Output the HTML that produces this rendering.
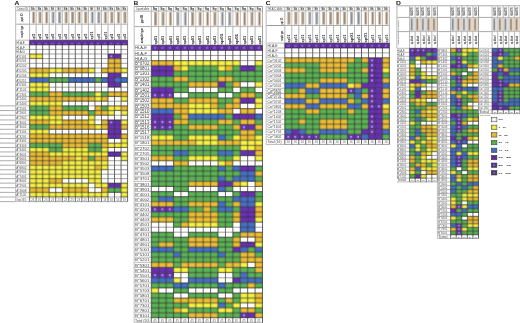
<!DOCTYPE html>
<html><head><meta charset="utf-8"><style>
html,body{margin:0;padding:0;background:#fff;}
body{width:520px;height:323px;overflow:hidden;}
svg{display:block;font-family:"Liberation Sans",sans-serif;will-change:transform;}
</style></head><body>
<svg xmlns="http://www.w3.org/2000/svg" width="520" height="323" viewBox="0 0 520 323">
<defs><filter id="bl" filterUnits="userSpaceOnUse" x="-5" y="-5" width="530" height="333" color-interpolation-filters="sRGB"><feConvolveMatrix order="3" kernelMatrix="0.01917 0.10012 0.01917 0.10012 0.52283 0.10012 0.01917 0.10012 0.01917" divisor="1" edgeMode="duplicate" preserveAlpha="true"/></filter></defs>
<rect x="0" y="0" width="520" height="323" fill="#ffffff"/>
<g filter="url(#bl)">
<rect x="31.87" y="11.70" width="3.40" height="11.80" fill="#efdcc6"/>
<rect x="38.40" y="11.70" width="3.40" height="11.80" fill="#efdcc6"/>
<rect x="44.93" y="11.70" width="3.40" height="11.80" fill="#efdcc6"/>
<rect x="51.47" y="11.70" width="3.40" height="11.80" fill="#dfe5ee"/>
<rect x="58.00" y="11.70" width="3.40" height="11.80" fill="#dfe5ee"/>
<rect x="64.53" y="11.70" width="3.40" height="11.80" fill="#efdcc6"/>
<rect x="71.06" y="11.70" width="3.40" height="11.80" fill="#efdcc6"/>
<rect x="77.60" y="11.70" width="3.40" height="11.80" fill="#efdcc6"/>
<rect x="84.13" y="11.70" width="3.40" height="11.80" fill="#efdcc6"/>
<rect x="90.66" y="11.70" width="3.40" height="11.80" fill="#dfe5ee"/>
<rect x="97.20" y="11.70" width="3.40" height="11.80" fill="#dfe5ee"/>
<rect x="103.73" y="11.70" width="3.40" height="11.80" fill="#efdcc6"/>
<rect x="110.26" y="11.70" width="3.40" height="11.80" fill="#efdcc6"/>
<rect x="116.80" y="11.70" width="3.40" height="11.80" fill="#efdcc6"/>
<rect x="123.33" y="11.70" width="3.40" height="11.80" fill="#efdcc6"/>
<rect x="29.60" y="40.23" width="6.53" height="4.62" fill="#6a2fb8"/>
<rect x="36.13" y="40.23" width="6.53" height="4.62" fill="#6a2fb8"/>
<rect x="42.67" y="40.23" width="6.53" height="4.62" fill="#6a2fb8"/>
<rect x="49.20" y="40.23" width="6.53" height="4.62" fill="#6a2fb8"/>
<rect x="55.73" y="40.23" width="6.53" height="4.62" fill="#6a2fb8"/>
<rect x="62.27" y="40.23" width="6.53" height="4.62" fill="#6a2fb8"/>
<rect x="68.80" y="40.23" width="6.53" height="4.62" fill="#6a2fb8"/>
<rect x="75.33" y="40.23" width="6.53" height="4.62" fill="#6a2fb8"/>
<rect x="81.86" y="40.23" width="6.53" height="4.62" fill="#6a2fb8"/>
<rect x="88.40" y="40.23" width="6.53" height="4.62" fill="#6a2fb8"/>
<rect x="94.93" y="40.23" width="6.53" height="4.62" fill="#6a2fb8"/>
<rect x="101.46" y="40.23" width="6.53" height="4.62" fill="#6a2fb8"/>
<rect x="108.00" y="40.23" width="6.53" height="4.62" fill="#6a2fb8"/>
<rect x="114.53" y="40.23" width="6.53" height="4.62" fill="#6a2fb8"/>
<rect x="121.06" y="40.23" width="6.53" height="4.62" fill="#6a2fb8"/>
<rect x="29.60" y="53.99" width="6.53" height="4.63" fill="#f8f240"/>
<rect x="36.13" y="53.99" width="6.53" height="4.63" fill="#f8f240"/>
<rect x="108.00" y="53.99" width="6.53" height="4.63" fill="#6a2fb8"/>
<rect x="114.53" y="53.99" width="6.53" height="4.63" fill="#6a2fb8"/>
<rect x="108.00" y="58.62" width="6.53" height="4.71" fill="#edbd32"/>
<rect x="114.53" y="58.62" width="6.53" height="4.71" fill="#edbd32"/>
<rect x="108.00" y="63.32" width="6.53" height="4.75" fill="#edbd32"/>
<rect x="114.53" y="63.32" width="6.53" height="4.75" fill="#edbd32"/>
<rect x="29.60" y="68.07" width="6.53" height="4.77" fill="#edbd32"/>
<rect x="36.13" y="68.07" width="6.53" height="4.77" fill="#edbd32"/>
<rect x="42.67" y="68.07" width="6.53" height="4.77" fill="#edbd32"/>
<rect x="49.20" y="68.07" width="6.53" height="4.77" fill="#f8f240"/>
<rect x="55.73" y="68.07" width="6.53" height="4.77" fill="#f8f240"/>
<rect x="62.27" y="68.07" width="6.53" height="4.77" fill="#edbd32"/>
<rect x="68.80" y="68.07" width="6.53" height="4.77" fill="#edbd32"/>
<rect x="75.33" y="68.07" width="6.53" height="4.77" fill="#edbd32"/>
<rect x="81.86" y="68.07" width="6.53" height="4.77" fill="#edbd32"/>
<rect x="88.40" y="68.07" width="6.53" height="4.77" fill="#f8f240"/>
<rect x="101.46" y="68.07" width="6.53" height="4.77" fill="#edbd32"/>
<rect x="108.00" y="68.07" width="6.53" height="4.77" fill="#edbd32"/>
<rect x="114.53" y="68.07" width="6.53" height="4.77" fill="#edbd32"/>
<rect x="121.06" y="68.07" width="6.53" height="4.77" fill="#f8f240"/>
<rect x="29.60" y="72.84" width="6.53" height="4.78" fill="#f8f240"/>
<rect x="36.13" y="72.84" width="6.53" height="4.78" fill="#f8f240"/>
<rect x="42.67" y="72.84" width="6.53" height="4.78" fill="#f8f240"/>
<rect x="108.00" y="72.84" width="6.53" height="4.78" fill="#6a2fb8"/>
<rect x="114.53" y="72.84" width="6.53" height="4.78" fill="#6a2fb8"/>
<rect x="29.60" y="77.62" width="6.53" height="4.78" fill="#4470c8"/>
<rect x="36.13" y="77.62" width="6.53" height="4.78" fill="#4470c8"/>
<rect x="42.67" y="77.62" width="6.53" height="4.78" fill="#4470c8"/>
<rect x="49.20" y="77.62" width="6.53" height="4.78" fill="#5ab354"/>
<rect x="55.73" y="77.62" width="6.53" height="4.78" fill="#5ab354"/>
<rect x="62.27" y="77.62" width="6.53" height="4.78" fill="#5ab354"/>
<rect x="68.80" y="77.62" width="6.53" height="4.78" fill="#4470c8"/>
<rect x="75.33" y="77.62" width="6.53" height="4.78" fill="#4470c8"/>
<rect x="81.86" y="77.62" width="6.53" height="4.78" fill="#4470c8"/>
<rect x="88.40" y="77.62" width="6.53" height="4.78" fill="#4470c8"/>
<rect x="94.93" y="77.62" width="6.53" height="4.78" fill="#5ab354"/>
<rect x="101.46" y="77.62" width="6.53" height="4.78" fill="#4470c8"/>
<rect x="108.00" y="77.62" width="6.53" height="4.78" fill="#6a2fb8"/>
<rect x="114.53" y="77.62" width="6.53" height="4.78" fill="#4470c8"/>
<rect x="121.06" y="77.62" width="6.53" height="4.78" fill="#4470c8"/>
<rect x="29.60" y="82.40" width="6.53" height="4.77" fill="#f8f240"/>
<rect x="36.13" y="82.40" width="6.53" height="4.77" fill="#f8f240"/>
<rect x="42.67" y="82.40" width="6.53" height="4.77" fill="#f8f240"/>
<rect x="108.00" y="82.40" width="6.53" height="4.77" fill="#6a2fb8"/>
<rect x="114.53" y="82.40" width="6.53" height="4.77" fill="#6a2fb8"/>
<rect x="29.60" y="87.17" width="6.53" height="4.72" fill="#f8f240"/>
<rect x="36.13" y="87.17" width="6.53" height="4.72" fill="#f8f240"/>
<rect x="42.67" y="87.17" width="6.53" height="4.72" fill="#f8f240"/>
<rect x="29.60" y="91.89" width="6.53" height="4.68" fill="#5ab354"/>
<rect x="36.13" y="91.89" width="6.53" height="4.68" fill="#5ab354"/>
<rect x="42.67" y="91.89" width="6.53" height="4.68" fill="#5ab354"/>
<rect x="49.20" y="91.89" width="6.53" height="4.68" fill="#edbd32"/>
<rect x="55.73" y="91.89" width="6.53" height="4.68" fill="#edbd32"/>
<rect x="62.27" y="91.89" width="6.53" height="4.68" fill="#5ab354"/>
<rect x="68.80" y="91.89" width="6.53" height="4.68" fill="#5ab354"/>
<rect x="75.33" y="91.89" width="6.53" height="4.68" fill="#5ab354"/>
<rect x="81.86" y="91.89" width="6.53" height="4.68" fill="#5ab354"/>
<rect x="88.40" y="91.89" width="6.53" height="4.68" fill="#5ab354"/>
<rect x="94.93" y="91.89" width="6.53" height="4.68" fill="#f8f240"/>
<rect x="101.46" y="91.89" width="6.53" height="4.68" fill="#5ab354"/>
<rect x="108.00" y="91.89" width="6.53" height="4.68" fill="#edbd32"/>
<rect x="114.53" y="91.89" width="6.53" height="4.68" fill="#edbd32"/>
<rect x="121.06" y="91.89" width="6.53" height="4.68" fill="#edbd32"/>
<rect x="29.60" y="96.57" width="6.53" height="4.66" fill="#edbd32"/>
<rect x="36.13" y="96.57" width="6.53" height="4.66" fill="#edbd32"/>
<rect x="42.67" y="96.57" width="6.53" height="4.66" fill="#edbd32"/>
<rect x="49.20" y="96.57" width="6.53" height="4.66" fill="#edbd32"/>
<rect x="55.73" y="96.57" width="6.53" height="4.66" fill="#edbd32"/>
<rect x="62.27" y="96.57" width="6.53" height="4.66" fill="#edbd32"/>
<rect x="68.80" y="96.57" width="6.53" height="4.66" fill="#edbd32"/>
<rect x="75.33" y="96.57" width="6.53" height="4.66" fill="#edbd32"/>
<rect x="81.86" y="96.57" width="6.53" height="4.66" fill="#edbd32"/>
<rect x="88.40" y="96.57" width="6.53" height="4.66" fill="#edbd32"/>
<rect x="94.93" y="96.57" width="6.53" height="4.66" fill="#f8f240"/>
<rect x="101.46" y="96.57" width="6.53" height="4.66" fill="#edbd32"/>
<rect x="121.06" y="96.57" width="6.53" height="4.66" fill="#f8f240"/>
<rect x="29.60" y="101.23" width="6.53" height="4.66" fill="#f8f240"/>
<rect x="36.13" y="101.23" width="6.53" height="4.66" fill="#f8f240"/>
<rect x="42.67" y="101.23" width="6.53" height="4.66" fill="#f8f240"/>
<rect x="49.20" y="101.23" width="6.53" height="4.66" fill="#f8f240"/>
<rect x="55.73" y="101.23" width="6.53" height="4.66" fill="#f8f240"/>
<rect x="29.60" y="105.89" width="6.53" height="4.67" fill="#5ab354"/>
<rect x="36.13" y="105.89" width="6.53" height="4.67" fill="#5ab354"/>
<rect x="42.67" y="105.89" width="6.53" height="4.67" fill="#5ab354"/>
<rect x="49.20" y="105.89" width="6.53" height="4.67" fill="#edbd32"/>
<rect x="55.73" y="105.89" width="6.53" height="4.67" fill="#edbd32"/>
<rect x="62.27" y="105.89" width="6.53" height="4.67" fill="#5ab354"/>
<rect x="68.80" y="105.89" width="6.53" height="4.67" fill="#5ab354"/>
<rect x="75.33" y="105.89" width="6.53" height="4.67" fill="#5ab354"/>
<rect x="81.86" y="105.89" width="6.53" height="4.67" fill="#5ab354"/>
<rect x="94.93" y="105.89" width="6.53" height="4.67" fill="#edbd32"/>
<rect x="101.46" y="105.89" width="6.53" height="4.67" fill="#5ab354"/>
<rect x="108.00" y="105.89" width="6.53" height="4.67" fill="#f8f240"/>
<rect x="114.53" y="105.89" width="6.53" height="4.67" fill="#f8f240"/>
<rect x="121.06" y="105.89" width="6.53" height="4.67" fill="#edbd32"/>
<rect x="29.60" y="110.57" width="6.53" height="4.69" fill="#5ab354"/>
<rect x="36.13" y="110.57" width="6.53" height="4.69" fill="#5ab354"/>
<rect x="42.67" y="110.57" width="6.53" height="4.69" fill="#5ab354"/>
<rect x="49.20" y="110.57" width="6.53" height="4.69" fill="#edbd32"/>
<rect x="55.73" y="110.57" width="6.53" height="4.69" fill="#edbd32"/>
<rect x="62.27" y="110.57" width="6.53" height="4.69" fill="#edbd32"/>
<rect x="68.80" y="110.57" width="6.53" height="4.69" fill="#edbd32"/>
<rect x="75.33" y="110.57" width="6.53" height="4.69" fill="#edbd32"/>
<rect x="81.86" y="110.57" width="6.53" height="4.69" fill="#edbd32"/>
<rect x="88.40" y="110.57" width="6.53" height="4.69" fill="#5ab354"/>
<rect x="94.93" y="110.57" width="6.53" height="4.69" fill="#edbd32"/>
<rect x="101.46" y="110.57" width="6.53" height="4.69" fill="#edbd32"/>
<rect x="108.00" y="110.57" width="6.53" height="4.69" fill="#f8f240"/>
<rect x="121.06" y="110.57" width="6.53" height="4.69" fill="#f8f240"/>
<rect x="29.60" y="115.26" width="6.53" height="4.69" fill="#f8f240"/>
<rect x="36.13" y="115.26" width="6.53" height="4.69" fill="#f8f240"/>
<rect x="42.67" y="115.26" width="6.53" height="4.69" fill="#f8f240"/>
<rect x="49.20" y="115.26" width="6.53" height="4.69" fill="#f8f240"/>
<rect x="55.73" y="115.26" width="6.53" height="4.69" fill="#f8f240"/>
<rect x="88.40" y="115.26" width="6.53" height="4.69" fill="#f8f240"/>
<rect x="29.60" y="119.95" width="6.53" height="4.68" fill="#edbd32"/>
<rect x="36.13" y="119.95" width="6.53" height="4.68" fill="#edbd32"/>
<rect x="42.67" y="119.95" width="6.53" height="4.68" fill="#edbd32"/>
<rect x="49.20" y="119.95" width="6.53" height="4.68" fill="#f8f240"/>
<rect x="55.73" y="119.95" width="6.53" height="4.68" fill="#f8f240"/>
<rect x="62.27" y="119.95" width="6.53" height="4.68" fill="#edbd32"/>
<rect x="68.80" y="119.95" width="6.53" height="4.68" fill="#edbd32"/>
<rect x="75.33" y="119.95" width="6.53" height="4.68" fill="#edbd32"/>
<rect x="81.86" y="119.95" width="6.53" height="4.68" fill="#edbd32"/>
<rect x="88.40" y="119.95" width="6.53" height="4.68" fill="#f8f240"/>
<rect x="101.46" y="119.95" width="6.53" height="4.68" fill="#edbd32"/>
<rect x="108.00" y="119.95" width="6.53" height="4.68" fill="#6a2fb8"/>
<rect x="114.53" y="119.95" width="6.53" height="4.68" fill="#6a2fb8"/>
<rect x="121.06" y="119.95" width="6.53" height="4.68" fill="#f8f240"/>
<rect x="29.60" y="124.63" width="6.53" height="4.67" fill="#5ab354"/>
<rect x="36.13" y="124.63" width="6.53" height="4.67" fill="#5ab354"/>
<rect x="42.67" y="124.63" width="6.53" height="4.67" fill="#5ab354"/>
<rect x="49.20" y="124.63" width="6.53" height="4.67" fill="#edbd32"/>
<rect x="55.73" y="124.63" width="6.53" height="4.67" fill="#edbd32"/>
<rect x="62.27" y="124.63" width="6.53" height="4.67" fill="#edbd32"/>
<rect x="68.80" y="124.63" width="6.53" height="4.67" fill="#edbd32"/>
<rect x="75.33" y="124.63" width="6.53" height="4.67" fill="#edbd32"/>
<rect x="81.86" y="124.63" width="6.53" height="4.67" fill="#edbd32"/>
<rect x="88.40" y="124.63" width="6.53" height="4.67" fill="#edbd32"/>
<rect x="94.93" y="124.63" width="6.53" height="4.67" fill="#f8f240"/>
<rect x="101.46" y="124.63" width="6.53" height="4.67" fill="#edbd32"/>
<rect x="108.00" y="124.63" width="6.53" height="4.67" fill="#6a2fb8"/>
<rect x="114.53" y="124.63" width="6.53" height="4.67" fill="#6a2fb8"/>
<rect x="121.06" y="124.63" width="6.53" height="4.67" fill="#edbd32"/>
<rect x="29.60" y="129.30" width="6.53" height="4.65" fill="#f8f240"/>
<rect x="36.13" y="129.30" width="6.53" height="4.65" fill="#f8f240"/>
<rect x="42.67" y="129.30" width="6.53" height="4.65" fill="#f8f240"/>
<rect x="108.00" y="129.30" width="6.53" height="4.65" fill="#6a2fb8"/>
<rect x="114.53" y="129.30" width="6.53" height="4.65" fill="#6a2fb8"/>
<rect x="29.60" y="133.95" width="6.53" height="4.60" fill="#edbd32"/>
<rect x="36.13" y="133.95" width="6.53" height="4.60" fill="#edbd32"/>
<rect x="42.67" y="133.95" width="6.53" height="4.60" fill="#edbd32"/>
<rect x="49.20" y="133.95" width="6.53" height="4.60" fill="#edbd32"/>
<rect x="55.73" y="133.95" width="6.53" height="4.60" fill="#edbd32"/>
<rect x="62.27" y="133.95" width="6.53" height="4.60" fill="#edbd32"/>
<rect x="68.80" y="133.95" width="6.53" height="4.60" fill="#edbd32"/>
<rect x="75.33" y="133.95" width="6.53" height="4.60" fill="#edbd32"/>
<rect x="81.86" y="133.95" width="6.53" height="4.60" fill="#edbd32"/>
<rect x="88.40" y="133.95" width="6.53" height="4.60" fill="#edbd32"/>
<rect x="94.93" y="133.95" width="6.53" height="4.60" fill="#edbd32"/>
<rect x="101.46" y="133.95" width="6.53" height="4.60" fill="#edbd32"/>
<rect x="108.00" y="133.95" width="6.53" height="4.60" fill="#6a2fb8"/>
<rect x="114.53" y="133.95" width="6.53" height="4.60" fill="#6a2fb8"/>
<rect x="121.06" y="133.95" width="6.53" height="4.60" fill="#edbd32"/>
<rect x="29.60" y="138.55" width="6.53" height="4.53" fill="#edbd32"/>
<rect x="36.13" y="138.55" width="6.53" height="4.53" fill="#edbd32"/>
<rect x="42.67" y="138.55" width="6.53" height="4.53" fill="#edbd32"/>
<rect x="49.20" y="138.55" width="6.53" height="4.53" fill="#edbd32"/>
<rect x="55.73" y="138.55" width="6.53" height="4.53" fill="#edbd32"/>
<rect x="62.27" y="138.55" width="6.53" height="4.53" fill="#edbd32"/>
<rect x="68.80" y="138.55" width="6.53" height="4.53" fill="#edbd32"/>
<rect x="75.33" y="138.55" width="6.53" height="4.53" fill="#edbd32"/>
<rect x="81.86" y="138.55" width="6.53" height="4.53" fill="#edbd32"/>
<rect x="88.40" y="138.55" width="6.53" height="4.53" fill="#edbd32"/>
<rect x="94.93" y="138.55" width="6.53" height="4.53" fill="#edbd32"/>
<rect x="101.46" y="138.55" width="6.53" height="4.53" fill="#edbd32"/>
<rect x="121.06" y="138.55" width="6.53" height="4.53" fill="#f8f240"/>
<rect x="29.60" y="143.08" width="6.53" height="4.46" fill="#5ab354"/>
<rect x="36.13" y="143.08" width="6.53" height="4.46" fill="#5ab354"/>
<rect x="42.67" y="143.08" width="6.53" height="4.46" fill="#5ab354"/>
<rect x="49.20" y="143.08" width="6.53" height="4.46" fill="#5ab354"/>
<rect x="55.73" y="143.08" width="6.53" height="4.46" fill="#5ab354"/>
<rect x="62.27" y="143.08" width="6.53" height="4.46" fill="#edbd32"/>
<rect x="68.80" y="143.08" width="6.53" height="4.46" fill="#edbd32"/>
<rect x="75.33" y="143.08" width="6.53" height="4.46" fill="#edbd32"/>
<rect x="81.86" y="143.08" width="6.53" height="4.46" fill="#edbd32"/>
<rect x="88.40" y="143.08" width="6.53" height="4.46" fill="#5ab354"/>
<rect x="94.93" y="143.08" width="6.53" height="4.46" fill="#5ab354"/>
<rect x="101.46" y="143.08" width="6.53" height="4.46" fill="#edbd32"/>
<rect x="108.00" y="143.08" width="6.53" height="4.46" fill="#f8f240"/>
<rect x="114.53" y="143.08" width="6.53" height="4.46" fill="#f8f240"/>
<rect x="121.06" y="143.08" width="6.53" height="4.46" fill="#f8f240"/>
<rect x="29.60" y="147.54" width="6.53" height="4.40" fill="#f8f240"/>
<rect x="36.13" y="147.54" width="6.53" height="4.40" fill="#f8f240"/>
<rect x="42.67" y="147.54" width="6.53" height="4.40" fill="#f8f240"/>
<rect x="49.20" y="147.54" width="6.53" height="4.40" fill="#5ab354"/>
<rect x="55.73" y="147.54" width="6.53" height="4.40" fill="#5ab354"/>
<rect x="62.27" y="147.54" width="6.53" height="4.40" fill="#f8f240"/>
<rect x="68.80" y="147.54" width="6.53" height="4.40" fill="#f8f240"/>
<rect x="75.33" y="147.54" width="6.53" height="4.40" fill="#f8f240"/>
<rect x="81.86" y="147.54" width="6.53" height="4.40" fill="#f8f240"/>
<rect x="88.40" y="147.54" width="6.53" height="4.40" fill="#5ab354"/>
<rect x="94.93" y="147.54" width="6.53" height="4.40" fill="#5ab354"/>
<rect x="101.46" y="147.54" width="6.53" height="4.40" fill="#f8f240"/>
<rect x="29.60" y="151.93" width="6.53" height="4.37" fill="#edbd32"/>
<rect x="36.13" y="151.93" width="6.53" height="4.37" fill="#edbd32"/>
<rect x="42.67" y="151.93" width="6.53" height="4.37" fill="#edbd32"/>
<rect x="49.20" y="151.93" width="6.53" height="4.37" fill="#f8f240"/>
<rect x="55.73" y="151.93" width="6.53" height="4.37" fill="#f8f240"/>
<rect x="62.27" y="151.93" width="6.53" height="4.37" fill="#f8f240"/>
<rect x="68.80" y="151.93" width="6.53" height="4.37" fill="#f8f240"/>
<rect x="75.33" y="151.93" width="6.53" height="4.37" fill="#f8f240"/>
<rect x="81.86" y="151.93" width="6.53" height="4.37" fill="#f8f240"/>
<rect x="88.40" y="151.93" width="6.53" height="4.37" fill="#f8f240"/>
<rect x="94.93" y="151.93" width="6.53" height="4.37" fill="#f8f240"/>
<rect x="101.46" y="151.93" width="6.53" height="4.37" fill="#f8f240"/>
<rect x="108.00" y="151.93" width="6.53" height="4.37" fill="#6a2fb8"/>
<rect x="114.53" y="151.93" width="6.53" height="4.37" fill="#6a2fb8"/>
<rect x="121.06" y="151.93" width="6.53" height="4.37" fill="#f8f240"/>
<rect x="29.60" y="156.30" width="6.53" height="4.43" fill="#edbd32"/>
<rect x="36.13" y="156.30" width="6.53" height="4.43" fill="#edbd32"/>
<rect x="42.67" y="156.30" width="6.53" height="4.43" fill="#edbd32"/>
<rect x="49.20" y="156.30" width="6.53" height="4.43" fill="#edbd32"/>
<rect x="55.73" y="156.30" width="6.53" height="4.43" fill="#edbd32"/>
<rect x="62.27" y="156.30" width="6.53" height="4.43" fill="#edbd32"/>
<rect x="68.80" y="156.30" width="6.53" height="4.43" fill="#edbd32"/>
<rect x="75.33" y="156.30" width="6.53" height="4.43" fill="#f8f240"/>
<rect x="81.86" y="156.30" width="6.53" height="4.43" fill="#edbd32"/>
<rect x="88.40" y="156.30" width="6.53" height="4.43" fill="#5ab354"/>
<rect x="94.93" y="156.30" width="6.53" height="4.43" fill="#edbd32"/>
<rect x="101.46" y="156.30" width="6.53" height="4.43" fill="#edbd32"/>
<rect x="121.06" y="156.30" width="6.53" height="4.43" fill="#f8f240"/>
<rect x="29.60" y="160.73" width="6.53" height="4.51" fill="#edbd32"/>
<rect x="36.13" y="160.73" width="6.53" height="4.51" fill="#edbd32"/>
<rect x="42.67" y="160.73" width="6.53" height="4.51" fill="#edbd32"/>
<rect x="49.20" y="160.73" width="6.53" height="4.51" fill="#edbd32"/>
<rect x="55.73" y="160.73" width="6.53" height="4.51" fill="#edbd32"/>
<rect x="62.27" y="160.73" width="6.53" height="4.51" fill="#f8f240"/>
<rect x="68.80" y="160.73" width="6.53" height="4.51" fill="#f8f240"/>
<rect x="75.33" y="160.73" width="6.53" height="4.51" fill="#f8f240"/>
<rect x="81.86" y="160.73" width="6.53" height="4.51" fill="#f8f240"/>
<rect x="88.40" y="160.73" width="6.53" height="4.51" fill="#f8f240"/>
<rect x="94.93" y="160.73" width="6.53" height="4.51" fill="#f8f240"/>
<rect x="101.46" y="160.73" width="6.53" height="4.51" fill="#f8f240"/>
<rect x="29.60" y="165.24" width="6.53" height="4.49" fill="#f8f240"/>
<rect x="36.13" y="165.24" width="6.53" height="4.49" fill="#f8f240"/>
<rect x="42.67" y="165.24" width="6.53" height="4.49" fill="#f8f240"/>
<rect x="49.20" y="165.24" width="6.53" height="4.49" fill="#f8f240"/>
<rect x="55.73" y="165.24" width="6.53" height="4.49" fill="#f8f240"/>
<rect x="62.27" y="165.24" width="6.53" height="4.49" fill="#f8f240"/>
<rect x="68.80" y="165.24" width="6.53" height="4.49" fill="#f8f240"/>
<rect x="75.33" y="165.24" width="6.53" height="4.49" fill="#f8f240"/>
<rect x="81.86" y="165.24" width="6.53" height="4.49" fill="#f8f240"/>
<rect x="88.40" y="165.24" width="6.53" height="4.49" fill="#f8f240"/>
<rect x="94.93" y="165.24" width="6.53" height="4.49" fill="#edbd32"/>
<rect x="101.46" y="165.24" width="6.53" height="4.49" fill="#f8f240"/>
<rect x="29.60" y="169.73" width="6.53" height="4.47" fill="#f8f240"/>
<rect x="36.13" y="169.73" width="6.53" height="4.47" fill="#f8f240"/>
<rect x="42.67" y="169.73" width="6.53" height="4.47" fill="#f8f240"/>
<rect x="49.20" y="169.73" width="6.53" height="4.47" fill="#f8f240"/>
<rect x="55.73" y="169.73" width="6.53" height="4.47" fill="#f8f240"/>
<rect x="62.27" y="169.73" width="6.53" height="4.47" fill="#f8f240"/>
<rect x="68.80" y="169.73" width="6.53" height="4.47" fill="#f8f240"/>
<rect x="75.33" y="169.73" width="6.53" height="4.47" fill="#f8f240"/>
<rect x="81.86" y="169.73" width="6.53" height="4.47" fill="#f8f240"/>
<rect x="88.40" y="169.73" width="6.53" height="4.47" fill="#f8f240"/>
<rect x="94.93" y="169.73" width="6.53" height="4.47" fill="#f8f240"/>
<rect x="29.60" y="174.20" width="6.53" height="4.44" fill="#f8f240"/>
<rect x="36.13" y="174.20" width="6.53" height="4.44" fill="#f8f240"/>
<rect x="42.67" y="174.20" width="6.53" height="4.44" fill="#f8f240"/>
<rect x="49.20" y="174.20" width="6.53" height="4.44" fill="#f8f240"/>
<rect x="55.73" y="174.20" width="6.53" height="4.44" fill="#f8f240"/>
<rect x="62.27" y="174.20" width="6.53" height="4.44" fill="#f8f240"/>
<rect x="68.80" y="174.20" width="6.53" height="4.44" fill="#f8f240"/>
<rect x="75.33" y="174.20" width="6.53" height="4.44" fill="#f8f240"/>
<rect x="81.86" y="174.20" width="6.53" height="4.44" fill="#f8f240"/>
<rect x="88.40" y="174.20" width="6.53" height="4.44" fill="#f8f240"/>
<rect x="94.93" y="174.20" width="6.53" height="4.44" fill="#f8f240"/>
<rect x="29.60" y="178.64" width="6.53" height="4.49" fill="#f8f240"/>
<rect x="36.13" y="178.64" width="6.53" height="4.49" fill="#f8f240"/>
<rect x="42.67" y="178.64" width="6.53" height="4.49" fill="#f8f240"/>
<rect x="49.20" y="178.64" width="6.53" height="4.49" fill="#edbd32"/>
<rect x="55.73" y="178.64" width="6.53" height="4.49" fill="#edbd32"/>
<rect x="88.40" y="178.64" width="6.53" height="4.49" fill="#f8f240"/>
<rect x="94.93" y="178.64" width="6.53" height="4.49" fill="#f8f240"/>
<rect x="29.60" y="183.13" width="6.53" height="4.61" fill="#f8f240"/>
<rect x="36.13" y="183.13" width="6.53" height="4.61" fill="#f8f240"/>
<rect x="42.67" y="183.13" width="6.53" height="4.61" fill="#f8f240"/>
<rect x="49.20" y="183.13" width="6.53" height="4.61" fill="#f8f240"/>
<rect x="55.73" y="183.13" width="6.53" height="4.61" fill="#f8f240"/>
<rect x="62.27" y="183.13" width="6.53" height="4.61" fill="#f8f240"/>
<rect x="68.80" y="183.13" width="6.53" height="4.61" fill="#f8f240"/>
<rect x="75.33" y="183.13" width="6.53" height="4.61" fill="#f8f240"/>
<rect x="81.86" y="183.13" width="6.53" height="4.61" fill="#f8f240"/>
<rect x="94.93" y="183.13" width="6.53" height="4.61" fill="#f8f240"/>
<rect x="101.46" y="183.13" width="6.53" height="4.61" fill="#f8f240"/>
<rect x="108.00" y="183.13" width="6.53" height="4.61" fill="#6a2fb8"/>
<rect x="114.53" y="183.13" width="6.53" height="4.61" fill="#6a2fb8"/>
<rect x="121.06" y="183.13" width="6.53" height="4.61" fill="#f8f240"/>
<rect x="29.60" y="187.74" width="6.53" height="4.63" fill="#edbd32"/>
<rect x="36.13" y="187.74" width="6.53" height="4.63" fill="#edbd32"/>
<rect x="42.67" y="187.74" width="6.53" height="4.63" fill="#edbd32"/>
<rect x="62.27" y="187.74" width="6.53" height="4.63" fill="#edbd32"/>
<rect x="68.80" y="187.74" width="6.53" height="4.63" fill="#edbd32"/>
<rect x="75.33" y="187.74" width="6.53" height="4.63" fill="#edbd32"/>
<rect x="81.86" y="187.74" width="6.53" height="4.63" fill="#edbd32"/>
<rect x="101.46" y="187.74" width="6.53" height="4.63" fill="#edbd32"/>
<rect x="108.00" y="187.74" width="6.53" height="4.63" fill="#5ab354"/>
<rect x="114.53" y="187.74" width="6.53" height="4.63" fill="#5ab354"/>
<rect x="121.06" y="187.74" width="6.53" height="4.63" fill="#f8f240"/>
<rect x="29.60" y="192.37" width="6.53" height="4.62" fill="#f8f240"/>
<rect x="36.13" y="192.37" width="6.53" height="4.62" fill="#f8f240"/>
<rect x="42.67" y="192.37" width="6.53" height="4.62" fill="#f8f240"/>
<rect x="49.20" y="192.37" width="6.53" height="4.62" fill="#f8f240"/>
<rect x="55.73" y="192.37" width="6.53" height="4.62" fill="#f8f240"/>
<rect x="62.27" y="192.37" width="6.53" height="4.62" fill="#f8f240"/>
<rect x="68.80" y="192.37" width="6.53" height="4.62" fill="#f8f240"/>
<rect x="75.33" y="192.37" width="6.53" height="4.62" fill="#f8f240"/>
<rect x="81.86" y="192.37" width="6.53" height="4.62" fill="#f8f240"/>
<rect x="88.40" y="192.37" width="6.53" height="4.62" fill="#f8f240"/>
<rect x="94.93" y="192.37" width="6.53" height="4.62" fill="#f8f240"/>
<rect x="101.46" y="192.37" width="6.53" height="4.62" fill="#f8f240"/>
<rect x="121.06" y="192.37" width="6.53" height="4.62" fill="#f8f240"/>
<text x="32.87" y="10.06" font-size="3.28" fill="#222" text-anchor="middle" font-weight="bold">Sk</text>
<rect x="32.87" y="12.01" width="1.40" height="10.99" fill="#55463a" opacity="0.72"/>
<text x="34.65" y="36.64" font-size="3.0" fill="#2e2e2e" font-weight="bold" text-anchor="middle" textLength="5.77" lengthAdjust="spacingAndGlyphs" transform="rotate(-90 34.65 36.64)">sp01</text>
<text x="39.40" y="10.06" font-size="3.28" fill="#222" text-anchor="middle" font-weight="bold">Sk</text>
<rect x="39.40" y="12.01" width="1.40" height="10.99" fill="#55463a" opacity="0.72"/>
<text x="41.18" y="36.64" font-size="3.0" fill="#2e2e2e" font-weight="bold" text-anchor="middle" textLength="5.77" lengthAdjust="spacingAndGlyphs" transform="rotate(-90 41.18 36.64)">sp01</text>
<text x="45.93" y="10.06" font-size="3.28" fill="#222" text-anchor="middle" font-weight="bold">Sk</text>
<rect x="45.93" y="12.01" width="1.40" height="10.99" fill="#55463a" opacity="0.72"/>
<text x="47.71" y="36.64" font-size="3.0" fill="#2e2e2e" font-weight="bold" text-anchor="middle" textLength="5.77" lengthAdjust="spacingAndGlyphs" transform="rotate(-90 47.71 36.64)">sp01</text>
<text x="52.47" y="10.06" font-size="3.28" fill="#222" text-anchor="middle" font-weight="bold">Sf</text>
<rect x="52.47" y="12.01" width="1.40" height="10.99" fill="#55463a" opacity="0.72"/>
<text x="54.25" y="36.64" font-size="3.0" fill="#2e2e2e" font-weight="bold" text-anchor="middle" textLength="5.77" lengthAdjust="spacingAndGlyphs" transform="rotate(-90 54.25 36.64)">sp01</text>
<text x="59.00" y="10.06" font-size="3.28" fill="#222" text-anchor="middle" font-weight="bold">Sf</text>
<rect x="59.00" y="12.01" width="1.40" height="10.99" fill="#55463a" opacity="0.72"/>
<text x="60.78" y="36.64" font-size="3.0" fill="#2e2e2e" font-weight="bold" text-anchor="middle" textLength="5.77" lengthAdjust="spacingAndGlyphs" transform="rotate(-90 60.78 36.64)">sp01</text>
<text x="65.53" y="10.06" font-size="3.28" fill="#222" text-anchor="middle" font-weight="bold">Sk</text>
<rect x="65.53" y="12.01" width="1.40" height="10.99" fill="#55463a" opacity="0.72"/>
<text x="67.31" y="36.64" font-size="3.0" fill="#2e2e2e" font-weight="bold" text-anchor="middle" textLength="5.77" lengthAdjust="spacingAndGlyphs" transform="rotate(-90 67.31 36.64)">sp01</text>
<text x="72.06" y="10.06" font-size="3.28" fill="#222" text-anchor="middle" font-weight="bold">Sk</text>
<rect x="72.06" y="12.01" width="1.40" height="10.99" fill="#55463a" opacity="0.72"/>
<text x="73.84" y="36.64" font-size="3.0" fill="#2e2e2e" font-weight="bold" text-anchor="middle" textLength="5.77" lengthAdjust="spacingAndGlyphs" transform="rotate(-90 73.84 36.64)">sp01</text>
<text x="78.60" y="10.06" font-size="3.28" fill="#222" text-anchor="middle" font-weight="bold">Sk</text>
<rect x="78.60" y="12.01" width="1.40" height="10.99" fill="#55463a" opacity="0.72"/>
<text x="80.38" y="36.64" font-size="3.0" fill="#2e2e2e" font-weight="bold" text-anchor="middle" textLength="5.77" lengthAdjust="spacingAndGlyphs" transform="rotate(-90 80.38 36.64)">sp01</text>
<text x="85.13" y="10.06" font-size="3.28" fill="#222" text-anchor="middle" font-weight="bold">Sk</text>
<rect x="85.13" y="12.01" width="1.40" height="10.99" fill="#55463a" opacity="0.72"/>
<text x="86.91" y="36.64" font-size="3.0" fill="#2e2e2e" font-weight="bold" text-anchor="middle" textLength="5.77" lengthAdjust="spacingAndGlyphs" transform="rotate(-90 86.91 36.64)">sp01</text>
<text x="91.66" y="10.06" font-size="3.28" fill="#222" text-anchor="middle" font-weight="bold">Sf</text>
<rect x="91.66" y="12.01" width="1.40" height="10.99" fill="#55463a" opacity="0.72"/>
<text x="93.44" y="35.52" font-size="3.0" fill="#2e2e2e" font-weight="bold" text-anchor="middle" textLength="8.01" lengthAdjust="spacingAndGlyphs" transform="rotate(-90 93.44 35.52)">sp01</text>
<text x="98.20" y="10.06" font-size="3.28" fill="#222" text-anchor="middle" font-weight="bold">Sf</text>
<rect x="98.20" y="12.01" width="1.40" height="10.99" fill="#55463a" opacity="0.72"/>
<text x="99.98" y="36.64" font-size="3.0" fill="#2e2e2e" font-weight="bold" text-anchor="middle" textLength="5.77" lengthAdjust="spacingAndGlyphs" transform="rotate(-90 99.98 36.64)">sp01</text>
<text x="104.73" y="10.06" font-size="3.28" fill="#222" text-anchor="middle" font-weight="bold">Sk</text>
<rect x="104.73" y="12.01" width="1.40" height="10.99" fill="#55463a" opacity="0.72"/>
<text x="106.51" y="35.52" font-size="3.0" fill="#2e2e2e" font-weight="bold" text-anchor="middle" textLength="8.01" lengthAdjust="spacingAndGlyphs" transform="rotate(-90 106.51 35.52)">sp01</text>
<text x="111.26" y="10.06" font-size="3.28" fill="#222" text-anchor="middle" font-weight="bold">Sk</text>
<rect x="111.26" y="12.01" width="1.40" height="10.99" fill="#55463a" opacity="0.72"/>
<text x="113.04" y="36.64" font-size="3.0" fill="#2e2e2e" font-weight="bold" text-anchor="middle" textLength="5.77" lengthAdjust="spacingAndGlyphs" transform="rotate(-90 113.04 36.64)">sp01</text>
<text x="117.80" y="10.06" font-size="3.28" fill="#222" text-anchor="middle" font-weight="bold">Sk</text>
<rect x="117.80" y="12.01" width="1.40" height="10.99" fill="#55463a" opacity="0.72"/>
<text x="119.58" y="36.64" font-size="3.0" fill="#2e2e2e" font-weight="bold" text-anchor="middle" textLength="5.77" lengthAdjust="spacingAndGlyphs" transform="rotate(-90 119.58 36.64)">sp01</text>
<text x="124.33" y="10.06" font-size="3.28" fill="#222" text-anchor="middle" font-weight="bold">Sk</text>
<rect x="124.33" y="12.01" width="1.40" height="10.99" fill="#55463a" opacity="0.72"/>
<text x="126.11" y="36.64" font-size="3.0" fill="#2e2e2e" font-weight="bold" text-anchor="middle" textLength="5.77" lengthAdjust="spacingAndGlyphs" transform="rotate(-90 126.11 36.64)">sp01</text>
<text x="22.65" y="9.98" font-size="2.60" fill="#333" text-anchor="middle" font-weight="normal" textLength="10.43" lengthAdjust="spacingAndGlyphs">Donor ID</text>
<text x="23.17" y="17.50" font-size="2.7" fill="#222" font-weight="bold" text-anchor="middle" textLength="8.20" lengthAdjust="spacingAndGlyphs" transform="rotate(-90 23.17 17.50)">ppt ID</text>
<text x="23.17" y="31.65" font-size="2.7" fill="#222" font-weight="bold" text-anchor="middle" textLength="11.70" lengthAdjust="spacingAndGlyphs" transform="rotate(-90 23.17 31.65)">sample type</text>
<text x="32.87" y="43.55" font-size="2.54" fill="#c9b8e8" text-anchor="middle" font-weight="normal">sl</text>
<text x="39.40" y="43.55" font-size="2.54" fill="#c9b8e8" text-anchor="middle" font-weight="normal">sl</text>
<text x="45.93" y="43.55" font-size="2.54" fill="#c9b8e8" text-anchor="middle" font-weight="normal">sl</text>
<text x="52.47" y="43.55" font-size="2.54" fill="#c9b8e8" text-anchor="middle" font-weight="normal">sl</text>
<text x="59.00" y="43.55" font-size="2.54" fill="#c9b8e8" text-anchor="middle" font-weight="normal">sl</text>
<text x="65.53" y="43.55" font-size="2.54" fill="#c9b8e8" text-anchor="middle" font-weight="normal">sl</text>
<text x="72.06" y="43.55" font-size="2.54" fill="#c9b8e8" text-anchor="middle" font-weight="normal">sl</text>
<text x="78.60" y="43.55" font-size="2.54" fill="#c9b8e8" text-anchor="middle" font-weight="normal">sl</text>
<text x="85.13" y="43.55" font-size="2.54" fill="#c9b8e8" text-anchor="middle" font-weight="normal">sl</text>
<text x="91.66" y="43.55" font-size="2.54" fill="#c9b8e8" text-anchor="middle" font-weight="normal">sl</text>
<text x="98.20" y="43.55" font-size="2.54" fill="#c9b8e8" text-anchor="middle" font-weight="normal">sl</text>
<text x="104.73" y="43.55" font-size="2.54" fill="#c9b8e8" text-anchor="middle" font-weight="normal">sl</text>
<text x="111.26" y="43.55" font-size="2.54" fill="#c9b8e8" text-anchor="middle" font-weight="normal">sl</text>
<text x="117.80" y="43.55" font-size="2.54" fill="#c9b8e8" text-anchor="middle" font-weight="normal">sl</text>
<text x="124.33" y="43.55" font-size="2.54" fill="#c9b8e8" text-anchor="middle" font-weight="normal">sl</text>
<rect x="110.36" y="55.38" width="1.80" height="1.85" fill="#d9ccf2" opacity="0.75"/>
<rect x="110.36" y="121.35" width="1.80" height="1.87" fill="#d9ccf2" opacity="0.75"/>
<text x="16.20" y="44.01" font-size="3.92" fill="#3a3a3a" text-anchor="start" font-weight="normal" textLength="8.50" lengthAdjust="spacingAndGlyphs">HLA-E</text>
<text x="16.20" y="48.59" font-size="3.88" fill="#3a3a3a" text-anchor="start" font-weight="normal" textLength="8.50" lengthAdjust="spacingAndGlyphs">HLA-F</text>
<text x="16.20" y="53.17" font-size="3.89" fill="#3a3a3a" text-anchor="start" font-weight="normal" textLength="8.50" lengthAdjust="spacingAndGlyphs">HLA-G</text>
<text x="16.20" y="57.78" font-size="3.93" fill="#3a3a3a" text-anchor="start" font-weight="normal" textLength="10.20" lengthAdjust="spacingAndGlyphs">A*0101</text>
<text x="16.20" y="62.48" font-size="4.00" fill="#3a3a3a" text-anchor="start" font-weight="normal" textLength="10.20" lengthAdjust="spacingAndGlyphs">A*0201</text>
<text x="16.20" y="67.22" font-size="4.04" fill="#3a3a3a" text-anchor="start" font-weight="normal" textLength="10.20" lengthAdjust="spacingAndGlyphs">A*0202</text>
<text x="16.20" y="71.98" font-size="4.05" fill="#3a3a3a" text-anchor="start" font-weight="normal" textLength="10.20" lengthAdjust="spacingAndGlyphs">A*0205</text>
<text x="16.20" y="76.76" font-size="4.06" fill="#3a3a3a" text-anchor="start" font-weight="normal" textLength="10.20" lengthAdjust="spacingAndGlyphs">A*0206</text>
<text x="16.20" y="81.54" font-size="4.06" fill="#3a3a3a" text-anchor="start" font-weight="normal" textLength="10.20" lengthAdjust="spacingAndGlyphs">A*0211</text>
<text x="16.20" y="86.31" font-size="4.05" fill="#3a3a3a" text-anchor="start" font-weight="normal" textLength="10.20" lengthAdjust="spacingAndGlyphs">A*0301</text>
<text x="16.20" y="91.04" font-size="4.02" fill="#3a3a3a" text-anchor="start" font-weight="normal" textLength="10.20" lengthAdjust="spacingAndGlyphs">A*1101</text>
<text x="16.20" y="95.73" font-size="3.98" fill="#3a3a3a" text-anchor="start" font-weight="normal" textLength="10.20" lengthAdjust="spacingAndGlyphs">A*2301</text>
<text x="16.20" y="100.39" font-size="3.96" fill="#3a3a3a" text-anchor="start" font-weight="normal" textLength="10.20" lengthAdjust="spacingAndGlyphs">A*2402</text>
<text x="16.20" y="105.05" font-size="3.96" fill="#3a3a3a" text-anchor="start" font-weight="normal" textLength="10.20" lengthAdjust="spacingAndGlyphs">A*2403</text>
<text x="16.20" y="109.73" font-size="3.97" fill="#3a3a3a" text-anchor="start" font-weight="normal" textLength="10.20" lengthAdjust="spacingAndGlyphs">A*2501</text>
<text x="16.20" y="114.41" font-size="3.99" fill="#3a3a3a" text-anchor="start" font-weight="normal" textLength="10.20" lengthAdjust="spacingAndGlyphs">A*2601</text>
<text x="16.20" y="119.10" font-size="3.99" fill="#3a3a3a" text-anchor="start" font-weight="normal" textLength="10.20" lengthAdjust="spacingAndGlyphs">A*2902</text>
<text x="16.20" y="123.79" font-size="3.98" fill="#3a3a3a" text-anchor="start" font-weight="normal" textLength="10.20" lengthAdjust="spacingAndGlyphs">A*3001</text>
<text x="16.20" y="128.46" font-size="3.97" fill="#3a3a3a" text-anchor="start" font-weight="normal" textLength="10.20" lengthAdjust="spacingAndGlyphs">A*3002</text>
<text x="16.20" y="133.11" font-size="3.95" fill="#3a3a3a" text-anchor="start" font-weight="normal" textLength="10.20" lengthAdjust="spacingAndGlyphs">A*3101</text>
<text x="16.20" y="137.72" font-size="3.91" fill="#3a3a3a" text-anchor="start" font-weight="normal" textLength="10.20" lengthAdjust="spacingAndGlyphs">A*3201</text>
<text x="16.20" y="142.26" font-size="3.85" fill="#3a3a3a" text-anchor="start" font-weight="normal" textLength="10.20" lengthAdjust="spacingAndGlyphs">A*3301</text>
<text x="16.20" y="146.73" font-size="3.79" fill="#3a3a3a" text-anchor="start" font-weight="normal" textLength="10.20" lengthAdjust="spacingAndGlyphs">A*3303</text>
<text x="16.20" y="151.14" font-size="3.74" fill="#3a3a3a" text-anchor="start" font-weight="normal" textLength="10.20" lengthAdjust="spacingAndGlyphs">A*3401</text>
<text x="16.20" y="155.51" font-size="3.71" fill="#3a3a3a" text-anchor="start" font-weight="normal" textLength="10.20" lengthAdjust="spacingAndGlyphs">A*3601</text>
<text x="16.20" y="159.93" font-size="3.76" fill="#3a3a3a" text-anchor="start" font-weight="normal" textLength="10.20" lengthAdjust="spacingAndGlyphs">A*6601</text>
<text x="16.20" y="164.43" font-size="3.83" fill="#3a3a3a" text-anchor="start" font-weight="normal" textLength="10.20" lengthAdjust="spacingAndGlyphs">A*6801</text>
<text x="16.20" y="168.92" font-size="3.82" fill="#3a3a3a" text-anchor="start" font-weight="normal" textLength="10.20" lengthAdjust="spacingAndGlyphs">A*6802</text>
<text x="16.20" y="173.39" font-size="3.80" fill="#3a3a3a" text-anchor="start" font-weight="normal" textLength="10.20" lengthAdjust="spacingAndGlyphs">A*6901</text>
<text x="16.20" y="177.84" font-size="3.77" fill="#3a3a3a" text-anchor="start" font-weight="normal" textLength="10.20" lengthAdjust="spacingAndGlyphs">A*7401</text>
<text x="16.20" y="182.32" font-size="3.82" fill="#3a3a3a" text-anchor="start" font-weight="normal" textLength="10.20" lengthAdjust="spacingAndGlyphs">A*8001</text>
<text x="16.20" y="186.91" font-size="3.92" fill="#3a3a3a" text-anchor="start" font-weight="normal" textLength="10.20" lengthAdjust="spacingAndGlyphs">A*2901</text>
<text x="16.20" y="191.54" font-size="3.94" fill="#3a3a3a" text-anchor="start" font-weight="normal" textLength="10.20" lengthAdjust="spacingAndGlyphs">A*2608</text>
<text x="16.20" y="196.16" font-size="3.93" fill="#3a3a3a" text-anchor="start" font-weight="normal" textLength="10.20" lengthAdjust="spacingAndGlyphs">A*1102</text>
<text x="16.20" y="200.78" font-size="3.92" fill="#3a3a3a" text-anchor="start" font-weight="normal" textLength="10.20" lengthAdjust="spacingAndGlyphs">Total (31)</text>
<text x="32.87" y="200.69" font-size="2.86" fill="#666" text-anchor="middle" font-weight="normal">26</text>
<text x="39.40" y="200.69" font-size="2.86" fill="#666" text-anchor="middle" font-weight="normal">26</text>
<text x="45.93" y="200.69" font-size="2.86" fill="#666" text-anchor="middle" font-weight="normal">26</text>
<text x="52.47" y="200.69" font-size="2.86" fill="#666" text-anchor="middle" font-weight="normal">23</text>
<text x="59.00" y="200.69" font-size="2.86" fill="#666" text-anchor="middle" font-weight="normal">23</text>
<text x="65.53" y="200.69" font-size="2.86" fill="#666" text-anchor="middle" font-weight="normal">23</text>
<text x="72.06" y="200.69" font-size="2.86" fill="#666" text-anchor="middle" font-weight="normal">23</text>
<text x="78.60" y="200.69" font-size="2.86" fill="#666" text-anchor="middle" font-weight="normal">23</text>
<text x="85.13" y="200.69" font-size="2.86" fill="#666" text-anchor="middle" font-weight="normal">23</text>
<text x="91.66" y="200.69" font-size="2.86" fill="#666" text-anchor="middle" font-weight="normal">26</text>
<text x="98.20" y="200.69" font-size="2.86" fill="#666" text-anchor="middle" font-weight="normal">19</text>
<text x="104.73" y="200.69" font-size="2.86" fill="#666" text-anchor="middle" font-weight="normal">18</text>
<text x="111.26" y="200.69" font-size="2.86" fill="#666" text-anchor="middle" font-weight="normal">18</text>
<text x="117.80" y="200.69" font-size="2.86" fill="#666" text-anchor="middle" font-weight="normal">13</text>
<text x="124.33" y="200.69" font-size="2.86" fill="#666" text-anchor="middle" font-weight="normal">19</text>
<line x1="15.70" y1="40.23" x2="29.60" y2="40.23" stroke="#b4b4b4" stroke-width="0.7"/>
<line x1="29.60" y1="40.23" x2="127.59" y2="40.23" stroke="#262626" stroke-width="0.7"/>
<line x1="15.70" y1="44.85" x2="29.60" y2="44.85" stroke="#b4b4b4" stroke-width="0.7"/>
<line x1="29.60" y1="44.85" x2="127.59" y2="44.85" stroke="#262626" stroke-width="0.7"/>
<line x1="15.70" y1="49.42" x2="29.60" y2="49.42" stroke="#b4b4b4" stroke-width="0.7"/>
<line x1="29.60" y1="49.42" x2="127.59" y2="49.42" stroke="#8c8c8c" stroke-width="0.7"/>
<line x1="15.70" y1="53.99" x2="29.60" y2="53.99" stroke="#b4b4b4" stroke-width="0.7"/>
<line x1="29.60" y1="53.99" x2="42.67" y2="53.99" stroke="#262626" stroke-width="0.7"/>
<line x1="42.67" y1="53.99" x2="108.00" y2="53.99" stroke="#8c8c8c" stroke-width="0.7"/>
<line x1="108.00" y1="53.99" x2="121.06" y2="53.99" stroke="#262626" stroke-width="0.7"/>
<line x1="121.06" y1="53.99" x2="127.59" y2="53.99" stroke="#8c8c8c" stroke-width="0.7"/>
<line x1="15.70" y1="58.62" x2="29.60" y2="58.62" stroke="#b4b4b4" stroke-width="0.7"/>
<line x1="29.60" y1="58.62" x2="42.67" y2="58.62" stroke="#262626" stroke-width="0.7"/>
<line x1="42.67" y1="58.62" x2="108.00" y2="58.62" stroke="#8c8c8c" stroke-width="0.7"/>
<line x1="108.00" y1="58.62" x2="121.06" y2="58.62" stroke="#262626" stroke-width="0.7"/>
<line x1="121.06" y1="58.62" x2="127.59" y2="58.62" stroke="#8c8c8c" stroke-width="0.7"/>
<line x1="15.70" y1="63.32" x2="29.60" y2="63.32" stroke="#b4b4b4" stroke-width="0.7"/>
<line x1="29.60" y1="63.32" x2="108.00" y2="63.32" stroke="#8c8c8c" stroke-width="0.7"/>
<line x1="108.00" y1="63.32" x2="121.06" y2="63.32" stroke="#262626" stroke-width="0.7"/>
<line x1="121.06" y1="63.32" x2="127.59" y2="63.32" stroke="#8c8c8c" stroke-width="0.7"/>
<line x1="15.70" y1="68.07" x2="29.60" y2="68.07" stroke="#b4b4b4" stroke-width="0.7"/>
<line x1="29.60" y1="68.07" x2="94.93" y2="68.07" stroke="#262626" stroke-width="0.7"/>
<line x1="94.93" y1="68.07" x2="101.46" y2="68.07" stroke="#8c8c8c" stroke-width="0.7"/>
<line x1="101.46" y1="68.07" x2="127.59" y2="68.07" stroke="#262626" stroke-width="0.7"/>
<line x1="15.70" y1="72.84" x2="29.60" y2="72.84" stroke="#b4b4b4" stroke-width="0.7"/>
<line x1="29.60" y1="72.84" x2="94.93" y2="72.84" stroke="#262626" stroke-width="0.7"/>
<line x1="94.93" y1="72.84" x2="101.46" y2="72.84" stroke="#8c8c8c" stroke-width="0.7"/>
<line x1="101.46" y1="72.84" x2="127.59" y2="72.84" stroke="#262626" stroke-width="0.7"/>
<line x1="15.70" y1="77.62" x2="29.60" y2="77.62" stroke="#b4b4b4" stroke-width="0.7"/>
<line x1="29.60" y1="77.62" x2="127.59" y2="77.62" stroke="#262626" stroke-width="0.7"/>
<line x1="15.70" y1="82.40" x2="29.60" y2="82.40" stroke="#b4b4b4" stroke-width="0.7"/>
<line x1="29.60" y1="82.40" x2="127.59" y2="82.40" stroke="#262626" stroke-width="0.7"/>
<line x1="15.70" y1="87.17" x2="29.60" y2="87.17" stroke="#b4b4b4" stroke-width="0.7"/>
<line x1="29.60" y1="87.17" x2="49.20" y2="87.17" stroke="#262626" stroke-width="0.7"/>
<line x1="49.20" y1="87.17" x2="108.00" y2="87.17" stroke="#8c8c8c" stroke-width="0.7"/>
<line x1="108.00" y1="87.17" x2="121.06" y2="87.17" stroke="#262626" stroke-width="0.7"/>
<line x1="121.06" y1="87.17" x2="127.59" y2="87.17" stroke="#8c8c8c" stroke-width="0.7"/>
<line x1="15.70" y1="91.89" x2="29.60" y2="91.89" stroke="#b4b4b4" stroke-width="0.7"/>
<line x1="29.60" y1="91.89" x2="127.59" y2="91.89" stroke="#262626" stroke-width="0.7"/>
<line x1="15.70" y1="96.57" x2="29.60" y2="96.57" stroke="#b4b4b4" stroke-width="0.7"/>
<line x1="29.60" y1="96.57" x2="127.59" y2="96.57" stroke="#262626" stroke-width="0.7"/>
<line x1="15.70" y1="101.23" x2="29.60" y2="101.23" stroke="#b4b4b4" stroke-width="0.7"/>
<line x1="29.60" y1="101.23" x2="108.00" y2="101.23" stroke="#262626" stroke-width="0.7"/>
<line x1="108.00" y1="101.23" x2="121.06" y2="101.23" stroke="#8c8c8c" stroke-width="0.7"/>
<line x1="121.06" y1="101.23" x2="127.59" y2="101.23" stroke="#262626" stroke-width="0.7"/>
<line x1="15.70" y1="105.89" x2="29.60" y2="105.89" stroke="#b4b4b4" stroke-width="0.7"/>
<line x1="29.60" y1="105.89" x2="88.40" y2="105.89" stroke="#262626" stroke-width="0.7"/>
<line x1="88.40" y1="105.89" x2="94.93" y2="105.89" stroke="#8c8c8c" stroke-width="0.7"/>
<line x1="94.93" y1="105.89" x2="127.59" y2="105.89" stroke="#262626" stroke-width="0.7"/>
<line x1="15.70" y1="110.57" x2="29.60" y2="110.57" stroke="#b4b4b4" stroke-width="0.7"/>
<line x1="29.60" y1="110.57" x2="127.59" y2="110.57" stroke="#262626" stroke-width="0.7"/>
<line x1="15.70" y1="115.26" x2="29.60" y2="115.26" stroke="#b4b4b4" stroke-width="0.7"/>
<line x1="29.60" y1="115.26" x2="114.53" y2="115.26" stroke="#262626" stroke-width="0.7"/>
<line x1="114.53" y1="115.26" x2="121.06" y2="115.26" stroke="#8c8c8c" stroke-width="0.7"/>
<line x1="121.06" y1="115.26" x2="127.59" y2="115.26" stroke="#262626" stroke-width="0.7"/>
<line x1="15.70" y1="119.95" x2="29.60" y2="119.95" stroke="#b4b4b4" stroke-width="0.7"/>
<line x1="29.60" y1="119.95" x2="94.93" y2="119.95" stroke="#262626" stroke-width="0.7"/>
<line x1="94.93" y1="119.95" x2="101.46" y2="119.95" stroke="#8c8c8c" stroke-width="0.7"/>
<line x1="101.46" y1="119.95" x2="127.59" y2="119.95" stroke="#262626" stroke-width="0.7"/>
<line x1="15.70" y1="124.63" x2="29.60" y2="124.63" stroke="#b4b4b4" stroke-width="0.7"/>
<line x1="29.60" y1="124.63" x2="127.59" y2="124.63" stroke="#262626" stroke-width="0.7"/>
<line x1="15.70" y1="129.30" x2="29.60" y2="129.30" stroke="#b4b4b4" stroke-width="0.7"/>
<line x1="29.60" y1="129.30" x2="127.59" y2="129.30" stroke="#262626" stroke-width="0.7"/>
<line x1="15.70" y1="133.95" x2="29.60" y2="133.95" stroke="#b4b4b4" stroke-width="0.7"/>
<line x1="29.60" y1="133.95" x2="127.59" y2="133.95" stroke="#262626" stroke-width="0.7"/>
<line x1="15.70" y1="138.55" x2="29.60" y2="138.55" stroke="#b4b4b4" stroke-width="0.7"/>
<line x1="29.60" y1="138.55" x2="127.59" y2="138.55" stroke="#262626" stroke-width="0.7"/>
<line x1="15.70" y1="143.08" x2="29.60" y2="143.08" stroke="#b4b4b4" stroke-width="0.7"/>
<line x1="29.60" y1="143.08" x2="127.59" y2="143.08" stroke="#262626" stroke-width="0.7"/>
<line x1="15.70" y1="147.54" x2="29.60" y2="147.54" stroke="#b4b4b4" stroke-width="0.7"/>
<line x1="29.60" y1="147.54" x2="127.59" y2="147.54" stroke="#262626" stroke-width="0.7"/>
<line x1="15.70" y1="151.93" x2="29.60" y2="151.93" stroke="#b4b4b4" stroke-width="0.7"/>
<line x1="29.60" y1="151.93" x2="127.59" y2="151.93" stroke="#262626" stroke-width="0.7"/>
<line x1="15.70" y1="156.30" x2="29.60" y2="156.30" stroke="#b4b4b4" stroke-width="0.7"/>
<line x1="29.60" y1="156.30" x2="127.59" y2="156.30" stroke="#262626" stroke-width="0.7"/>
<line x1="15.70" y1="160.73" x2="29.60" y2="160.73" stroke="#b4b4b4" stroke-width="0.7"/>
<line x1="29.60" y1="160.73" x2="108.00" y2="160.73" stroke="#262626" stroke-width="0.7"/>
<line x1="108.00" y1="160.73" x2="121.06" y2="160.73" stroke="#8c8c8c" stroke-width="0.7"/>
<line x1="121.06" y1="160.73" x2="127.59" y2="160.73" stroke="#262626" stroke-width="0.7"/>
<line x1="15.70" y1="165.24" x2="29.60" y2="165.24" stroke="#b4b4b4" stroke-width="0.7"/>
<line x1="29.60" y1="165.24" x2="108.00" y2="165.24" stroke="#262626" stroke-width="0.7"/>
<line x1="108.00" y1="165.24" x2="127.59" y2="165.24" stroke="#8c8c8c" stroke-width="0.7"/>
<line x1="15.70" y1="169.73" x2="29.60" y2="169.73" stroke="#b4b4b4" stroke-width="0.7"/>
<line x1="29.60" y1="169.73" x2="108.00" y2="169.73" stroke="#262626" stroke-width="0.7"/>
<line x1="108.00" y1="169.73" x2="127.59" y2="169.73" stroke="#8c8c8c" stroke-width="0.7"/>
<line x1="15.70" y1="174.20" x2="29.60" y2="174.20" stroke="#b4b4b4" stroke-width="0.7"/>
<line x1="29.60" y1="174.20" x2="101.46" y2="174.20" stroke="#262626" stroke-width="0.7"/>
<line x1="101.46" y1="174.20" x2="127.59" y2="174.20" stroke="#8c8c8c" stroke-width="0.7"/>
<line x1="15.70" y1="178.64" x2="29.60" y2="178.64" stroke="#b4b4b4" stroke-width="0.7"/>
<line x1="29.60" y1="178.64" x2="101.46" y2="178.64" stroke="#262626" stroke-width="0.7"/>
<line x1="101.46" y1="178.64" x2="127.59" y2="178.64" stroke="#8c8c8c" stroke-width="0.7"/>
<line x1="15.70" y1="183.13" x2="29.60" y2="183.13" stroke="#b4b4b4" stroke-width="0.7"/>
<line x1="29.60" y1="183.13" x2="127.59" y2="183.13" stroke="#262626" stroke-width="0.7"/>
<line x1="15.70" y1="187.74" x2="29.60" y2="187.74" stroke="#b4b4b4" stroke-width="0.7"/>
<line x1="29.60" y1="187.74" x2="88.40" y2="187.74" stroke="#262626" stroke-width="0.7"/>
<line x1="88.40" y1="187.74" x2="94.93" y2="187.74" stroke="#8c8c8c" stroke-width="0.7"/>
<line x1="94.93" y1="187.74" x2="127.59" y2="187.74" stroke="#262626" stroke-width="0.7"/>
<line x1="15.70" y1="192.37" x2="29.60" y2="192.37" stroke="#b4b4b4" stroke-width="0.7"/>
<line x1="29.60" y1="192.37" x2="127.59" y2="192.37" stroke="#262626" stroke-width="0.7"/>
<line x1="15.70" y1="197.00" x2="29.60" y2="197.00" stroke="#b4b4b4" stroke-width="0.7"/>
<line x1="29.60" y1="197.00" x2="108.00" y2="197.00" stroke="#262626" stroke-width="0.7"/>
<line x1="108.00" y1="197.00" x2="121.06" y2="197.00" stroke="#8c8c8c" stroke-width="0.7"/>
<line x1="121.06" y1="197.00" x2="127.59" y2="197.00" stroke="#262626" stroke-width="0.7"/>
<line x1="15.70" y1="201.61" x2="29.60" y2="201.61" stroke="#b4b4b4" stroke-width="0.7"/>
<line x1="29.60" y1="201.61" x2="127.59" y2="201.61" stroke="#8c8c8c" stroke-width="0.7"/>
<line x1="15.70" y1="6.70" x2="127.59" y2="6.70" stroke="#9a9a9a" stroke-width="0.7"/>
<line x1="15.70" y1="10.80" x2="127.59" y2="10.80" stroke="#9a9a9a" stroke-width="0.7"/>
<line x1="15.70" y1="24.20" x2="127.59" y2="24.20" stroke="#9a9a9a" stroke-width="0.7"/>
<line x1="15.70" y1="6.70" x2="15.70" y2="201.61" stroke="#b4b4b4" stroke-width="0.7"/>
<line x1="29.60" y1="6.70" x2="29.60" y2="40.23" stroke="#ababab" stroke-width="0.7"/>
<line x1="29.60" y1="40.23" x2="29.60" y2="201.61" stroke="#262626" stroke-width="0.7"/>
<line x1="36.13" y1="6.70" x2="36.13" y2="40.23" stroke="#ababab" stroke-width="0.7"/>
<line x1="36.13" y1="40.23" x2="36.13" y2="201.61" stroke="#262626" stroke-width="0.7"/>
<line x1="42.67" y1="6.70" x2="42.67" y2="40.23" stroke="#ababab" stroke-width="0.7"/>
<line x1="42.67" y1="40.23" x2="42.67" y2="201.61" stroke="#262626" stroke-width="0.7"/>
<line x1="49.20" y1="6.70" x2="49.20" y2="40.23" stroke="#ababab" stroke-width="0.7"/>
<line x1="49.20" y1="40.23" x2="49.20" y2="201.61" stroke="#262626" stroke-width="0.7"/>
<line x1="55.73" y1="6.70" x2="55.73" y2="40.23" stroke="#ababab" stroke-width="0.7"/>
<line x1="55.73" y1="40.23" x2="55.73" y2="201.61" stroke="#262626" stroke-width="0.7"/>
<line x1="62.27" y1="6.70" x2="62.27" y2="40.23" stroke="#ababab" stroke-width="0.7"/>
<line x1="62.27" y1="40.23" x2="62.27" y2="201.61" stroke="#262626" stroke-width="0.7"/>
<line x1="68.80" y1="6.70" x2="68.80" y2="40.23" stroke="#ababab" stroke-width="0.7"/>
<line x1="68.80" y1="40.23" x2="68.80" y2="201.61" stroke="#262626" stroke-width="0.7"/>
<line x1="75.33" y1="6.70" x2="75.33" y2="40.23" stroke="#ababab" stroke-width="0.7"/>
<line x1="75.33" y1="40.23" x2="75.33" y2="201.61" stroke="#262626" stroke-width="0.7"/>
<line x1="81.86" y1="6.70" x2="81.86" y2="40.23" stroke="#ababab" stroke-width="0.7"/>
<line x1="81.86" y1="40.23" x2="81.86" y2="201.61" stroke="#262626" stroke-width="0.7"/>
<line x1="88.40" y1="6.70" x2="88.40" y2="40.23" stroke="#ababab" stroke-width="0.7"/>
<line x1="88.40" y1="40.23" x2="88.40" y2="201.61" stroke="#262626" stroke-width="0.7"/>
<line x1="94.93" y1="6.70" x2="94.93" y2="40.23" stroke="#ababab" stroke-width="0.7"/>
<line x1="94.93" y1="40.23" x2="94.93" y2="201.61" stroke="#262626" stroke-width="0.7"/>
<line x1="101.46" y1="6.70" x2="101.46" y2="40.23" stroke="#ababab" stroke-width="0.7"/>
<line x1="101.46" y1="40.23" x2="101.46" y2="201.61" stroke="#262626" stroke-width="0.7"/>
<line x1="108.00" y1="6.70" x2="108.00" y2="40.23" stroke="#ababab" stroke-width="0.7"/>
<line x1="108.00" y1="40.23" x2="108.00" y2="201.61" stroke="#262626" stroke-width="0.7"/>
<line x1="114.53" y1="6.70" x2="114.53" y2="40.23" stroke="#ababab" stroke-width="0.7"/>
<line x1="114.53" y1="40.23" x2="114.53" y2="201.61" stroke="#262626" stroke-width="0.7"/>
<line x1="121.06" y1="6.70" x2="121.06" y2="40.23" stroke="#ababab" stroke-width="0.7"/>
<line x1="121.06" y1="40.23" x2="121.06" y2="201.61" stroke="#262626" stroke-width="0.7"/>
<line x1="127.59" y1="6.70" x2="127.59" y2="40.23" stroke="#ababab" stroke-width="0.7"/>
<line x1="127.59" y1="40.23" x2="127.59" y2="201.61" stroke="#262626" stroke-width="0.7"/>
<rect x="154.01" y="12.00" width="3.40" height="13.90" fill="#efdcc6"/>
<rect x="161.42" y="12.00" width="3.40" height="13.90" fill="#efdcc6"/>
<rect x="168.83" y="12.00" width="3.40" height="13.90" fill="#efdcc6"/>
<rect x="176.25" y="12.00" width="3.40" height="13.90" fill="#dfe5ee"/>
<rect x="183.66" y="12.00" width="3.40" height="13.90" fill="#dfe5ee"/>
<rect x="191.07" y="12.00" width="3.40" height="13.90" fill="#efdcc6"/>
<rect x="198.48" y="12.00" width="3.40" height="13.90" fill="#efdcc6"/>
<rect x="205.90" y="12.00" width="3.40" height="13.90" fill="#efdcc6"/>
<rect x="213.31" y="12.00" width="3.40" height="13.90" fill="#efdcc6"/>
<rect x="220.72" y="12.00" width="3.40" height="13.90" fill="#dfe5ee"/>
<rect x="228.14" y="12.00" width="3.40" height="13.90" fill="#dfe5ee"/>
<rect x="235.55" y="12.00" width="3.40" height="13.90" fill="#efdcc6"/>
<rect x="242.96" y="12.00" width="3.40" height="13.90" fill="#efdcc6"/>
<rect x="250.38" y="12.00" width="3.40" height="13.90" fill="#efdcc6"/>
<rect x="257.79" y="12.00" width="3.40" height="13.90" fill="#efdcc6"/>
<rect x="151.30" y="45.21" width="7.41" height="5.13" fill="#6a2fb8"/>
<rect x="158.71" y="45.21" width="7.41" height="5.13" fill="#6a2fb8"/>
<rect x="166.13" y="45.21" width="7.41" height="5.13" fill="#6a2fb8"/>
<rect x="173.54" y="45.21" width="7.41" height="5.13" fill="#6a2fb8"/>
<rect x="180.95" y="45.21" width="7.41" height="5.13" fill="#6a2fb8"/>
<rect x="188.37" y="45.21" width="7.41" height="5.13" fill="#6a2fb8"/>
<rect x="195.78" y="45.21" width="7.41" height="5.13" fill="#6a2fb8"/>
<rect x="203.19" y="45.21" width="7.41" height="5.13" fill="#6a2fb8"/>
<rect x="210.60" y="45.21" width="7.41" height="5.13" fill="#6a2fb8"/>
<rect x="218.02" y="45.21" width="7.41" height="5.13" fill="#6a2fb8"/>
<rect x="225.43" y="45.21" width="7.41" height="5.13" fill="#6a2fb8"/>
<rect x="232.84" y="45.21" width="7.41" height="5.13" fill="#6a2fb8"/>
<rect x="240.26" y="45.21" width="7.41" height="5.13" fill="#6a2fb8"/>
<rect x="247.67" y="45.21" width="7.41" height="5.13" fill="#6a2fb8"/>
<rect x="255.08" y="45.21" width="7.41" height="5.13" fill="#6a2fb8"/>
<rect x="151.30" y="60.60" width="7.41" height="5.19" fill="#edbd32"/>
<rect x="158.71" y="60.60" width="7.41" height="5.19" fill="#edbd32"/>
<rect x="166.13" y="60.60" width="7.41" height="5.19" fill="#edbd32"/>
<rect x="173.54" y="60.60" width="7.41" height="5.19" fill="#f8f240"/>
<rect x="180.95" y="60.60" width="7.41" height="5.19" fill="#f8f240"/>
<rect x="188.37" y="60.60" width="7.41" height="5.19" fill="#f8f240"/>
<rect x="195.78" y="60.60" width="7.41" height="5.19" fill="#f8f240"/>
<rect x="203.19" y="60.60" width="7.41" height="5.19" fill="#f8f240"/>
<rect x="210.60" y="60.60" width="7.41" height="5.19" fill="#f8f240"/>
<rect x="218.02" y="60.60" width="7.41" height="5.19" fill="#f8f240"/>
<rect x="225.43" y="60.60" width="7.41" height="5.19" fill="#f8f240"/>
<rect x="232.84" y="60.60" width="7.41" height="5.19" fill="#f8f240"/>
<rect x="255.08" y="60.60" width="7.41" height="5.19" fill="#f8f240"/>
<rect x="151.30" y="65.79" width="7.41" height="5.26" fill="#6a2fb8"/>
<rect x="158.71" y="65.79" width="7.41" height="5.26" fill="#6a2fb8"/>
<rect x="166.13" y="65.79" width="7.41" height="5.26" fill="#6a2fb8"/>
<rect x="173.54" y="65.79" width="7.41" height="5.26" fill="#edbd32"/>
<rect x="180.95" y="65.79" width="7.41" height="5.26" fill="#f8f240"/>
<rect x="188.37" y="65.79" width="7.41" height="5.26" fill="#5ab354"/>
<rect x="195.78" y="65.79" width="7.41" height="5.26" fill="#5ab354"/>
<rect x="203.19" y="65.79" width="7.41" height="5.26" fill="#5ab354"/>
<rect x="210.60" y="65.79" width="7.41" height="5.26" fill="#5ab354"/>
<rect x="218.02" y="65.79" width="7.41" height="5.26" fill="#f8f240"/>
<rect x="225.43" y="65.79" width="7.41" height="5.26" fill="#edbd32"/>
<rect x="232.84" y="65.79" width="7.41" height="5.26" fill="#5ab354"/>
<rect x="240.26" y="65.79" width="7.41" height="5.26" fill="#6a2fb8"/>
<rect x="247.67" y="65.79" width="7.41" height="5.26" fill="#6a2fb8"/>
<rect x="255.08" y="65.79" width="7.41" height="5.26" fill="#5ab354"/>
<rect x="151.30" y="71.05" width="7.41" height="5.35" fill="#6a2fb8"/>
<rect x="158.71" y="71.05" width="7.41" height="5.35" fill="#6a2fb8"/>
<rect x="166.13" y="71.05" width="7.41" height="5.35" fill="#6a2fb8"/>
<rect x="173.54" y="71.05" width="7.41" height="5.35" fill="#5ab354"/>
<rect x="180.95" y="71.05" width="7.41" height="5.35" fill="#5ab354"/>
<rect x="188.37" y="71.05" width="7.41" height="5.35" fill="#5ab354"/>
<rect x="195.78" y="71.05" width="7.41" height="5.35" fill="#5ab354"/>
<rect x="203.19" y="71.05" width="7.41" height="5.35" fill="#5ab354"/>
<rect x="210.60" y="71.05" width="7.41" height="5.35" fill="#5ab354"/>
<rect x="218.02" y="71.05" width="7.41" height="5.35" fill="#5ab354"/>
<rect x="225.43" y="71.05" width="7.41" height="5.35" fill="#5ab354"/>
<rect x="232.84" y="71.05" width="7.41" height="5.35" fill="#5ab354"/>
<rect x="240.26" y="71.05" width="7.41" height="5.35" fill="#5ab354"/>
<rect x="247.67" y="71.05" width="7.41" height="5.35" fill="#5ab354"/>
<rect x="255.08" y="71.05" width="7.41" height="5.35" fill="#5ab354"/>
<rect x="151.30" y="76.40" width="7.41" height="5.40" fill="#5ab354"/>
<rect x="158.71" y="76.40" width="7.41" height="5.40" fill="#5ab354"/>
<rect x="166.13" y="76.40" width="7.41" height="5.40" fill="#5ab354"/>
<rect x="173.54" y="76.40" width="7.41" height="5.40" fill="#edbd32"/>
<rect x="180.95" y="76.40" width="7.41" height="5.40" fill="#edbd32"/>
<rect x="188.37" y="76.40" width="7.41" height="5.40" fill="#5ab354"/>
<rect x="195.78" y="76.40" width="7.41" height="5.40" fill="#5ab354"/>
<rect x="203.19" y="76.40" width="7.41" height="5.40" fill="#5ab354"/>
<rect x="210.60" y="76.40" width="7.41" height="5.40" fill="#5ab354"/>
<rect x="218.02" y="76.40" width="7.41" height="5.40" fill="#edbd32"/>
<rect x="225.43" y="76.40" width="7.41" height="5.40" fill="#edbd32"/>
<rect x="232.84" y="76.40" width="7.41" height="5.40" fill="#5ab354"/>
<rect x="240.26" y="76.40" width="7.41" height="5.40" fill="#5ab354"/>
<rect x="247.67" y="76.40" width="7.41" height="5.40" fill="#5ab354"/>
<rect x="255.08" y="76.40" width="7.41" height="5.40" fill="#5ab354"/>
<rect x="151.30" y="81.80" width="7.41" height="5.41" fill="#5ab354"/>
<rect x="158.71" y="81.80" width="7.41" height="5.41" fill="#5ab354"/>
<rect x="166.13" y="81.80" width="7.41" height="5.41" fill="#5ab354"/>
<rect x="173.54" y="81.80" width="7.41" height="5.41" fill="#5ab354"/>
<rect x="180.95" y="81.80" width="7.41" height="5.41" fill="#5ab354"/>
<rect x="188.37" y="81.80" width="7.41" height="5.41" fill="#edbd32"/>
<rect x="195.78" y="81.80" width="7.41" height="5.41" fill="#edbd32"/>
<rect x="203.19" y="81.80" width="7.41" height="5.41" fill="#edbd32"/>
<rect x="210.60" y="81.80" width="7.41" height="5.41" fill="#edbd32"/>
<rect x="218.02" y="81.80" width="7.41" height="5.41" fill="#6a2fb8"/>
<rect x="225.43" y="81.80" width="7.41" height="5.41" fill="#5ab354"/>
<rect x="232.84" y="81.80" width="7.41" height="5.41" fill="#edbd32"/>
<rect x="255.08" y="81.80" width="7.41" height="5.41" fill="#f8f240"/>
<rect x="151.30" y="87.21" width="7.41" height="5.38" fill="#6a2fb8"/>
<rect x="158.71" y="87.21" width="7.41" height="5.38" fill="#6a2fb8"/>
<rect x="166.13" y="87.21" width="7.41" height="5.38" fill="#6a2fb8"/>
<rect x="173.54" y="87.21" width="7.41" height="5.38" fill="#5ab354"/>
<rect x="180.95" y="87.21" width="7.41" height="5.38" fill="#5ab354"/>
<rect x="218.02" y="87.21" width="7.41" height="5.38" fill="#5ab354"/>
<rect x="225.43" y="87.21" width="7.41" height="5.38" fill="#5ab354"/>
<rect x="240.26" y="87.21" width="7.41" height="5.38" fill="#5ab354"/>
<rect x="247.67" y="87.21" width="7.41" height="5.38" fill="#5ab354"/>
<rect x="151.30" y="92.59" width="7.41" height="5.35" fill="#6a2fb8"/>
<rect x="158.71" y="92.59" width="7.41" height="5.35" fill="#6a2fb8"/>
<rect x="166.13" y="92.59" width="7.41" height="5.35" fill="#6a2fb8"/>
<rect x="188.37" y="92.59" width="7.41" height="5.35" fill="#5ab354"/>
<rect x="195.78" y="92.59" width="7.41" height="5.35" fill="#5ab354"/>
<rect x="203.19" y="92.59" width="7.41" height="5.35" fill="#5ab354"/>
<rect x="210.60" y="92.59" width="7.41" height="5.35" fill="#5ab354"/>
<rect x="232.84" y="92.59" width="7.41" height="5.35" fill="#5ab354"/>
<rect x="240.26" y="92.59" width="7.41" height="5.35" fill="#edbd32"/>
<rect x="247.67" y="92.59" width="7.41" height="5.35" fill="#edbd32"/>
<rect x="255.08" y="92.59" width="7.41" height="5.35" fill="#5ab354"/>
<rect x="151.30" y="97.93" width="7.41" height="5.33" fill="#edbd32"/>
<rect x="158.71" y="97.93" width="7.41" height="5.33" fill="#edbd32"/>
<rect x="166.13" y="97.93" width="7.41" height="5.33" fill="#edbd32"/>
<rect x="173.54" y="97.93" width="7.41" height="5.33" fill="#5ab354"/>
<rect x="180.95" y="97.93" width="7.41" height="5.33" fill="#5ab354"/>
<rect x="188.37" y="97.93" width="7.41" height="5.33" fill="#edbd32"/>
<rect x="195.78" y="97.93" width="7.41" height="5.33" fill="#edbd32"/>
<rect x="203.19" y="97.93" width="7.41" height="5.33" fill="#edbd32"/>
<rect x="210.60" y="97.93" width="7.41" height="5.33" fill="#edbd32"/>
<rect x="218.02" y="97.93" width="7.41" height="5.33" fill="#5ab354"/>
<rect x="225.43" y="97.93" width="7.41" height="5.33" fill="#5ab354"/>
<rect x="232.84" y="97.93" width="7.41" height="5.33" fill="#edbd32"/>
<rect x="240.26" y="97.93" width="7.41" height="5.33" fill="#6a2fb8"/>
<rect x="247.67" y="97.93" width="7.41" height="5.33" fill="#6a2fb8"/>
<rect x="255.08" y="97.93" width="7.41" height="5.33" fill="#f8f240"/>
<rect x="151.30" y="103.27" width="7.41" height="5.34" fill="#edbd32"/>
<rect x="158.71" y="103.27" width="7.41" height="5.34" fill="#edbd32"/>
<rect x="166.13" y="103.27" width="7.41" height="5.34" fill="#edbd32"/>
<rect x="173.54" y="103.27" width="7.41" height="5.34" fill="#edbd32"/>
<rect x="180.95" y="103.27" width="7.41" height="5.34" fill="#edbd32"/>
<rect x="188.37" y="103.27" width="7.41" height="5.34" fill="#f8f240"/>
<rect x="195.78" y="103.27" width="7.41" height="5.34" fill="#f8f240"/>
<rect x="203.19" y="103.27" width="7.41" height="5.34" fill="#f8f240"/>
<rect x="210.60" y="103.27" width="7.41" height="5.34" fill="#edbd32"/>
<rect x="218.02" y="103.27" width="7.41" height="5.34" fill="#5ab354"/>
<rect x="225.43" y="103.27" width="7.41" height="5.34" fill="#edbd32"/>
<rect x="232.84" y="103.27" width="7.41" height="5.34" fill="#edbd32"/>
<rect x="255.08" y="103.27" width="7.41" height="5.34" fill="#f8f240"/>
<rect x="151.30" y="108.61" width="7.41" height="5.36" fill="#4470c8"/>
<rect x="158.71" y="108.61" width="7.41" height="5.36" fill="#4470c8"/>
<rect x="166.13" y="108.61" width="7.41" height="5.36" fill="#4470c8"/>
<rect x="173.54" y="108.61" width="7.41" height="5.36" fill="#edbd32"/>
<rect x="180.95" y="108.61" width="7.41" height="5.36" fill="#edbd32"/>
<rect x="188.37" y="108.61" width="7.41" height="5.36" fill="#f8f240"/>
<rect x="195.78" y="108.61" width="7.41" height="5.36" fill="#f8f240"/>
<rect x="203.19" y="108.61" width="7.41" height="5.36" fill="#f8f240"/>
<rect x="210.60" y="108.61" width="7.41" height="5.36" fill="#f8f240"/>
<rect x="218.02" y="108.61" width="7.41" height="5.36" fill="#edbd32"/>
<rect x="225.43" y="108.61" width="7.41" height="5.36" fill="#edbd32"/>
<rect x="240.26" y="108.61" width="7.41" height="5.36" fill="#edbd32"/>
<rect x="247.67" y="108.61" width="7.41" height="5.36" fill="#edbd32"/>
<rect x="151.30" y="113.97" width="7.41" height="5.36" fill="#6a2fb8"/>
<rect x="158.71" y="113.97" width="7.41" height="5.36" fill="#6a2fb8"/>
<rect x="166.13" y="113.97" width="7.41" height="5.36" fill="#6a2fb8"/>
<rect x="173.54" y="113.97" width="7.41" height="5.36" fill="#5ab354"/>
<rect x="180.95" y="113.97" width="7.41" height="5.36" fill="#edbd32"/>
<rect x="188.37" y="113.97" width="7.41" height="5.36" fill="#4470c8"/>
<rect x="195.78" y="113.97" width="7.41" height="5.36" fill="#4470c8"/>
<rect x="203.19" y="113.97" width="7.41" height="5.36" fill="#4470c8"/>
<rect x="210.60" y="113.97" width="7.41" height="5.36" fill="#4470c8"/>
<rect x="218.02" y="113.97" width="7.41" height="5.36" fill="#4470c8"/>
<rect x="225.43" y="113.97" width="7.41" height="5.36" fill="#5ab354"/>
<rect x="232.84" y="113.97" width="7.41" height="5.36" fill="#6a2fb8"/>
<rect x="240.26" y="113.97" width="7.41" height="5.36" fill="#6a2fb8"/>
<rect x="247.67" y="113.97" width="7.41" height="5.36" fill="#6a2fb8"/>
<rect x="255.08" y="113.97" width="7.41" height="5.36" fill="#4470c8"/>
<rect x="151.30" y="119.32" width="7.41" height="5.31" fill="#6a2fb8"/>
<rect x="158.71" y="119.32" width="7.41" height="5.31" fill="#6a2fb8"/>
<rect x="166.13" y="119.32" width="7.41" height="5.31" fill="#6a2fb8"/>
<rect x="173.54" y="119.32" width="7.41" height="5.31" fill="#edbd32"/>
<rect x="180.95" y="119.32" width="7.41" height="5.31" fill="#edbd32"/>
<rect x="188.37" y="119.32" width="7.41" height="5.31" fill="#5ab354"/>
<rect x="195.78" y="119.32" width="7.41" height="5.31" fill="#5ab354"/>
<rect x="203.19" y="119.32" width="7.41" height="5.31" fill="#5ab354"/>
<rect x="210.60" y="119.32" width="7.41" height="5.31" fill="#5ab354"/>
<rect x="218.02" y="119.32" width="7.41" height="5.31" fill="#edbd32"/>
<rect x="225.43" y="119.32" width="7.41" height="5.31" fill="#edbd32"/>
<rect x="232.84" y="119.32" width="7.41" height="5.31" fill="#5ab354"/>
<rect x="240.26" y="119.32" width="7.41" height="5.31" fill="#edbd32"/>
<rect x="247.67" y="119.32" width="7.41" height="5.31" fill="#edbd32"/>
<rect x="255.08" y="119.32" width="7.41" height="5.31" fill="#5ab354"/>
<rect x="151.30" y="124.64" width="7.41" height="5.25" fill="#6a2fb8"/>
<rect x="158.71" y="124.64" width="7.41" height="5.25" fill="#6a2fb8"/>
<rect x="166.13" y="124.64" width="7.41" height="5.25" fill="#6a2fb8"/>
<rect x="173.54" y="124.64" width="7.41" height="5.25" fill="#5ab354"/>
<rect x="180.95" y="124.64" width="7.41" height="5.25" fill="#5ab354"/>
<rect x="188.37" y="124.64" width="7.41" height="5.25" fill="#edbd32"/>
<rect x="195.78" y="124.64" width="7.41" height="5.25" fill="#edbd32"/>
<rect x="203.19" y="124.64" width="7.41" height="5.25" fill="#edbd32"/>
<rect x="210.60" y="124.64" width="7.41" height="5.25" fill="#edbd32"/>
<rect x="218.02" y="124.64" width="7.41" height="5.25" fill="#5ab354"/>
<rect x="225.43" y="124.64" width="7.41" height="5.25" fill="#5ab354"/>
<rect x="232.84" y="124.64" width="7.41" height="5.25" fill="#edbd32"/>
<rect x="240.26" y="124.64" width="7.41" height="5.25" fill="#6a2fb8"/>
<rect x="247.67" y="124.64" width="7.41" height="5.25" fill="#6a2fb8"/>
<rect x="255.08" y="124.64" width="7.41" height="5.25" fill="#edbd32"/>
<rect x="151.30" y="129.88" width="7.41" height="5.20" fill="#5ab354"/>
<rect x="158.71" y="129.88" width="7.41" height="5.20" fill="#5ab354"/>
<rect x="166.13" y="129.88" width="7.41" height="5.20" fill="#5ab354"/>
<rect x="173.54" y="129.88" width="7.41" height="5.20" fill="#5ab354"/>
<rect x="180.95" y="129.88" width="7.41" height="5.20" fill="#5ab354"/>
<rect x="188.37" y="129.88" width="7.41" height="5.20" fill="#5ab354"/>
<rect x="195.78" y="129.88" width="7.41" height="5.20" fill="#5ab354"/>
<rect x="203.19" y="129.88" width="7.41" height="5.20" fill="#5ab354"/>
<rect x="210.60" y="129.88" width="7.41" height="5.20" fill="#5ab354"/>
<rect x="218.02" y="129.88" width="7.41" height="5.20" fill="#5ab354"/>
<rect x="225.43" y="129.88" width="7.41" height="5.20" fill="#5ab354"/>
<rect x="232.84" y="129.88" width="7.41" height="5.20" fill="#5ab354"/>
<rect x="240.26" y="129.88" width="7.41" height="5.20" fill="#edbd32"/>
<rect x="247.67" y="129.88" width="7.41" height="5.20" fill="#edbd32"/>
<rect x="255.08" y="129.88" width="7.41" height="5.20" fill="#5ab354"/>
<rect x="151.30" y="135.08" width="7.41" height="5.17" fill="#f8f240"/>
<rect x="158.71" y="135.08" width="7.41" height="5.17" fill="#f8f240"/>
<rect x="166.13" y="135.08" width="7.41" height="5.17" fill="#f8f240"/>
<rect x="173.54" y="135.08" width="7.41" height="5.17" fill="#5ab354"/>
<rect x="180.95" y="135.08" width="7.41" height="5.17" fill="#5ab354"/>
<rect x="188.37" y="135.08" width="7.41" height="5.17" fill="#f8f240"/>
<rect x="195.78" y="135.08" width="7.41" height="5.17" fill="#f8f240"/>
<rect x="203.19" y="135.08" width="7.41" height="5.17" fill="#f8f240"/>
<rect x="210.60" y="135.08" width="7.41" height="5.17" fill="#f8f240"/>
<rect x="218.02" y="135.08" width="7.41" height="5.17" fill="#4470c8"/>
<rect x="225.43" y="135.08" width="7.41" height="5.17" fill="#5ab354"/>
<rect x="232.84" y="135.08" width="7.41" height="5.17" fill="#f8f240"/>
<rect x="240.26" y="135.08" width="7.41" height="5.17" fill="#edbd32"/>
<rect x="247.67" y="135.08" width="7.41" height="5.17" fill="#edbd32"/>
<rect x="255.08" y="135.08" width="7.41" height="5.17" fill="#f8f240"/>
<rect x="151.30" y="140.25" width="7.41" height="5.16" fill="#edbd32"/>
<rect x="158.71" y="140.25" width="7.41" height="5.16" fill="#edbd32"/>
<rect x="166.13" y="140.25" width="7.41" height="5.16" fill="#edbd32"/>
<rect x="173.54" y="140.25" width="7.41" height="5.16" fill="#edbd32"/>
<rect x="180.95" y="140.25" width="7.41" height="5.16" fill="#edbd32"/>
<rect x="188.37" y="140.25" width="7.41" height="5.16" fill="#edbd32"/>
<rect x="195.78" y="140.25" width="7.41" height="5.16" fill="#f8f240"/>
<rect x="203.19" y="140.25" width="7.41" height="5.16" fill="#f8f240"/>
<rect x="210.60" y="140.25" width="7.41" height="5.16" fill="#f8f240"/>
<rect x="218.02" y="140.25" width="7.41" height="5.16" fill="#edbd32"/>
<rect x="225.43" y="140.25" width="7.41" height="5.16" fill="#edbd32"/>
<rect x="232.84" y="140.25" width="7.41" height="5.16" fill="#edbd32"/>
<rect x="240.26" y="140.25" width="7.41" height="5.16" fill="#f8f240"/>
<rect x="247.67" y="140.25" width="7.41" height="5.16" fill="#f8f240"/>
<rect x="255.08" y="140.25" width="7.41" height="5.16" fill="#f8f240"/>
<rect x="151.30" y="145.40" width="7.41" height="5.15" fill="#5ab354"/>
<rect x="158.71" y="145.40" width="7.41" height="5.15" fill="#5ab354"/>
<rect x="166.13" y="145.40" width="7.41" height="5.15" fill="#5ab354"/>
<rect x="173.54" y="145.40" width="7.41" height="5.15" fill="#5ab354"/>
<rect x="180.95" y="145.40" width="7.41" height="5.15" fill="#5ab354"/>
<rect x="188.37" y="145.40" width="7.41" height="5.15" fill="#5ab354"/>
<rect x="195.78" y="145.40" width="7.41" height="5.15" fill="#5ab354"/>
<rect x="203.19" y="145.40" width="7.41" height="5.15" fill="#5ab354"/>
<rect x="210.60" y="145.40" width="7.41" height="5.15" fill="#5ab354"/>
<rect x="218.02" y="145.40" width="7.41" height="5.15" fill="#5ab354"/>
<rect x="225.43" y="145.40" width="7.41" height="5.15" fill="#5ab354"/>
<rect x="232.84" y="145.40" width="7.41" height="5.15" fill="#5ab354"/>
<rect x="240.26" y="145.40" width="7.41" height="5.15" fill="#f8f240"/>
<rect x="247.67" y="145.40" width="7.41" height="5.15" fill="#f8f240"/>
<rect x="255.08" y="145.40" width="7.41" height="5.15" fill="#edbd32"/>
<rect x="151.30" y="150.56" width="7.41" height="5.15" fill="#5ab354"/>
<rect x="158.71" y="150.56" width="7.41" height="5.15" fill="#5ab354"/>
<rect x="166.13" y="150.56" width="7.41" height="5.15" fill="#5ab354"/>
<rect x="173.54" y="150.56" width="7.41" height="5.15" fill="#4470c8"/>
<rect x="180.95" y="150.56" width="7.41" height="5.15" fill="#4470c8"/>
<rect x="188.37" y="150.56" width="7.41" height="5.15" fill="#5ab354"/>
<rect x="195.78" y="150.56" width="7.41" height="5.15" fill="#5ab354"/>
<rect x="203.19" y="150.56" width="7.41" height="5.15" fill="#5ab354"/>
<rect x="210.60" y="150.56" width="7.41" height="5.15" fill="#5ab354"/>
<rect x="218.02" y="150.56" width="7.41" height="5.15" fill="#4470c8"/>
<rect x="225.43" y="150.56" width="7.41" height="5.15" fill="#4470c8"/>
<rect x="232.84" y="150.56" width="7.41" height="5.15" fill="#5ab354"/>
<rect x="240.26" y="150.56" width="7.41" height="5.15" fill="#6a2fb8"/>
<rect x="247.67" y="150.56" width="7.41" height="5.15" fill="#6a2fb8"/>
<rect x="255.08" y="150.56" width="7.41" height="5.15" fill="#edbd32"/>
<rect x="151.30" y="155.71" width="7.41" height="5.14" fill="#edbd32"/>
<rect x="158.71" y="155.71" width="7.41" height="5.14" fill="#edbd32"/>
<rect x="166.13" y="155.71" width="7.41" height="5.14" fill="#edbd32"/>
<rect x="173.54" y="155.71" width="7.41" height="5.14" fill="#5ab354"/>
<rect x="180.95" y="155.71" width="7.41" height="5.14" fill="#5ab354"/>
<rect x="188.37" y="155.71" width="7.41" height="5.14" fill="#f8f240"/>
<rect x="195.78" y="155.71" width="7.41" height="5.14" fill="#f8f240"/>
<rect x="203.19" y="155.71" width="7.41" height="5.14" fill="#f8f240"/>
<rect x="210.60" y="155.71" width="7.41" height="5.14" fill="#f8f240"/>
<rect x="218.02" y="155.71" width="7.41" height="5.14" fill="#5ab354"/>
<rect x="225.43" y="155.71" width="7.41" height="5.14" fill="#5ab354"/>
<rect x="232.84" y="155.71" width="7.41" height="5.14" fill="#f8f240"/>
<rect x="255.08" y="155.71" width="7.41" height="5.14" fill="#f8f240"/>
<rect x="173.54" y="160.84" width="7.41" height="5.12" fill="#edbd32"/>
<rect x="180.95" y="160.84" width="7.41" height="5.12" fill="#edbd32"/>
<rect x="218.02" y="160.84" width="7.41" height="5.12" fill="#f8f240"/>
<rect x="225.43" y="160.84" width="7.41" height="5.12" fill="#edbd32"/>
<rect x="151.30" y="165.96" width="7.41" height="5.11" fill="#4470c8"/>
<rect x="158.71" y="165.96" width="7.41" height="5.11" fill="#4470c8"/>
<rect x="166.13" y="165.96" width="7.41" height="5.11" fill="#4470c8"/>
<rect x="173.54" y="165.96" width="7.41" height="5.11" fill="#5ab354"/>
<rect x="180.95" y="165.96" width="7.41" height="5.11" fill="#5ab354"/>
<rect x="188.37" y="165.96" width="7.41" height="5.11" fill="#5ab354"/>
<rect x="195.78" y="165.96" width="7.41" height="5.11" fill="#5ab354"/>
<rect x="203.19" y="165.96" width="7.41" height="5.11" fill="#5ab354"/>
<rect x="210.60" y="165.96" width="7.41" height="5.11" fill="#5ab354"/>
<rect x="218.02" y="165.96" width="7.41" height="5.11" fill="#4470c8"/>
<rect x="225.43" y="165.96" width="7.41" height="5.11" fill="#5ab354"/>
<rect x="232.84" y="165.96" width="7.41" height="5.11" fill="#4470c8"/>
<rect x="240.26" y="165.96" width="7.41" height="5.11" fill="#6a2fb8"/>
<rect x="247.67" y="165.96" width="7.41" height="5.11" fill="#6a2fb8"/>
<rect x="255.08" y="165.96" width="7.41" height="5.11" fill="#5ab354"/>
<rect x="151.30" y="171.07" width="7.41" height="5.12" fill="#5ab354"/>
<rect x="158.71" y="171.07" width="7.41" height="5.12" fill="#5ab354"/>
<rect x="166.13" y="171.07" width="7.41" height="5.12" fill="#5ab354"/>
<rect x="173.54" y="171.07" width="7.41" height="5.12" fill="#5ab354"/>
<rect x="180.95" y="171.07" width="7.41" height="5.12" fill="#5ab354"/>
<rect x="188.37" y="171.07" width="7.41" height="5.12" fill="#5ab354"/>
<rect x="195.78" y="171.07" width="7.41" height="5.12" fill="#5ab354"/>
<rect x="203.19" y="171.07" width="7.41" height="5.12" fill="#5ab354"/>
<rect x="210.60" y="171.07" width="7.41" height="5.12" fill="#5ab354"/>
<rect x="218.02" y="171.07" width="7.41" height="5.12" fill="#5ab354"/>
<rect x="225.43" y="171.07" width="7.41" height="5.12" fill="#5ab354"/>
<rect x="232.84" y="171.07" width="7.41" height="5.12" fill="#5ab354"/>
<rect x="240.26" y="171.07" width="7.41" height="5.12" fill="#4470c8"/>
<rect x="247.67" y="171.07" width="7.41" height="5.12" fill="#4470c8"/>
<rect x="255.08" y="171.07" width="7.41" height="5.12" fill="#edbd32"/>
<rect x="151.30" y="176.19" width="7.41" height="5.14" fill="#5ab354"/>
<rect x="158.71" y="176.19" width="7.41" height="5.14" fill="#5ab354"/>
<rect x="166.13" y="176.19" width="7.41" height="5.14" fill="#5ab354"/>
<rect x="173.54" y="176.19" width="7.41" height="5.14" fill="#5ab354"/>
<rect x="180.95" y="176.19" width="7.41" height="5.14" fill="#5ab354"/>
<rect x="188.37" y="176.19" width="7.41" height="5.14" fill="#5ab354"/>
<rect x="195.78" y="176.19" width="7.41" height="5.14" fill="#5ab354"/>
<rect x="203.19" y="176.19" width="7.41" height="5.14" fill="#5ab354"/>
<rect x="210.60" y="176.19" width="7.41" height="5.14" fill="#5ab354"/>
<rect x="218.02" y="176.19" width="7.41" height="5.14" fill="#4470c8"/>
<rect x="225.43" y="176.19" width="7.41" height="5.14" fill="#5ab354"/>
<rect x="232.84" y="176.19" width="7.41" height="5.14" fill="#4470c8"/>
<rect x="240.26" y="176.19" width="7.41" height="5.14" fill="#4470c8"/>
<rect x="247.67" y="176.19" width="7.41" height="5.14" fill="#4470c8"/>
<rect x="255.08" y="176.19" width="7.41" height="5.14" fill="#5ab354"/>
<rect x="151.30" y="181.33" width="7.41" height="5.15" fill="#5ab354"/>
<rect x="158.71" y="181.33" width="7.41" height="5.15" fill="#5ab354"/>
<rect x="166.13" y="181.33" width="7.41" height="5.15" fill="#5ab354"/>
<rect x="173.54" y="181.33" width="7.41" height="5.15" fill="#5ab354"/>
<rect x="180.95" y="181.33" width="7.41" height="5.15" fill="#5ab354"/>
<rect x="188.37" y="181.33" width="7.41" height="5.15" fill="#edbd32"/>
<rect x="195.78" y="181.33" width="7.41" height="5.15" fill="#edbd32"/>
<rect x="203.19" y="181.33" width="7.41" height="5.15" fill="#edbd32"/>
<rect x="210.60" y="181.33" width="7.41" height="5.15" fill="#edbd32"/>
<rect x="218.02" y="181.33" width="7.41" height="5.15" fill="#6a2fb8"/>
<rect x="225.43" y="181.33" width="7.41" height="5.15" fill="#6a2fb8"/>
<rect x="232.84" y="181.33" width="7.41" height="5.15" fill="#edbd32"/>
<rect x="240.26" y="181.33" width="7.41" height="5.15" fill="#f8f240"/>
<rect x="255.08" y="181.33" width="7.41" height="5.15" fill="#edbd32"/>
<rect x="173.54" y="186.47" width="7.41" height="5.12" fill="#5ab354"/>
<rect x="180.95" y="186.47" width="7.41" height="5.12" fill="#5ab354"/>
<rect x="218.02" y="186.47" width="7.41" height="5.12" fill="#4470c8"/>
<rect x="225.43" y="186.47" width="7.41" height="5.12" fill="#5ab354"/>
<rect x="151.30" y="191.60" width="7.41" height="5.07" fill="#5ab354"/>
<rect x="158.71" y="191.60" width="7.41" height="5.07" fill="#5ab354"/>
<rect x="166.13" y="191.60" width="7.41" height="5.07" fill="#5ab354"/>
<rect x="188.37" y="191.60" width="7.41" height="5.07" fill="#5ab354"/>
<rect x="195.78" y="191.60" width="7.41" height="5.07" fill="#5ab354"/>
<rect x="203.19" y="191.60" width="7.41" height="5.07" fill="#5ab354"/>
<rect x="210.60" y="191.60" width="7.41" height="5.07" fill="#5ab354"/>
<rect x="232.84" y="191.60" width="7.41" height="5.07" fill="#5ab354"/>
<rect x="240.26" y="191.60" width="7.41" height="5.07" fill="#6a2fb8"/>
<rect x="247.67" y="191.60" width="7.41" height="5.07" fill="#6a2fb8"/>
<rect x="255.08" y="191.60" width="7.41" height="5.07" fill="#5ab354"/>
<rect x="151.30" y="196.66" width="7.41" height="5.03" fill="#5ab354"/>
<rect x="158.71" y="196.66" width="7.41" height="5.03" fill="#4470c8"/>
<rect x="166.13" y="196.66" width="7.41" height="5.03" fill="#4470c8"/>
<rect x="173.54" y="196.66" width="7.41" height="5.03" fill="#5ab354"/>
<rect x="180.95" y="196.66" width="7.41" height="5.03" fill="#5ab354"/>
<rect x="188.37" y="196.66" width="7.41" height="5.03" fill="#5ab354"/>
<rect x="195.78" y="196.66" width="7.41" height="5.03" fill="#5ab354"/>
<rect x="203.19" y="196.66" width="7.41" height="5.03" fill="#5ab354"/>
<rect x="210.60" y="196.66" width="7.41" height="5.03" fill="#5ab354"/>
<rect x="218.02" y="196.66" width="7.41" height="5.03" fill="#5ab354"/>
<rect x="225.43" y="196.66" width="7.41" height="5.03" fill="#5ab354"/>
<rect x="232.84" y="196.66" width="7.41" height="5.03" fill="#4470c8"/>
<rect x="240.26" y="196.66" width="7.41" height="5.03" fill="#4470c8"/>
<rect x="247.67" y="196.66" width="7.41" height="5.03" fill="#4470c8"/>
<rect x="255.08" y="196.66" width="7.41" height="5.03" fill="#5ab354"/>
<rect x="151.30" y="201.70" width="7.41" height="5.08" fill="#edbd32"/>
<rect x="158.71" y="201.70" width="7.41" height="5.08" fill="#edbd32"/>
<rect x="166.13" y="201.70" width="7.41" height="5.08" fill="#edbd32"/>
<rect x="173.54" y="201.70" width="7.41" height="5.08" fill="#5ab354"/>
<rect x="180.95" y="201.70" width="7.41" height="5.08" fill="#5ab354"/>
<rect x="188.37" y="201.70" width="7.41" height="5.08" fill="#edbd32"/>
<rect x="195.78" y="201.70" width="7.41" height="5.08" fill="#edbd32"/>
<rect x="203.19" y="201.70" width="7.41" height="5.08" fill="#edbd32"/>
<rect x="210.60" y="201.70" width="7.41" height="5.08" fill="#edbd32"/>
<rect x="218.02" y="201.70" width="7.41" height="5.08" fill="#4470c8"/>
<rect x="225.43" y="201.70" width="7.41" height="5.08" fill="#5ab354"/>
<rect x="232.84" y="201.70" width="7.41" height="5.08" fill="#edbd32"/>
<rect x="240.26" y="201.70" width="7.41" height="5.08" fill="#4470c8"/>
<rect x="247.67" y="201.70" width="7.41" height="5.08" fill="#4470c8"/>
<rect x="255.08" y="201.70" width="7.41" height="5.08" fill="#f8f240"/>
<rect x="151.30" y="206.77" width="7.41" height="5.13" fill="#6a2fb8"/>
<rect x="158.71" y="206.77" width="7.41" height="5.13" fill="#6a2fb8"/>
<rect x="166.13" y="206.77" width="7.41" height="5.13" fill="#6a2fb8"/>
<rect x="173.54" y="206.77" width="7.41" height="5.13" fill="#4470c8"/>
<rect x="180.95" y="206.77" width="7.41" height="5.13" fill="#4470c8"/>
<rect x="188.37" y="206.77" width="7.41" height="5.13" fill="#5ab354"/>
<rect x="195.78" y="206.77" width="7.41" height="5.13" fill="#5ab354"/>
<rect x="203.19" y="206.77" width="7.41" height="5.13" fill="#edbd32"/>
<rect x="210.60" y="206.77" width="7.41" height="5.13" fill="#5ab354"/>
<rect x="218.02" y="206.77" width="7.41" height="5.13" fill="#4470c8"/>
<rect x="225.43" y="206.77" width="7.41" height="5.13" fill="#4470c8"/>
<rect x="232.84" y="206.77" width="7.41" height="5.13" fill="#5ab354"/>
<rect x="240.26" y="206.77" width="7.41" height="5.13" fill="#6a2fb8"/>
<rect x="247.67" y="206.77" width="7.41" height="5.13" fill="#6a2fb8"/>
<rect x="255.08" y="206.77" width="7.41" height="5.13" fill="#edbd32"/>
<rect x="151.30" y="211.91" width="7.41" height="5.12" fill="#5ab354"/>
<rect x="158.71" y="211.91" width="7.41" height="5.12" fill="#5ab354"/>
<rect x="166.13" y="211.91" width="7.41" height="5.12" fill="#5ab354"/>
<rect x="173.54" y="211.91" width="7.41" height="5.12" fill="#5ab354"/>
<rect x="180.95" y="211.91" width="7.41" height="5.12" fill="#5ab354"/>
<rect x="188.37" y="211.91" width="7.41" height="5.12" fill="#edbd32"/>
<rect x="195.78" y="211.91" width="7.41" height="5.12" fill="#edbd32"/>
<rect x="203.19" y="211.91" width="7.41" height="5.12" fill="#edbd32"/>
<rect x="210.60" y="211.91" width="7.41" height="5.12" fill="#edbd32"/>
<rect x="218.02" y="211.91" width="7.41" height="5.12" fill="#5ab354"/>
<rect x="225.43" y="211.91" width="7.41" height="5.12" fill="#5ab354"/>
<rect x="232.84" y="211.91" width="7.41" height="5.12" fill="#edbd32"/>
<rect x="240.26" y="211.91" width="7.41" height="5.12" fill="#6a2fb8"/>
<rect x="247.67" y="211.91" width="7.41" height="5.12" fill="#6a2fb8"/>
<rect x="255.08" y="211.91" width="7.41" height="5.12" fill="#edbd32"/>
<rect x="151.30" y="217.03" width="7.41" height="5.10" fill="#edbd32"/>
<rect x="158.71" y="217.03" width="7.41" height="5.10" fill="#edbd32"/>
<rect x="166.13" y="217.03" width="7.41" height="5.10" fill="#edbd32"/>
<rect x="173.54" y="217.03" width="7.41" height="5.10" fill="#5ab354"/>
<rect x="180.95" y="217.03" width="7.41" height="5.10" fill="#5ab354"/>
<rect x="188.37" y="217.03" width="7.41" height="5.10" fill="#edbd32"/>
<rect x="195.78" y="217.03" width="7.41" height="5.10" fill="#edbd32"/>
<rect x="203.19" y="217.03" width="7.41" height="5.10" fill="#edbd32"/>
<rect x="210.60" y="217.03" width="7.41" height="5.10" fill="#edbd32"/>
<rect x="218.02" y="217.03" width="7.41" height="5.10" fill="#5ab354"/>
<rect x="225.43" y="217.03" width="7.41" height="5.10" fill="#5ab354"/>
<rect x="232.84" y="217.03" width="7.41" height="5.10" fill="#edbd32"/>
<rect x="240.26" y="217.03" width="7.41" height="5.10" fill="#6a2fb8"/>
<rect x="247.67" y="217.03" width="7.41" height="5.10" fill="#6a2fb8"/>
<rect x="255.08" y="217.03" width="7.41" height="5.10" fill="#f8f240"/>
<rect x="173.54" y="222.13" width="7.41" height="5.08" fill="#5ab354"/>
<rect x="180.95" y="222.13" width="7.41" height="5.08" fill="#edbd32"/>
<rect x="188.37" y="222.13" width="7.41" height="5.08" fill="#f8f240"/>
<rect x="195.78" y="222.13" width="7.41" height="5.08" fill="#f8f240"/>
<rect x="203.19" y="222.13" width="7.41" height="5.08" fill="#f8f240"/>
<rect x="210.60" y="222.13" width="7.41" height="5.08" fill="#f8f240"/>
<rect x="218.02" y="222.13" width="7.41" height="5.08" fill="#5ab354"/>
<rect x="225.43" y="222.13" width="7.41" height="5.08" fill="#5ab354"/>
<rect x="240.26" y="222.13" width="7.41" height="5.08" fill="#4470c8"/>
<rect x="247.67" y="222.13" width="7.41" height="5.08" fill="#4470c8"/>
<rect x="240.26" y="227.20" width="7.41" height="5.00" fill="#4470c8"/>
<rect x="247.67" y="227.20" width="7.41" height="5.00" fill="#4470c8"/>
<rect x="151.30" y="232.20" width="7.41" height="4.94" fill="#5ab354"/>
<rect x="158.71" y="232.20" width="7.41" height="4.94" fill="#5ab354"/>
<rect x="166.13" y="232.20" width="7.41" height="4.94" fill="#5ab354"/>
<rect x="188.37" y="232.20" width="7.41" height="4.94" fill="#5ab354"/>
<rect x="195.78" y="232.20" width="7.41" height="4.94" fill="#5ab354"/>
<rect x="203.19" y="232.20" width="7.41" height="4.94" fill="#5ab354"/>
<rect x="210.60" y="232.20" width="7.41" height="4.94" fill="#5ab354"/>
<rect x="232.84" y="232.20" width="7.41" height="4.94" fill="#5ab354"/>
<rect x="240.26" y="232.20" width="7.41" height="4.94" fill="#edbd32"/>
<rect x="247.67" y="232.20" width="7.41" height="4.94" fill="#edbd32"/>
<rect x="255.08" y="232.20" width="7.41" height="4.94" fill="#edbd32"/>
<rect x="151.30" y="237.13" width="7.41" height="4.96" fill="#5ab354"/>
<rect x="158.71" y="237.13" width="7.41" height="4.96" fill="#5ab354"/>
<rect x="166.13" y="237.13" width="7.41" height="4.96" fill="#5ab354"/>
<rect x="173.54" y="237.13" width="7.41" height="4.96" fill="#5ab354"/>
<rect x="180.95" y="237.13" width="7.41" height="4.96" fill="#5ab354"/>
<rect x="188.37" y="237.13" width="7.41" height="4.96" fill="#edbd32"/>
<rect x="195.78" y="237.13" width="7.41" height="4.96" fill="#edbd32"/>
<rect x="203.19" y="237.13" width="7.41" height="4.96" fill="#edbd32"/>
<rect x="210.60" y="237.13" width="7.41" height="4.96" fill="#edbd32"/>
<rect x="218.02" y="237.13" width="7.41" height="4.96" fill="#5ab354"/>
<rect x="225.43" y="237.13" width="7.41" height="4.96" fill="#5ab354"/>
<rect x="232.84" y="237.13" width="7.41" height="4.96" fill="#edbd32"/>
<rect x="255.08" y="237.13" width="7.41" height="4.96" fill="#edbd32"/>
<rect x="151.30" y="242.09" width="7.41" height="5.01" fill="#5ab354"/>
<rect x="158.71" y="242.09" width="7.41" height="5.01" fill="#edbd32"/>
<rect x="166.13" y="242.09" width="7.41" height="5.01" fill="#edbd32"/>
<rect x="173.54" y="242.09" width="7.41" height="5.01" fill="#5ab354"/>
<rect x="180.95" y="242.09" width="7.41" height="5.01" fill="#5ab354"/>
<rect x="188.37" y="242.09" width="7.41" height="5.01" fill="#edbd32"/>
<rect x="195.78" y="242.09" width="7.41" height="5.01" fill="#edbd32"/>
<rect x="203.19" y="242.09" width="7.41" height="5.01" fill="#edbd32"/>
<rect x="210.60" y="242.09" width="7.41" height="5.01" fill="#edbd32"/>
<rect x="218.02" y="242.09" width="7.41" height="5.01" fill="#5ab354"/>
<rect x="225.43" y="242.09" width="7.41" height="5.01" fill="#5ab354"/>
<rect x="232.84" y="242.09" width="7.41" height="5.01" fill="#edbd32"/>
<rect x="240.26" y="242.09" width="7.41" height="5.01" fill="#6a2fb8"/>
<rect x="247.67" y="242.09" width="7.41" height="5.01" fill="#6a2fb8"/>
<rect x="255.08" y="242.09" width="7.41" height="5.01" fill="#f8f240"/>
<rect x="151.30" y="247.10" width="7.41" height="5.04" fill="#4470c8"/>
<rect x="158.71" y="247.10" width="7.41" height="5.04" fill="#4470c8"/>
<rect x="166.13" y="247.10" width="7.41" height="5.04" fill="#4470c8"/>
<rect x="173.54" y="247.10" width="7.41" height="5.04" fill="#5ab354"/>
<rect x="180.95" y="247.10" width="7.41" height="5.04" fill="#5ab354"/>
<rect x="188.37" y="247.10" width="7.41" height="5.04" fill="#4470c8"/>
<rect x="195.78" y="247.10" width="7.41" height="5.04" fill="#4470c8"/>
<rect x="203.19" y="247.10" width="7.41" height="5.04" fill="#4470c8"/>
<rect x="210.60" y="247.10" width="7.41" height="5.04" fill="#4470c8"/>
<rect x="218.02" y="247.10" width="7.41" height="5.04" fill="#5ab354"/>
<rect x="225.43" y="247.10" width="7.41" height="5.04" fill="#5ab354"/>
<rect x="232.84" y="247.10" width="7.41" height="5.04" fill="#6a2fb8"/>
<rect x="240.26" y="247.10" width="7.41" height="5.04" fill="#4470c8"/>
<rect x="247.67" y="247.10" width="7.41" height="5.04" fill="#5ab354"/>
<rect x="255.08" y="247.10" width="7.41" height="5.04" fill="#4470c8"/>
<rect x="151.30" y="252.15" width="7.41" height="5.07" fill="#5ab354"/>
<rect x="158.71" y="252.15" width="7.41" height="5.07" fill="#5ab354"/>
<rect x="166.13" y="252.15" width="7.41" height="5.07" fill="#5ab354"/>
<rect x="173.54" y="252.15" width="7.41" height="5.07" fill="#4470c8"/>
<rect x="180.95" y="252.15" width="7.41" height="5.07" fill="#5ab354"/>
<rect x="188.37" y="252.15" width="7.41" height="5.07" fill="#5ab354"/>
<rect x="195.78" y="252.15" width="7.41" height="5.07" fill="#5ab354"/>
<rect x="203.19" y="252.15" width="7.41" height="5.07" fill="#5ab354"/>
<rect x="210.60" y="252.15" width="7.41" height="5.07" fill="#5ab354"/>
<rect x="218.02" y="252.15" width="7.41" height="5.07" fill="#4470c8"/>
<rect x="225.43" y="252.15" width="7.41" height="5.07" fill="#5ab354"/>
<rect x="232.84" y="252.15" width="7.41" height="5.07" fill="#5ab354"/>
<rect x="240.26" y="252.15" width="7.41" height="5.07" fill="#edbd32"/>
<rect x="247.67" y="252.15" width="7.41" height="5.07" fill="#edbd32"/>
<rect x="255.08" y="252.15" width="7.41" height="5.07" fill="#5ab354"/>
<rect x="151.30" y="257.21" width="7.41" height="5.10" fill="#5ab354"/>
<rect x="158.71" y="257.21" width="7.41" height="5.10" fill="#5ab354"/>
<rect x="166.13" y="257.21" width="7.41" height="5.10" fill="#5ab354"/>
<rect x="173.54" y="257.21" width="7.41" height="5.10" fill="#5ab354"/>
<rect x="180.95" y="257.21" width="7.41" height="5.10" fill="#5ab354"/>
<rect x="188.37" y="257.21" width="7.41" height="5.10" fill="#5ab354"/>
<rect x="195.78" y="257.21" width="7.41" height="5.10" fill="#5ab354"/>
<rect x="203.19" y="257.21" width="7.41" height="5.10" fill="#5ab354"/>
<rect x="210.60" y="257.21" width="7.41" height="5.10" fill="#5ab354"/>
<rect x="218.02" y="257.21" width="7.41" height="5.10" fill="#5ab354"/>
<rect x="225.43" y="257.21" width="7.41" height="5.10" fill="#5ab354"/>
<rect x="232.84" y="257.21" width="7.41" height="5.10" fill="#5ab354"/>
<rect x="240.26" y="257.21" width="7.41" height="5.10" fill="#edbd32"/>
<rect x="247.67" y="257.21" width="7.41" height="5.10" fill="#edbd32"/>
<rect x="255.08" y="257.21" width="7.41" height="5.10" fill="#edbd32"/>
<rect x="151.30" y="262.31" width="7.41" height="5.14" fill="#edbd32"/>
<rect x="158.71" y="262.31" width="7.41" height="5.14" fill="#edbd32"/>
<rect x="166.13" y="262.31" width="7.41" height="5.14" fill="#edbd32"/>
<rect x="173.54" y="262.31" width="7.41" height="5.14" fill="#5ab354"/>
<rect x="180.95" y="262.31" width="7.41" height="5.14" fill="#edbd32"/>
<rect x="188.37" y="262.31" width="7.41" height="5.14" fill="#edbd32"/>
<rect x="195.78" y="262.31" width="7.41" height="5.14" fill="#edbd32"/>
<rect x="203.19" y="262.31" width="7.41" height="5.14" fill="#edbd32"/>
<rect x="210.60" y="262.31" width="7.41" height="5.14" fill="#edbd32"/>
<rect x="218.02" y="262.31" width="7.41" height="5.14" fill="#5ab354"/>
<rect x="225.43" y="262.31" width="7.41" height="5.14" fill="#edbd32"/>
<rect x="232.84" y="262.31" width="7.41" height="5.14" fill="#edbd32"/>
<rect x="240.26" y="262.31" width="7.41" height="5.14" fill="#f8f240"/>
<rect x="255.08" y="262.31" width="7.41" height="5.14" fill="#edbd32"/>
<rect x="151.30" y="267.45" width="7.41" height="5.16" fill="#6a2fb8"/>
<rect x="158.71" y="267.45" width="7.41" height="5.16" fill="#6a2fb8"/>
<rect x="166.13" y="267.45" width="7.41" height="5.16" fill="#6a2fb8"/>
<rect x="173.54" y="267.45" width="7.41" height="5.16" fill="#f8f240"/>
<rect x="180.95" y="267.45" width="7.41" height="5.16" fill="#f8f240"/>
<rect x="188.37" y="267.45" width="7.41" height="5.16" fill="#5ab354"/>
<rect x="195.78" y="267.45" width="7.41" height="5.16" fill="#5ab354"/>
<rect x="203.19" y="267.45" width="7.41" height="5.16" fill="#5ab354"/>
<rect x="210.60" y="267.45" width="7.41" height="5.16" fill="#5ab354"/>
<rect x="218.02" y="267.45" width="7.41" height="5.16" fill="#f8f240"/>
<rect x="225.43" y="267.45" width="7.41" height="5.16" fill="#f8f240"/>
<rect x="232.84" y="267.45" width="7.41" height="5.16" fill="#5ab354"/>
<rect x="240.26" y="267.45" width="7.41" height="5.16" fill="#5ab354"/>
<rect x="247.67" y="267.45" width="7.41" height="5.16" fill="#5ab354"/>
<rect x="255.08" y="267.45" width="7.41" height="5.16" fill="#edbd32"/>
<rect x="151.30" y="272.61" width="7.41" height="5.16" fill="#6a2fb8"/>
<rect x="158.71" y="272.61" width="7.41" height="5.16" fill="#6a2fb8"/>
<rect x="166.13" y="272.61" width="7.41" height="5.16" fill="#6a2fb8"/>
<rect x="188.37" y="272.61" width="7.41" height="5.16" fill="#5ab354"/>
<rect x="195.78" y="272.61" width="7.41" height="5.16" fill="#5ab354"/>
<rect x="203.19" y="272.61" width="7.41" height="5.16" fill="#5ab354"/>
<rect x="210.60" y="272.61" width="7.41" height="5.16" fill="#5ab354"/>
<rect x="232.84" y="272.61" width="7.41" height="5.16" fill="#5ab354"/>
<rect x="240.26" y="272.61" width="7.41" height="5.16" fill="#4470c8"/>
<rect x="247.67" y="272.61" width="7.41" height="5.16" fill="#5ab354"/>
<rect x="255.08" y="272.61" width="7.41" height="5.16" fill="#5ab354"/>
<rect x="151.30" y="277.77" width="7.41" height="5.13" fill="#4470c8"/>
<rect x="158.71" y="277.77" width="7.41" height="5.13" fill="#4470c8"/>
<rect x="166.13" y="277.77" width="7.41" height="5.13" fill="#4470c8"/>
<rect x="173.54" y="277.77" width="7.41" height="5.13" fill="#f8f240"/>
<rect x="188.37" y="277.77" width="7.41" height="5.13" fill="#4470c8"/>
<rect x="195.78" y="277.77" width="7.41" height="5.13" fill="#4470c8"/>
<rect x="203.19" y="277.77" width="7.41" height="5.13" fill="#4470c8"/>
<rect x="210.60" y="277.77" width="7.41" height="5.13" fill="#4470c8"/>
<rect x="232.84" y="277.77" width="7.41" height="5.13" fill="#6a2fb8"/>
<rect x="240.26" y="277.77" width="7.41" height="5.13" fill="#4470c8"/>
<rect x="247.67" y="277.77" width="7.41" height="5.13" fill="#4470c8"/>
<rect x="255.08" y="277.77" width="7.41" height="5.13" fill="#4470c8"/>
<rect x="151.30" y="282.91" width="7.41" height="5.09" fill="#5ab354"/>
<rect x="158.71" y="282.91" width="7.41" height="5.09" fill="#5ab354"/>
<rect x="166.13" y="282.91" width="7.41" height="5.09" fill="#5ab354"/>
<rect x="173.54" y="282.91" width="7.41" height="5.09" fill="#4470c8"/>
<rect x="180.95" y="282.91" width="7.41" height="5.09" fill="#4470c8"/>
<rect x="188.37" y="282.91" width="7.41" height="5.09" fill="#5ab354"/>
<rect x="195.78" y="282.91" width="7.41" height="5.09" fill="#5ab354"/>
<rect x="203.19" y="282.91" width="7.41" height="5.09" fill="#5ab354"/>
<rect x="210.60" y="282.91" width="7.41" height="5.09" fill="#5ab354"/>
<rect x="218.02" y="282.91" width="7.41" height="5.09" fill="#4470c8"/>
<rect x="225.43" y="282.91" width="7.41" height="5.09" fill="#5ab354"/>
<rect x="232.84" y="282.91" width="7.41" height="5.09" fill="#5ab354"/>
<rect x="240.26" y="282.91" width="7.41" height="5.09" fill="#5ab354"/>
<rect x="247.67" y="282.91" width="7.41" height="5.09" fill="#edbd32"/>
<rect x="255.08" y="282.91" width="7.41" height="5.09" fill="#5ab354"/>
<rect x="151.30" y="287.99" width="7.41" height="5.04" fill="#f8f240"/>
<rect x="173.54" y="287.99" width="7.41" height="5.04" fill="#5ab354"/>
<rect x="180.95" y="287.99" width="7.41" height="5.04" fill="#5ab354"/>
<rect x="218.02" y="287.99" width="7.41" height="5.04" fill="#5ab354"/>
<rect x="225.43" y="287.99" width="7.41" height="5.04" fill="#5ab354"/>
<rect x="151.30" y="293.03" width="7.41" height="4.99" fill="#5ab354"/>
<rect x="158.71" y="293.03" width="7.41" height="4.99" fill="#5ab354"/>
<rect x="166.13" y="293.03" width="7.41" height="4.99" fill="#5ab354"/>
<rect x="188.37" y="293.03" width="7.41" height="4.99" fill="#5ab354"/>
<rect x="195.78" y="293.03" width="7.41" height="4.99" fill="#5ab354"/>
<rect x="203.19" y="293.03" width="7.41" height="4.99" fill="#5ab354"/>
<rect x="210.60" y="293.03" width="7.41" height="4.99" fill="#5ab354"/>
<rect x="232.84" y="293.03" width="7.41" height="4.99" fill="#5ab354"/>
<rect x="240.26" y="293.03" width="7.41" height="4.99" fill="#f8f240"/>
<rect x="247.67" y="293.03" width="7.41" height="4.99" fill="#f8f240"/>
<rect x="255.08" y="293.03" width="7.41" height="4.99" fill="#edbd32"/>
<rect x="151.30" y="298.02" width="7.41" height="4.95" fill="#5ab354"/>
<rect x="158.71" y="298.02" width="7.41" height="4.95" fill="#5ab354"/>
<rect x="166.13" y="298.02" width="7.41" height="4.95" fill="#5ab354"/>
<rect x="173.54" y="298.02" width="7.41" height="4.95" fill="#edbd32"/>
<rect x="180.95" y="298.02" width="7.41" height="4.95" fill="#edbd32"/>
<rect x="188.37" y="298.02" width="7.41" height="4.95" fill="#edbd32"/>
<rect x="195.78" y="298.02" width="7.41" height="4.95" fill="#edbd32"/>
<rect x="203.19" y="298.02" width="7.41" height="4.95" fill="#edbd32"/>
<rect x="210.60" y="298.02" width="7.41" height="4.95" fill="#edbd32"/>
<rect x="218.02" y="298.02" width="7.41" height="4.95" fill="#5ab354"/>
<rect x="225.43" y="298.02" width="7.41" height="4.95" fill="#edbd32"/>
<rect x="232.84" y="298.02" width="7.41" height="4.95" fill="#5ab354"/>
<rect x="240.26" y="298.02" width="7.41" height="4.95" fill="#f8f240"/>
<rect x="247.67" y="298.02" width="7.41" height="4.95" fill="#f8f240"/>
<rect x="255.08" y="298.02" width="7.41" height="4.95" fill="#edbd32"/>
<rect x="151.30" y="302.97" width="7.41" height="4.93" fill="#5ab354"/>
<rect x="158.71" y="302.97" width="7.41" height="4.93" fill="#5ab354"/>
<rect x="166.13" y="302.97" width="7.41" height="4.93" fill="#5ab354"/>
<rect x="173.54" y="302.97" width="7.41" height="4.93" fill="#5ab354"/>
<rect x="180.95" y="302.97" width="7.41" height="4.93" fill="#5ab354"/>
<rect x="188.37" y="302.97" width="7.41" height="4.93" fill="#f8f240"/>
<rect x="195.78" y="302.97" width="7.41" height="4.93" fill="#f8f240"/>
<rect x="203.19" y="302.97" width="7.41" height="4.93" fill="#f8f240"/>
<rect x="210.60" y="302.97" width="7.41" height="4.93" fill="#f8f240"/>
<rect x="218.02" y="302.97" width="7.41" height="4.93" fill="#4470c8"/>
<rect x="225.43" y="302.97" width="7.41" height="4.93" fill="#5ab354"/>
<rect x="232.84" y="302.97" width="7.41" height="4.93" fill="#f8f240"/>
<rect x="255.08" y="302.97" width="7.41" height="4.93" fill="#f8f240"/>
<rect x="151.30" y="307.90" width="7.41" height="4.92" fill="#5ab354"/>
<rect x="158.71" y="307.90" width="7.41" height="4.92" fill="#5ab354"/>
<rect x="166.13" y="307.90" width="7.41" height="4.92" fill="#5ab354"/>
<rect x="173.54" y="307.90" width="7.41" height="4.92" fill="#edbd32"/>
<rect x="180.95" y="307.90" width="7.41" height="4.92" fill="#f8f240"/>
<rect x="188.37" y="307.90" width="7.41" height="4.92" fill="#5ab354"/>
<rect x="195.78" y="307.90" width="7.41" height="4.92" fill="#5ab354"/>
<rect x="203.19" y="307.90" width="7.41" height="4.92" fill="#5ab354"/>
<rect x="210.60" y="307.90" width="7.41" height="4.92" fill="#5ab354"/>
<rect x="218.02" y="307.90" width="7.41" height="4.92" fill="#f8f240"/>
<rect x="225.43" y="307.90" width="7.41" height="4.92" fill="#f8f240"/>
<rect x="232.84" y="307.90" width="7.41" height="4.92" fill="#5ab354"/>
<rect x="240.26" y="307.90" width="7.41" height="4.92" fill="#edbd32"/>
<rect x="247.67" y="307.90" width="7.41" height="4.92" fill="#edbd32"/>
<rect x="255.08" y="307.90" width="7.41" height="4.92" fill="#5ab354"/>
<rect x="151.30" y="312.82" width="7.41" height="4.94" fill="#5ab354"/>
<rect x="158.71" y="312.82" width="7.41" height="4.94" fill="#5ab354"/>
<rect x="166.13" y="312.82" width="7.41" height="4.94" fill="#5ab354"/>
<rect x="173.54" y="312.82" width="7.41" height="4.94" fill="#5ab354"/>
<rect x="180.95" y="312.82" width="7.41" height="4.94" fill="#5ab354"/>
<rect x="188.37" y="312.82" width="7.41" height="4.94" fill="#edbd32"/>
<rect x="195.78" y="312.82" width="7.41" height="4.94" fill="#edbd32"/>
<rect x="203.19" y="312.82" width="7.41" height="4.94" fill="#edbd32"/>
<rect x="210.60" y="312.82" width="7.41" height="4.94" fill="#edbd32"/>
<rect x="218.02" y="312.82" width="7.41" height="4.94" fill="#5ab354"/>
<rect x="225.43" y="312.82" width="7.41" height="4.94" fill="#5ab354"/>
<rect x="232.84" y="312.82" width="7.41" height="4.94" fill="#5ab354"/>
<rect x="240.26" y="312.82" width="7.41" height="4.94" fill="#6a2fb8"/>
<rect x="247.67" y="312.82" width="7.41" height="4.94" fill="#6a2fb8"/>
<rect x="255.08" y="312.82" width="7.41" height="4.94" fill="#edbd32"/>
<text x="155.01" y="10.27" font-size="3.40" fill="#222" text-anchor="middle" font-weight="bold">Sg</text>
<rect x="155.01" y="12.50" width="1.40" height="12.71" fill="#55463a" opacity="0.72"/>
<text x="156.79" y="40.23" font-size="3.0" fill="#2e2e2e" font-weight="bold" text-anchor="middle" textLength="8.56" lengthAdjust="spacingAndGlyphs" transform="rotate(-90 156.79 40.23)">sp01</text>
<text x="162.42" y="10.27" font-size="3.40" fill="#222" text-anchor="middle" font-weight="bold">Sg</text>
<rect x="162.42" y="12.50" width="1.40" height="12.71" fill="#55463a" opacity="0.72"/>
<text x="164.20" y="40.23" font-size="3.0" fill="#2e2e2e" font-weight="bold" text-anchor="middle" textLength="8.56" lengthAdjust="spacingAndGlyphs" transform="rotate(-90 164.20 40.23)">sp01</text>
<text x="169.83" y="10.27" font-size="3.40" fill="#222" text-anchor="middle" font-weight="bold">Sg</text>
<rect x="169.83" y="12.50" width="1.40" height="12.71" fill="#55463a" opacity="0.72"/>
<text x="171.61" y="40.23" font-size="3.0" fill="#2e2e2e" font-weight="bold" text-anchor="middle" textLength="8.56" lengthAdjust="spacingAndGlyphs" transform="rotate(-90 171.61 40.23)">sp01</text>
<text x="177.25" y="10.27" font-size="3.40" fill="#222" text-anchor="middle" font-weight="bold">Sg</text>
<rect x="177.25" y="12.50" width="1.40" height="12.71" fill="#55463a" opacity="0.72"/>
<text x="179.03" y="40.23" font-size="3.0" fill="#2e2e2e" font-weight="bold" text-anchor="middle" textLength="8.56" lengthAdjust="spacingAndGlyphs" transform="rotate(-90 179.03 40.23)">sp01</text>
<text x="184.66" y="10.27" font-size="3.40" fill="#222" text-anchor="middle" font-weight="bold">Sg</text>
<rect x="184.66" y="12.50" width="1.40" height="12.71" fill="#55463a" opacity="0.72"/>
<text x="186.44" y="40.23" font-size="3.0" fill="#2e2e2e" font-weight="bold" text-anchor="middle" textLength="8.56" lengthAdjust="spacingAndGlyphs" transform="rotate(-90 186.44 40.23)">sp01</text>
<text x="192.07" y="10.27" font-size="3.40" fill="#222" text-anchor="middle" font-weight="bold">Sg</text>
<rect x="192.07" y="12.50" width="1.40" height="12.71" fill="#55463a" opacity="0.72"/>
<text x="193.85" y="40.23" font-size="3.0" fill="#2e2e2e" font-weight="bold" text-anchor="middle" textLength="8.56" lengthAdjust="spacingAndGlyphs" transform="rotate(-90 193.85 40.23)">sp01</text>
<text x="199.48" y="10.27" font-size="3.40" fill="#222" text-anchor="middle" font-weight="bold">Sg</text>
<rect x="199.48" y="12.50" width="1.40" height="12.71" fill="#55463a" opacity="0.72"/>
<text x="201.26" y="40.23" font-size="3.0" fill="#2e2e2e" font-weight="bold" text-anchor="middle" textLength="8.56" lengthAdjust="spacingAndGlyphs" transform="rotate(-90 201.26 40.23)">sp01</text>
<text x="206.90" y="10.27" font-size="3.40" fill="#222" text-anchor="middle" font-weight="bold">Sg</text>
<rect x="206.90" y="12.50" width="1.40" height="12.71" fill="#55463a" opacity="0.72"/>
<text x="208.68" y="40.23" font-size="3.0" fill="#2e2e2e" font-weight="bold" text-anchor="middle" textLength="8.56" lengthAdjust="spacingAndGlyphs" transform="rotate(-90 208.68 40.23)">sp01</text>
<text x="214.31" y="10.27" font-size="3.40" fill="#222" text-anchor="middle" font-weight="bold">Sg</text>
<rect x="214.31" y="12.50" width="1.40" height="12.71" fill="#55463a" opacity="0.72"/>
<text x="216.09" y="40.23" font-size="3.0" fill="#2e2e2e" font-weight="bold" text-anchor="middle" textLength="8.56" lengthAdjust="spacingAndGlyphs" transform="rotate(-90 216.09 40.23)">sp01</text>
<text x="221.72" y="10.27" font-size="3.40" fill="#222" text-anchor="middle" font-weight="bold">Sg</text>
<rect x="221.72" y="12.50" width="1.40" height="12.71" fill="#55463a" opacity="0.72"/>
<text x="223.50" y="39.11" font-size="3.0" fill="#2e2e2e" font-weight="bold" text-anchor="middle" textLength="10.79" lengthAdjust="spacingAndGlyphs" transform="rotate(-90 223.50 39.11)">sp01</text>
<text x="229.14" y="10.27" font-size="3.40" fill="#222" text-anchor="middle" font-weight="bold">Sg</text>
<rect x="229.14" y="12.50" width="1.40" height="12.71" fill="#55463a" opacity="0.72"/>
<text x="230.92" y="40.23" font-size="3.0" fill="#2e2e2e" font-weight="bold" text-anchor="middle" textLength="8.56" lengthAdjust="spacingAndGlyphs" transform="rotate(-90 230.92 40.23)">sp01</text>
<text x="236.55" y="10.27" font-size="3.40" fill="#222" text-anchor="middle" font-weight="bold">Sg</text>
<rect x="236.55" y="12.50" width="1.40" height="12.71" fill="#55463a" opacity="0.72"/>
<text x="238.33" y="39.11" font-size="3.0" fill="#2e2e2e" font-weight="bold" text-anchor="middle" textLength="10.79" lengthAdjust="spacingAndGlyphs" transform="rotate(-90 238.33 39.11)">sp01</text>
<text x="243.96" y="10.27" font-size="3.40" fill="#222" text-anchor="middle" font-weight="bold">Sg</text>
<rect x="243.96" y="12.50" width="1.40" height="12.71" fill="#55463a" opacity="0.72"/>
<text x="245.74" y="40.23" font-size="3.0" fill="#2e2e2e" font-weight="bold" text-anchor="middle" textLength="8.56" lengthAdjust="spacingAndGlyphs" transform="rotate(-90 245.74 40.23)">sp01</text>
<text x="251.38" y="10.27" font-size="3.40" fill="#222" text-anchor="middle" font-weight="bold">Sg</text>
<rect x="251.38" y="12.50" width="1.40" height="12.71" fill="#55463a" opacity="0.72"/>
<text x="253.16" y="40.23" font-size="3.0" fill="#2e2e2e" font-weight="bold" text-anchor="middle" textLength="8.56" lengthAdjust="spacingAndGlyphs" transform="rotate(-90 253.16 40.23)">sp01</text>
<text x="258.79" y="10.27" font-size="3.40" fill="#222" text-anchor="middle" font-weight="bold">Sg</text>
<rect x="258.79" y="12.50" width="1.40" height="12.71" fill="#55463a" opacity="0.72"/>
<text x="260.57" y="40.23" font-size="3.0" fill="#2e2e2e" font-weight="bold" text-anchor="middle" textLength="8.56" lengthAdjust="spacingAndGlyphs" transform="rotate(-90 260.57 40.23)">sp01</text>
<text x="142.75" y="10.18" font-size="2.60" fill="#333" text-anchor="middle" font-weight="normal" textLength="12.83" lengthAdjust="spacingAndGlyphs">Ligand allele</text>
<text x="143.37" y="18.95" font-size="2.7" fill="#222" font-weight="bold" text-anchor="middle" textLength="8.50" lengthAdjust="spacingAndGlyphs" transform="rotate(-90 143.37 18.95)">ppt ID</text>
<text x="143.37" y="35.60" font-size="2.7" fill="#222" font-weight="bold" text-anchor="middle" textLength="15.40" lengthAdjust="spacingAndGlyphs" transform="rotate(-90 143.37 35.60)">sample type</text>
<text x="155.01" y="48.90" font-size="2.82" fill="#c9b8e8" text-anchor="middle" font-weight="normal">sl</text>
<text x="162.42" y="48.90" font-size="2.82" fill="#c9b8e8" text-anchor="middle" font-weight="normal">sl</text>
<text x="169.83" y="48.90" font-size="2.82" fill="#c9b8e8" text-anchor="middle" font-weight="normal">sl</text>
<text x="177.25" y="48.90" font-size="2.82" fill="#c9b8e8" text-anchor="middle" font-weight="normal">sl</text>
<text x="184.66" y="48.90" font-size="2.82" fill="#c9b8e8" text-anchor="middle" font-weight="normal">sl</text>
<text x="192.07" y="48.90" font-size="2.82" fill="#c9b8e8" text-anchor="middle" font-weight="normal">sl</text>
<text x="199.48" y="48.90" font-size="2.82" fill="#c9b8e8" text-anchor="middle" font-weight="normal">sl</text>
<text x="206.90" y="48.90" font-size="2.82" fill="#c9b8e8" text-anchor="middle" font-weight="normal">sl</text>
<text x="214.31" y="48.90" font-size="2.82" fill="#c9b8e8" text-anchor="middle" font-weight="normal">sl</text>
<text x="221.72" y="48.90" font-size="2.82" fill="#c9b8e8" text-anchor="middle" font-weight="normal">sl</text>
<text x="229.14" y="48.90" font-size="2.82" fill="#c9b8e8" text-anchor="middle" font-weight="normal">sl</text>
<text x="236.55" y="48.90" font-size="2.82" fill="#c9b8e8" text-anchor="middle" font-weight="normal">sl</text>
<text x="243.96" y="48.90" font-size="2.82" fill="#c9b8e8" text-anchor="middle" font-weight="normal">sl</text>
<text x="251.38" y="48.90" font-size="2.82" fill="#c9b8e8" text-anchor="middle" font-weight="normal">sl</text>
<text x="258.79" y="48.90" font-size="2.82" fill="#c9b8e8" text-anchor="middle" font-weight="normal">sl</text>
<rect x="154.11" y="94.19" width="1.80" height="2.14" fill="#d9ccf2" opacity="0.75"/>
<rect x="161.52" y="94.19" width="1.80" height="2.14" fill="#d9ccf2" opacity="0.75"/>
<rect x="168.93" y="94.19" width="1.80" height="2.14" fill="#d9ccf2" opacity="0.75"/>
<rect x="154.11" y="120.92" width="1.80" height="2.12" fill="#d9ccf2" opacity="0.75"/>
<rect x="161.52" y="120.92" width="1.80" height="2.12" fill="#d9ccf2" opacity="0.75"/>
<rect x="168.93" y="120.92" width="1.80" height="2.12" fill="#d9ccf2" opacity="0.75"/>
<rect x="154.11" y="126.21" width="1.80" height="2.10" fill="#d9ccf2" opacity="0.75"/>
<rect x="161.52" y="126.21" width="1.80" height="2.10" fill="#d9ccf2" opacity="0.75"/>
<rect x="168.93" y="126.21" width="1.80" height="2.10" fill="#d9ccf2" opacity="0.75"/>
<rect x="243.06" y="126.21" width="1.80" height="2.10" fill="#d9ccf2" opacity="0.75"/>
<rect x="154.11" y="208.31" width="1.80" height="2.05" fill="#d9ccf2" opacity="0.75"/>
<rect x="161.52" y="208.31" width="1.80" height="2.05" fill="#d9ccf2" opacity="0.75"/>
<rect x="168.93" y="208.31" width="1.80" height="2.05" fill="#d9ccf2" opacity="0.75"/>
<rect x="154.11" y="274.16" width="1.80" height="2.06" fill="#d9ccf2" opacity="0.75"/>
<rect x="161.52" y="274.16" width="1.80" height="2.06" fill="#d9ccf2" opacity="0.75"/>
<rect x="168.93" y="274.16" width="1.80" height="2.06" fill="#d9ccf2" opacity="0.75"/>
<rect x="243.06" y="314.31" width="1.80" height="1.98" fill="#d9ccf2" opacity="0.75"/>
<text x="135.00" y="49.41" font-size="4.36" fill="#3a3a3a" text-anchor="start" font-weight="normal" textLength="12.08" lengthAdjust="spacingAndGlyphs">HLA-E</text>
<text x="135.00" y="54.54" font-size="4.36" fill="#3a3a3a" text-anchor="start" font-weight="normal" textLength="12.08" lengthAdjust="spacingAndGlyphs">HLA-F</text>
<text x="135.00" y="59.68" font-size="4.37" fill="#3a3a3a" text-anchor="start" font-weight="normal" textLength="12.08" lengthAdjust="spacingAndGlyphs">HLA-G</text>
<text x="135.00" y="64.86" font-size="4.41" fill="#3a3a3a" text-anchor="start" font-weight="normal" textLength="14.50" lengthAdjust="spacingAndGlyphs">B*0702</text>
<text x="135.00" y="70.10" font-size="4.47" fill="#3a3a3a" text-anchor="start" font-weight="normal" textLength="14.50" lengthAdjust="spacingAndGlyphs">B*0801</text>
<text x="135.00" y="75.44" font-size="4.55" fill="#3a3a3a" text-anchor="start" font-weight="normal" textLength="14.50" lengthAdjust="spacingAndGlyphs">B*1301</text>
<text x="135.00" y="80.83" font-size="4.59" fill="#3a3a3a" text-anchor="start" font-weight="normal" textLength="14.50" lengthAdjust="spacingAndGlyphs">B*1302</text>
<text x="135.00" y="86.24" font-size="4.60" fill="#3a3a3a" text-anchor="start" font-weight="normal" textLength="14.50" lengthAdjust="spacingAndGlyphs">B*1401</text>
<text x="135.00" y="91.62" font-size="4.57" fill="#3a3a3a" text-anchor="start" font-weight="normal" textLength="14.50" lengthAdjust="spacingAndGlyphs">B*1402</text>
<text x="135.00" y="96.97" font-size="4.54" fill="#3a3a3a" text-anchor="start" font-weight="normal" textLength="14.50" lengthAdjust="spacingAndGlyphs">B*1501</text>
<text x="135.00" y="102.31" font-size="4.53" fill="#3a3a3a" text-anchor="start" font-weight="normal" textLength="14.50" lengthAdjust="spacingAndGlyphs">B*1502</text>
<text x="135.00" y="107.65" font-size="4.54" fill="#3a3a3a" text-anchor="start" font-weight="normal" textLength="14.50" lengthAdjust="spacingAndGlyphs">B*1503</text>
<text x="135.00" y="113.00" font-size="4.56" fill="#3a3a3a" text-anchor="start" font-weight="normal" textLength="14.50" lengthAdjust="spacingAndGlyphs">B*1510</text>
<text x="135.00" y="118.36" font-size="4.55" fill="#3a3a3a" text-anchor="start" font-weight="normal" textLength="14.50" lengthAdjust="spacingAndGlyphs">B*1512</text>
<text x="135.00" y="123.68" font-size="4.51" fill="#3a3a3a" text-anchor="start" font-weight="normal" textLength="14.50" lengthAdjust="spacingAndGlyphs">B*1513</text>
<text x="135.00" y="128.94" font-size="4.46" fill="#3a3a3a" text-anchor="start" font-weight="normal" textLength="14.50" lengthAdjust="spacingAndGlyphs">B*1516</text>
<text x="135.00" y="134.14" font-size="4.42" fill="#3a3a3a" text-anchor="start" font-weight="normal" textLength="14.50" lengthAdjust="spacingAndGlyphs">B*1517</text>
<text x="135.00" y="139.32" font-size="4.39" fill="#3a3a3a" text-anchor="start" font-weight="normal" textLength="14.50" lengthAdjust="spacingAndGlyphs">B*1518</text>
<text x="135.00" y="144.48" font-size="4.38" fill="#3a3a3a" text-anchor="start" font-weight="normal" textLength="14.50" lengthAdjust="spacingAndGlyphs">B*1801</text>
<text x="135.00" y="149.63" font-size="4.38" fill="#3a3a3a" text-anchor="start" font-weight="normal" textLength="14.50" lengthAdjust="spacingAndGlyphs">B*2702</text>
<text x="135.00" y="154.78" font-size="4.38" fill="#3a3a3a" text-anchor="start" font-weight="normal" textLength="14.50" lengthAdjust="spacingAndGlyphs">B*2705</text>
<text x="135.00" y="159.92" font-size="4.37" fill="#3a3a3a" text-anchor="start" font-weight="normal" textLength="14.50" lengthAdjust="spacingAndGlyphs">B*3501</text>
<text x="135.00" y="165.04" font-size="4.35" fill="#3a3a3a" text-anchor="start" font-weight="normal" textLength="14.50" lengthAdjust="spacingAndGlyphs">B*3502</text>
<text x="135.00" y="170.15" font-size="4.34" fill="#3a3a3a" text-anchor="start" font-weight="normal" textLength="14.50" lengthAdjust="spacingAndGlyphs">B*3503</text>
<text x="135.00" y="175.26" font-size="4.35" fill="#3a3a3a" text-anchor="start" font-weight="normal" textLength="14.50" lengthAdjust="spacingAndGlyphs">B*3508</text>
<text x="135.00" y="180.40" font-size="4.37" fill="#3a3a3a" text-anchor="start" font-weight="normal" textLength="14.50" lengthAdjust="spacingAndGlyphs">B*3701</text>
<text x="135.00" y="185.55" font-size="4.38" fill="#3a3a3a" text-anchor="start" font-weight="normal" textLength="14.50" lengthAdjust="spacingAndGlyphs">B*3801</text>
<text x="135.00" y="190.68" font-size="4.36" fill="#3a3a3a" text-anchor="start" font-weight="normal" textLength="14.50" lengthAdjust="spacingAndGlyphs">B*3901</text>
<text x="135.00" y="195.75" font-size="4.31" fill="#3a3a3a" text-anchor="start" font-weight="normal" textLength="14.50" lengthAdjust="spacingAndGlyphs">B*4001</text>
<text x="135.00" y="200.79" font-size="4.28" fill="#3a3a3a" text-anchor="start" font-weight="normal" textLength="14.50" lengthAdjust="spacingAndGlyphs">B*4002</text>
<text x="135.00" y="205.86" font-size="4.32" fill="#3a3a3a" text-anchor="start" font-weight="normal" textLength="14.50" lengthAdjust="spacingAndGlyphs">B*4101</text>
<text x="135.00" y="210.98" font-size="4.36" fill="#3a3a3a" text-anchor="start" font-weight="normal" textLength="14.50" lengthAdjust="spacingAndGlyphs">B*4201</text>
<text x="135.00" y="216.11" font-size="4.35" fill="#3a3a3a" text-anchor="start" font-weight="normal" textLength="14.50" lengthAdjust="spacingAndGlyphs">B*4402</text>
<text x="135.00" y="221.21" font-size="4.34" fill="#3a3a3a" text-anchor="start" font-weight="normal" textLength="14.50" lengthAdjust="spacingAndGlyphs">B*4403</text>
<text x="135.00" y="226.29" font-size="4.31" fill="#3a3a3a" text-anchor="start" font-weight="normal" textLength="14.50" lengthAdjust="spacingAndGlyphs">B*4501</text>
<text x="135.00" y="231.30" font-size="4.25" fill="#3a3a3a" text-anchor="start" font-weight="normal" textLength="14.50" lengthAdjust="spacingAndGlyphs">B*4601</text>
<text x="135.00" y="236.25" font-size="4.19" fill="#3a3a3a" text-anchor="start" font-weight="normal" textLength="14.50" lengthAdjust="spacingAndGlyphs">B*4701</text>
<text x="135.00" y="241.20" font-size="4.22" fill="#3a3a3a" text-anchor="start" font-weight="normal" textLength="14.50" lengthAdjust="spacingAndGlyphs">B*4801</text>
<text x="135.00" y="246.20" font-size="4.26" fill="#3a3a3a" text-anchor="start" font-weight="normal" textLength="14.50" lengthAdjust="spacingAndGlyphs">B*4901</text>
<text x="135.00" y="251.24" font-size="4.29" fill="#3a3a3a" text-anchor="start" font-weight="normal" textLength="14.50" lengthAdjust="spacingAndGlyphs">B*5001</text>
<text x="135.00" y="256.30" font-size="4.31" fill="#3a3a3a" text-anchor="start" font-weight="normal" textLength="14.50" lengthAdjust="spacingAndGlyphs">B*5101</text>
<text x="135.00" y="261.39" font-size="4.33" fill="#3a3a3a" text-anchor="start" font-weight="normal" textLength="14.50" lengthAdjust="spacingAndGlyphs">B*5201</text>
<text x="135.00" y="266.52" font-size="4.37" fill="#3a3a3a" text-anchor="start" font-weight="normal" textLength="14.50" lengthAdjust="spacingAndGlyphs">B*5301</text>
<text x="135.00" y="271.68" font-size="4.39" fill="#3a3a3a" text-anchor="start" font-weight="normal" textLength="14.50" lengthAdjust="spacingAndGlyphs">B*5401</text>
<text x="135.00" y="276.84" font-size="4.39" fill="#3a3a3a" text-anchor="start" font-weight="normal" textLength="14.50" lengthAdjust="spacingAndGlyphs">B*5501</text>
<text x="135.00" y="281.98" font-size="4.36" fill="#3a3a3a" text-anchor="start" font-weight="normal" textLength="14.50" lengthAdjust="spacingAndGlyphs">B*5601</text>
<text x="135.00" y="287.08" font-size="4.32" fill="#3a3a3a" text-anchor="start" font-weight="normal" textLength="14.50" lengthAdjust="spacingAndGlyphs">B*5701</text>
<text x="135.00" y="292.12" font-size="4.28" fill="#3a3a3a" text-anchor="start" font-weight="normal" textLength="14.50" lengthAdjust="spacingAndGlyphs">B*5703</text>
<text x="135.00" y="297.12" font-size="4.24" fill="#3a3a3a" text-anchor="start" font-weight="normal" textLength="14.50" lengthAdjust="spacingAndGlyphs">B*5801</text>
<text x="135.00" y="302.08" font-size="4.21" fill="#3a3a3a" text-anchor="start" font-weight="normal" textLength="14.50" lengthAdjust="spacingAndGlyphs">B*6701</text>
<text x="135.00" y="307.01" font-size="4.19" fill="#3a3a3a" text-anchor="start" font-weight="normal" textLength="14.50" lengthAdjust="spacingAndGlyphs">B*7301</text>
<text x="135.00" y="311.94" font-size="4.18" fill="#3a3a3a" text-anchor="start" font-weight="normal" textLength="14.50" lengthAdjust="spacingAndGlyphs">B*7801</text>
<text x="135.00" y="316.87" font-size="4.20" fill="#3a3a3a" text-anchor="start" font-weight="normal" textLength="14.50" lengthAdjust="spacingAndGlyphs">B*8101</text>
<text x="135.00" y="321.84" font-size="4.22" fill="#3a3a3a" text-anchor="start" font-weight="normal" textLength="14.50" lengthAdjust="spacingAndGlyphs">Total (50)</text>
<text x="155.01" y="321.74" font-size="3.08" fill="#666" text-anchor="middle" font-weight="normal">45</text>
<text x="162.42" y="321.74" font-size="3.08" fill="#666" text-anchor="middle" font-weight="normal">45</text>
<text x="169.83" y="321.74" font-size="3.08" fill="#666" text-anchor="middle" font-weight="normal">45</text>
<text x="177.25" y="321.74" font-size="3.08" fill="#666" text-anchor="middle" font-weight="normal">45</text>
<text x="184.66" y="321.74" font-size="3.08" fill="#666" text-anchor="middle" font-weight="normal">45</text>
<text x="192.07" y="321.74" font-size="3.08" fill="#666" text-anchor="middle" font-weight="normal">45</text>
<text x="199.48" y="321.74" font-size="3.08" fill="#666" text-anchor="middle" font-weight="normal">45</text>
<text x="206.90" y="321.74" font-size="3.08" fill="#666" text-anchor="middle" font-weight="normal">45</text>
<text x="214.31" y="321.74" font-size="3.08" fill="#666" text-anchor="middle" font-weight="normal">45</text>
<text x="221.72" y="321.74" font-size="3.08" fill="#666" text-anchor="middle" font-weight="normal">45</text>
<text x="229.14" y="321.74" font-size="3.08" fill="#666" text-anchor="middle" font-weight="normal">45</text>
<text x="236.55" y="321.74" font-size="3.08" fill="#666" text-anchor="middle" font-weight="normal">45</text>
<text x="243.96" y="321.74" font-size="3.08" fill="#666" text-anchor="middle" font-weight="normal">45</text>
<text x="251.38" y="321.74" font-size="3.08" fill="#666" text-anchor="middle" font-weight="normal">45</text>
<text x="258.79" y="321.74" font-size="3.08" fill="#666" text-anchor="middle" font-weight="normal">45</text>
<line x1="134.20" y1="45.21" x2="151.30" y2="45.21" stroke="#b4b4b4" stroke-width="0.7"/>
<line x1="151.30" y1="45.21" x2="262.50" y2="45.21" stroke="#262626" stroke-width="0.7"/>
<line x1="134.20" y1="50.34" x2="151.30" y2="50.34" stroke="#b4b4b4" stroke-width="0.7"/>
<line x1="151.30" y1="50.34" x2="262.50" y2="50.34" stroke="#262626" stroke-width="0.7"/>
<line x1="134.20" y1="55.46" x2="151.30" y2="55.46" stroke="#b4b4b4" stroke-width="0.7"/>
<line x1="151.30" y1="55.46" x2="262.50" y2="55.46" stroke="#8c8c8c" stroke-width="0.7"/>
<line x1="134.20" y1="60.60" x2="151.30" y2="60.60" stroke="#b4b4b4" stroke-width="0.7"/>
<line x1="151.30" y1="60.60" x2="240.26" y2="60.60" stroke="#262626" stroke-width="0.7"/>
<line x1="240.26" y1="60.60" x2="255.08" y2="60.60" stroke="#8c8c8c" stroke-width="0.7"/>
<line x1="255.08" y1="60.60" x2="262.50" y2="60.60" stroke="#262626" stroke-width="0.7"/>
<line x1="134.20" y1="65.79" x2="151.30" y2="65.79" stroke="#b4b4b4" stroke-width="0.7"/>
<line x1="151.30" y1="65.79" x2="262.50" y2="65.79" stroke="#262626" stroke-width="0.7"/>
<line x1="134.20" y1="71.05" x2="151.30" y2="71.05" stroke="#b4b4b4" stroke-width="0.7"/>
<line x1="151.30" y1="71.05" x2="262.50" y2="71.05" stroke="#262626" stroke-width="0.7"/>
<line x1="134.20" y1="76.40" x2="151.30" y2="76.40" stroke="#b4b4b4" stroke-width="0.7"/>
<line x1="151.30" y1="76.40" x2="262.50" y2="76.40" stroke="#262626" stroke-width="0.7"/>
<line x1="134.20" y1="81.80" x2="151.30" y2="81.80" stroke="#b4b4b4" stroke-width="0.7"/>
<line x1="151.30" y1="81.80" x2="262.50" y2="81.80" stroke="#262626" stroke-width="0.7"/>
<line x1="134.20" y1="87.21" x2="151.30" y2="87.21" stroke="#b4b4b4" stroke-width="0.7"/>
<line x1="151.30" y1="87.21" x2="262.50" y2="87.21" stroke="#262626" stroke-width="0.7"/>
<line x1="134.20" y1="92.59" x2="151.30" y2="92.59" stroke="#b4b4b4" stroke-width="0.7"/>
<line x1="151.30" y1="92.59" x2="262.50" y2="92.59" stroke="#262626" stroke-width="0.7"/>
<line x1="134.20" y1="97.93" x2="151.30" y2="97.93" stroke="#b4b4b4" stroke-width="0.7"/>
<line x1="151.30" y1="97.93" x2="262.50" y2="97.93" stroke="#262626" stroke-width="0.7"/>
<line x1="134.20" y1="103.27" x2="151.30" y2="103.27" stroke="#b4b4b4" stroke-width="0.7"/>
<line x1="151.30" y1="103.27" x2="262.50" y2="103.27" stroke="#262626" stroke-width="0.7"/>
<line x1="134.20" y1="108.61" x2="151.30" y2="108.61" stroke="#b4b4b4" stroke-width="0.7"/>
<line x1="151.30" y1="108.61" x2="262.50" y2="108.61" stroke="#262626" stroke-width="0.7"/>
<line x1="134.20" y1="113.97" x2="151.30" y2="113.97" stroke="#b4b4b4" stroke-width="0.7"/>
<line x1="151.30" y1="113.97" x2="262.50" y2="113.97" stroke="#262626" stroke-width="0.7"/>
<line x1="134.20" y1="119.32" x2="151.30" y2="119.32" stroke="#b4b4b4" stroke-width="0.7"/>
<line x1="151.30" y1="119.32" x2="262.50" y2="119.32" stroke="#262626" stroke-width="0.7"/>
<line x1="134.20" y1="124.64" x2="151.30" y2="124.64" stroke="#b4b4b4" stroke-width="0.7"/>
<line x1="151.30" y1="124.64" x2="262.50" y2="124.64" stroke="#262626" stroke-width="0.7"/>
<line x1="134.20" y1="129.88" x2="151.30" y2="129.88" stroke="#b4b4b4" stroke-width="0.7"/>
<line x1="151.30" y1="129.88" x2="262.50" y2="129.88" stroke="#262626" stroke-width="0.7"/>
<line x1="134.20" y1="135.08" x2="151.30" y2="135.08" stroke="#b4b4b4" stroke-width="0.7"/>
<line x1="151.30" y1="135.08" x2="262.50" y2="135.08" stroke="#262626" stroke-width="0.7"/>
<line x1="134.20" y1="140.25" x2="151.30" y2="140.25" stroke="#b4b4b4" stroke-width="0.7"/>
<line x1="151.30" y1="140.25" x2="262.50" y2="140.25" stroke="#262626" stroke-width="0.7"/>
<line x1="134.20" y1="145.40" x2="151.30" y2="145.40" stroke="#b4b4b4" stroke-width="0.7"/>
<line x1="151.30" y1="145.40" x2="262.50" y2="145.40" stroke="#262626" stroke-width="0.7"/>
<line x1="134.20" y1="150.56" x2="151.30" y2="150.56" stroke="#b4b4b4" stroke-width="0.7"/>
<line x1="151.30" y1="150.56" x2="262.50" y2="150.56" stroke="#262626" stroke-width="0.7"/>
<line x1="134.20" y1="155.71" x2="151.30" y2="155.71" stroke="#b4b4b4" stroke-width="0.7"/>
<line x1="151.30" y1="155.71" x2="262.50" y2="155.71" stroke="#262626" stroke-width="0.7"/>
<line x1="134.20" y1="160.84" x2="151.30" y2="160.84" stroke="#b4b4b4" stroke-width="0.7"/>
<line x1="151.30" y1="160.84" x2="240.26" y2="160.84" stroke="#262626" stroke-width="0.7"/>
<line x1="240.26" y1="160.84" x2="255.08" y2="160.84" stroke="#8c8c8c" stroke-width="0.7"/>
<line x1="255.08" y1="160.84" x2="262.50" y2="160.84" stroke="#262626" stroke-width="0.7"/>
<line x1="134.20" y1="165.96" x2="151.30" y2="165.96" stroke="#b4b4b4" stroke-width="0.7"/>
<line x1="151.30" y1="165.96" x2="262.50" y2="165.96" stroke="#262626" stroke-width="0.7"/>
<line x1="134.20" y1="171.07" x2="151.30" y2="171.07" stroke="#b4b4b4" stroke-width="0.7"/>
<line x1="151.30" y1="171.07" x2="262.50" y2="171.07" stroke="#262626" stroke-width="0.7"/>
<line x1="134.20" y1="176.19" x2="151.30" y2="176.19" stroke="#b4b4b4" stroke-width="0.7"/>
<line x1="151.30" y1="176.19" x2="262.50" y2="176.19" stroke="#262626" stroke-width="0.7"/>
<line x1="134.20" y1="181.33" x2="151.30" y2="181.33" stroke="#b4b4b4" stroke-width="0.7"/>
<line x1="151.30" y1="181.33" x2="262.50" y2="181.33" stroke="#262626" stroke-width="0.7"/>
<line x1="134.20" y1="186.47" x2="151.30" y2="186.47" stroke="#b4b4b4" stroke-width="0.7"/>
<line x1="151.30" y1="186.47" x2="247.67" y2="186.47" stroke="#262626" stroke-width="0.7"/>
<line x1="247.67" y1="186.47" x2="255.08" y2="186.47" stroke="#8c8c8c" stroke-width="0.7"/>
<line x1="255.08" y1="186.47" x2="262.50" y2="186.47" stroke="#262626" stroke-width="0.7"/>
<line x1="134.20" y1="191.60" x2="151.30" y2="191.60" stroke="#b4b4b4" stroke-width="0.7"/>
<line x1="151.30" y1="191.60" x2="262.50" y2="191.60" stroke="#262626" stroke-width="0.7"/>
<line x1="134.20" y1="196.66" x2="151.30" y2="196.66" stroke="#b4b4b4" stroke-width="0.7"/>
<line x1="151.30" y1="196.66" x2="262.50" y2="196.66" stroke="#262626" stroke-width="0.7"/>
<line x1="134.20" y1="201.70" x2="151.30" y2="201.70" stroke="#b4b4b4" stroke-width="0.7"/>
<line x1="151.30" y1="201.70" x2="262.50" y2="201.70" stroke="#262626" stroke-width="0.7"/>
<line x1="134.20" y1="206.77" x2="151.30" y2="206.77" stroke="#b4b4b4" stroke-width="0.7"/>
<line x1="151.30" y1="206.77" x2="262.50" y2="206.77" stroke="#262626" stroke-width="0.7"/>
<line x1="134.20" y1="211.91" x2="151.30" y2="211.91" stroke="#b4b4b4" stroke-width="0.7"/>
<line x1="151.30" y1="211.91" x2="262.50" y2="211.91" stroke="#262626" stroke-width="0.7"/>
<line x1="134.20" y1="217.03" x2="151.30" y2="217.03" stroke="#b4b4b4" stroke-width="0.7"/>
<line x1="151.30" y1="217.03" x2="262.50" y2="217.03" stroke="#262626" stroke-width="0.7"/>
<line x1="134.20" y1="222.13" x2="151.30" y2="222.13" stroke="#b4b4b4" stroke-width="0.7"/>
<line x1="151.30" y1="222.13" x2="262.50" y2="222.13" stroke="#262626" stroke-width="0.7"/>
<line x1="134.20" y1="227.20" x2="151.30" y2="227.20" stroke="#b4b4b4" stroke-width="0.7"/>
<line x1="151.30" y1="227.20" x2="173.54" y2="227.20" stroke="#8c8c8c" stroke-width="0.7"/>
<line x1="173.54" y1="227.20" x2="232.84" y2="227.20" stroke="#262626" stroke-width="0.7"/>
<line x1="232.84" y1="227.20" x2="240.26" y2="227.20" stroke="#8c8c8c" stroke-width="0.7"/>
<line x1="240.26" y1="227.20" x2="255.08" y2="227.20" stroke="#262626" stroke-width="0.7"/>
<line x1="255.08" y1="227.20" x2="262.50" y2="227.20" stroke="#8c8c8c" stroke-width="0.7"/>
<line x1="134.20" y1="232.20" x2="151.30" y2="232.20" stroke="#b4b4b4" stroke-width="0.7"/>
<line x1="151.30" y1="232.20" x2="173.54" y2="232.20" stroke="#262626" stroke-width="0.7"/>
<line x1="173.54" y1="232.20" x2="188.37" y2="232.20" stroke="#8c8c8c" stroke-width="0.7"/>
<line x1="188.37" y1="232.20" x2="218.02" y2="232.20" stroke="#262626" stroke-width="0.7"/>
<line x1="218.02" y1="232.20" x2="232.84" y2="232.20" stroke="#8c8c8c" stroke-width="0.7"/>
<line x1="232.84" y1="232.20" x2="262.50" y2="232.20" stroke="#262626" stroke-width="0.7"/>
<line x1="134.20" y1="237.13" x2="151.30" y2="237.13" stroke="#b4b4b4" stroke-width="0.7"/>
<line x1="151.30" y1="237.13" x2="262.50" y2="237.13" stroke="#262626" stroke-width="0.7"/>
<line x1="134.20" y1="242.09" x2="151.30" y2="242.09" stroke="#b4b4b4" stroke-width="0.7"/>
<line x1="151.30" y1="242.09" x2="262.50" y2="242.09" stroke="#262626" stroke-width="0.7"/>
<line x1="134.20" y1="247.10" x2="151.30" y2="247.10" stroke="#b4b4b4" stroke-width="0.7"/>
<line x1="151.30" y1="247.10" x2="262.50" y2="247.10" stroke="#262626" stroke-width="0.7"/>
<line x1="134.20" y1="252.15" x2="151.30" y2="252.15" stroke="#b4b4b4" stroke-width="0.7"/>
<line x1="151.30" y1="252.15" x2="262.50" y2="252.15" stroke="#262626" stroke-width="0.7"/>
<line x1="134.20" y1="257.21" x2="151.30" y2="257.21" stroke="#b4b4b4" stroke-width="0.7"/>
<line x1="151.30" y1="257.21" x2="262.50" y2="257.21" stroke="#262626" stroke-width="0.7"/>
<line x1="134.20" y1="262.31" x2="151.30" y2="262.31" stroke="#b4b4b4" stroke-width="0.7"/>
<line x1="151.30" y1="262.31" x2="262.50" y2="262.31" stroke="#262626" stroke-width="0.7"/>
<line x1="134.20" y1="267.45" x2="151.30" y2="267.45" stroke="#b4b4b4" stroke-width="0.7"/>
<line x1="151.30" y1="267.45" x2="262.50" y2="267.45" stroke="#262626" stroke-width="0.7"/>
<line x1="134.20" y1="272.61" x2="151.30" y2="272.61" stroke="#b4b4b4" stroke-width="0.7"/>
<line x1="151.30" y1="272.61" x2="262.50" y2="272.61" stroke="#262626" stroke-width="0.7"/>
<line x1="134.20" y1="277.77" x2="151.30" y2="277.77" stroke="#b4b4b4" stroke-width="0.7"/>
<line x1="151.30" y1="277.77" x2="180.95" y2="277.77" stroke="#262626" stroke-width="0.7"/>
<line x1="180.95" y1="277.77" x2="188.37" y2="277.77" stroke="#8c8c8c" stroke-width="0.7"/>
<line x1="188.37" y1="277.77" x2="218.02" y2="277.77" stroke="#262626" stroke-width="0.7"/>
<line x1="218.02" y1="277.77" x2="232.84" y2="277.77" stroke="#8c8c8c" stroke-width="0.7"/>
<line x1="232.84" y1="277.77" x2="262.50" y2="277.77" stroke="#262626" stroke-width="0.7"/>
<line x1="134.20" y1="282.91" x2="151.30" y2="282.91" stroke="#b4b4b4" stroke-width="0.7"/>
<line x1="151.30" y1="282.91" x2="262.50" y2="282.91" stroke="#262626" stroke-width="0.7"/>
<line x1="134.20" y1="287.99" x2="151.30" y2="287.99" stroke="#b4b4b4" stroke-width="0.7"/>
<line x1="151.30" y1="287.99" x2="262.50" y2="287.99" stroke="#262626" stroke-width="0.7"/>
<line x1="134.20" y1="293.03" x2="151.30" y2="293.03" stroke="#b4b4b4" stroke-width="0.7"/>
<line x1="151.30" y1="293.03" x2="262.50" y2="293.03" stroke="#262626" stroke-width="0.7"/>
<line x1="134.20" y1="298.02" x2="151.30" y2="298.02" stroke="#b4b4b4" stroke-width="0.7"/>
<line x1="151.30" y1="298.02" x2="262.50" y2="298.02" stroke="#262626" stroke-width="0.7"/>
<line x1="134.20" y1="302.97" x2="151.30" y2="302.97" stroke="#b4b4b4" stroke-width="0.7"/>
<line x1="151.30" y1="302.97" x2="262.50" y2="302.97" stroke="#262626" stroke-width="0.7"/>
<line x1="134.20" y1="307.90" x2="151.30" y2="307.90" stroke="#b4b4b4" stroke-width="0.7"/>
<line x1="151.30" y1="307.90" x2="262.50" y2="307.90" stroke="#262626" stroke-width="0.7"/>
<line x1="134.20" y1="312.82" x2="151.30" y2="312.82" stroke="#b4b4b4" stroke-width="0.7"/>
<line x1="151.30" y1="312.82" x2="262.50" y2="312.82" stroke="#262626" stroke-width="0.7"/>
<line x1="134.20" y1="317.76" x2="151.30" y2="317.76" stroke="#b4b4b4" stroke-width="0.7"/>
<line x1="151.30" y1="317.76" x2="262.50" y2="317.76" stroke="#262626" stroke-width="0.7"/>
<line x1="134.20" y1="322.73" x2="151.30" y2="322.73" stroke="#b4b4b4" stroke-width="0.7"/>
<line x1="151.30" y1="322.73" x2="262.50" y2="322.73" stroke="#8c8c8c" stroke-width="0.7"/>
<line x1="134.20" y1="6.50" x2="262.50" y2="6.50" stroke="#9a9a9a" stroke-width="0.7"/>
<line x1="134.20" y1="11.10" x2="262.50" y2="11.10" stroke="#9a9a9a" stroke-width="0.7"/>
<line x1="134.20" y1="26.60" x2="262.50" y2="26.60" stroke="#9a9a9a" stroke-width="0.7"/>
<line x1="134.20" y1="6.50" x2="134.20" y2="322.73" stroke="#b4b4b4" stroke-width="0.7"/>
<line x1="151.30" y1="6.50" x2="151.30" y2="45.21" stroke="#ababab" stroke-width="0.7"/>
<line x1="151.30" y1="45.21" x2="151.30" y2="322.73" stroke="#262626" stroke-width="0.7"/>
<line x1="158.71" y1="6.50" x2="158.71" y2="45.21" stroke="#ababab" stroke-width="0.7"/>
<line x1="158.71" y1="45.21" x2="158.71" y2="322.73" stroke="#262626" stroke-width="0.7"/>
<line x1="166.13" y1="6.50" x2="166.13" y2="45.21" stroke="#ababab" stroke-width="0.7"/>
<line x1="166.13" y1="45.21" x2="166.13" y2="322.73" stroke="#262626" stroke-width="0.7"/>
<line x1="173.54" y1="6.50" x2="173.54" y2="45.21" stroke="#ababab" stroke-width="0.7"/>
<line x1="173.54" y1="45.21" x2="173.54" y2="322.73" stroke="#262626" stroke-width="0.7"/>
<line x1="180.95" y1="6.50" x2="180.95" y2="45.21" stroke="#ababab" stroke-width="0.7"/>
<line x1="180.95" y1="45.21" x2="180.95" y2="322.73" stroke="#262626" stroke-width="0.7"/>
<line x1="188.37" y1="6.50" x2="188.37" y2="45.21" stroke="#ababab" stroke-width="0.7"/>
<line x1="188.37" y1="45.21" x2="188.37" y2="322.73" stroke="#262626" stroke-width="0.7"/>
<line x1="195.78" y1="6.50" x2="195.78" y2="45.21" stroke="#ababab" stroke-width="0.7"/>
<line x1="195.78" y1="45.21" x2="195.78" y2="322.73" stroke="#262626" stroke-width="0.7"/>
<line x1="203.19" y1="6.50" x2="203.19" y2="45.21" stroke="#ababab" stroke-width="0.7"/>
<line x1="203.19" y1="45.21" x2="203.19" y2="322.73" stroke="#262626" stroke-width="0.7"/>
<line x1="210.60" y1="6.50" x2="210.60" y2="45.21" stroke="#ababab" stroke-width="0.7"/>
<line x1="210.60" y1="45.21" x2="210.60" y2="322.73" stroke="#262626" stroke-width="0.7"/>
<line x1="218.02" y1="6.50" x2="218.02" y2="45.21" stroke="#ababab" stroke-width="0.7"/>
<line x1="218.02" y1="45.21" x2="218.02" y2="322.73" stroke="#262626" stroke-width="0.7"/>
<line x1="225.43" y1="6.50" x2="225.43" y2="45.21" stroke="#ababab" stroke-width="0.7"/>
<line x1="225.43" y1="45.21" x2="225.43" y2="322.73" stroke="#262626" stroke-width="0.7"/>
<line x1="232.84" y1="6.50" x2="232.84" y2="45.21" stroke="#ababab" stroke-width="0.7"/>
<line x1="232.84" y1="45.21" x2="232.84" y2="322.73" stroke="#262626" stroke-width="0.7"/>
<line x1="240.26" y1="6.50" x2="240.26" y2="45.21" stroke="#ababab" stroke-width="0.7"/>
<line x1="240.26" y1="45.21" x2="240.26" y2="322.73" stroke="#262626" stroke-width="0.7"/>
<line x1="247.67" y1="6.50" x2="247.67" y2="45.21" stroke="#ababab" stroke-width="0.7"/>
<line x1="247.67" y1="45.21" x2="247.67" y2="322.73" stroke="#262626" stroke-width="0.7"/>
<line x1="255.08" y1="6.50" x2="255.08" y2="45.21" stroke="#ababab" stroke-width="0.7"/>
<line x1="255.08" y1="45.21" x2="255.08" y2="322.73" stroke="#262626" stroke-width="0.7"/>
<line x1="262.50" y1="6.50" x2="262.50" y2="45.21" stroke="#ababab" stroke-width="0.7"/>
<line x1="262.50" y1="45.21" x2="262.50" y2="322.73" stroke="#262626" stroke-width="0.7"/>
<rect x="287.29" y="11.70" width="3.40" height="13.10" fill="#efdcc6"/>
<rect x="294.26" y="11.70" width="3.40" height="13.10" fill="#efdcc6"/>
<rect x="301.23" y="11.70" width="3.40" height="13.10" fill="#efdcc6"/>
<rect x="308.21" y="11.70" width="3.40" height="13.10" fill="#dfe5ee"/>
<rect x="315.18" y="11.70" width="3.40" height="13.10" fill="#dfe5ee"/>
<rect x="322.15" y="11.70" width="3.40" height="13.10" fill="#efdcc6"/>
<rect x="329.12" y="11.70" width="3.40" height="13.10" fill="#efdcc6"/>
<rect x="336.10" y="11.70" width="3.40" height="13.10" fill="#efdcc6"/>
<rect x="343.07" y="11.70" width="3.40" height="13.10" fill="#efdcc6"/>
<rect x="350.04" y="11.70" width="3.40" height="13.10" fill="#dfe5ee"/>
<rect x="357.02" y="11.70" width="3.40" height="13.10" fill="#dfe5ee"/>
<rect x="363.99" y="11.70" width="3.40" height="13.10" fill="#efdcc6"/>
<rect x="370.96" y="11.70" width="3.40" height="13.10" fill="#efdcc6"/>
<rect x="377.94" y="11.70" width="3.40" height="13.10" fill="#efdcc6"/>
<rect x="384.91" y="11.70" width="3.40" height="13.10" fill="#efdcc6"/>
<rect x="284.80" y="43.11" width="6.97" height="4.89" fill="#6a2fb8"/>
<rect x="291.77" y="43.11" width="6.97" height="4.89" fill="#6a2fb8"/>
<rect x="298.75" y="43.11" width="6.97" height="4.89" fill="#6a2fb8"/>
<rect x="305.72" y="43.11" width="6.97" height="4.89" fill="#6a2fb8"/>
<rect x="312.69" y="43.11" width="6.97" height="4.89" fill="#6a2fb8"/>
<rect x="319.67" y="43.11" width="6.97" height="4.89" fill="#6a2fb8"/>
<rect x="326.64" y="43.11" width="6.97" height="4.89" fill="#6a2fb8"/>
<rect x="333.61" y="43.11" width="6.97" height="4.89" fill="#6a2fb8"/>
<rect x="340.58" y="43.11" width="6.97" height="4.89" fill="#6a2fb8"/>
<rect x="347.56" y="43.11" width="6.97" height="4.89" fill="#6a2fb8"/>
<rect x="354.53" y="43.11" width="6.97" height="4.89" fill="#6a2fb8"/>
<rect x="361.50" y="43.11" width="6.97" height="4.89" fill="#6a2fb8"/>
<rect x="368.48" y="43.11" width="6.97" height="4.89" fill="#6a2fb8"/>
<rect x="375.45" y="43.11" width="6.97" height="4.89" fill="#6a2fb8"/>
<rect x="382.42" y="43.11" width="6.97" height="4.89" fill="#6a2fb8"/>
<rect x="284.80" y="57.81" width="6.97" height="4.97" fill="#edbd32"/>
<rect x="291.77" y="57.81" width="6.97" height="4.97" fill="#edbd32"/>
<rect x="298.75" y="57.81" width="6.97" height="4.97" fill="#edbd32"/>
<rect x="305.72" y="57.81" width="6.97" height="4.97" fill="#edbd32"/>
<rect x="312.69" y="57.81" width="6.97" height="4.97" fill="#edbd32"/>
<rect x="319.67" y="57.81" width="6.97" height="4.97" fill="#edbd32"/>
<rect x="326.64" y="57.81" width="6.97" height="4.97" fill="#edbd32"/>
<rect x="333.61" y="57.81" width="6.97" height="4.97" fill="#edbd32"/>
<rect x="340.58" y="57.81" width="6.97" height="4.97" fill="#edbd32"/>
<rect x="347.56" y="57.81" width="6.97" height="4.97" fill="#edbd32"/>
<rect x="354.53" y="57.81" width="6.97" height="4.97" fill="#5ab354"/>
<rect x="361.50" y="57.81" width="6.97" height="4.97" fill="#edbd32"/>
<rect x="368.48" y="57.81" width="6.97" height="4.97" fill="#6a2fb8"/>
<rect x="375.45" y="57.81" width="6.97" height="4.97" fill="#6a2fb8"/>
<rect x="382.42" y="57.81" width="6.97" height="4.97" fill="#edbd32"/>
<rect x="284.80" y="62.78" width="6.97" height="5.03" fill="#5ab354"/>
<rect x="291.77" y="62.78" width="6.97" height="5.03" fill="#5ab354"/>
<rect x="298.75" y="62.78" width="6.97" height="5.03" fill="#5ab354"/>
<rect x="305.72" y="62.78" width="6.97" height="5.03" fill="#5ab354"/>
<rect x="312.69" y="62.78" width="6.97" height="5.03" fill="#5ab354"/>
<rect x="319.67" y="62.78" width="6.97" height="5.03" fill="#edbd32"/>
<rect x="326.64" y="62.78" width="6.97" height="5.03" fill="#edbd32"/>
<rect x="333.61" y="62.78" width="6.97" height="5.03" fill="#edbd32"/>
<rect x="340.58" y="62.78" width="6.97" height="5.03" fill="#edbd32"/>
<rect x="347.56" y="62.78" width="6.97" height="5.03" fill="#5ab354"/>
<rect x="354.53" y="62.78" width="6.97" height="5.03" fill="#5ab354"/>
<rect x="361.50" y="62.78" width="6.97" height="5.03" fill="#5ab354"/>
<rect x="368.48" y="62.78" width="6.97" height="5.03" fill="#6a2fb8"/>
<rect x="375.45" y="62.78" width="6.97" height="5.03" fill="#6a2fb8"/>
<rect x="382.42" y="62.78" width="6.97" height="5.03" fill="#edbd32"/>
<rect x="284.80" y="67.82" width="6.97" height="5.07" fill="#edbd32"/>
<rect x="291.77" y="67.82" width="6.97" height="5.07" fill="#edbd32"/>
<rect x="298.75" y="67.82" width="6.97" height="5.07" fill="#edbd32"/>
<rect x="305.72" y="67.82" width="6.97" height="5.07" fill="#5ab354"/>
<rect x="312.69" y="67.82" width="6.97" height="5.07" fill="#5ab354"/>
<rect x="319.67" y="67.82" width="6.97" height="5.07" fill="#edbd32"/>
<rect x="326.64" y="67.82" width="6.97" height="5.07" fill="#edbd32"/>
<rect x="333.61" y="67.82" width="6.97" height="5.07" fill="#edbd32"/>
<rect x="340.58" y="67.82" width="6.97" height="5.07" fill="#edbd32"/>
<rect x="347.56" y="67.82" width="6.97" height="5.07" fill="#5ab354"/>
<rect x="354.53" y="67.82" width="6.97" height="5.07" fill="#5ab354"/>
<rect x="361.50" y="67.82" width="6.97" height="5.07" fill="#edbd32"/>
<rect x="368.48" y="67.82" width="6.97" height="5.07" fill="#6a2fb8"/>
<rect x="375.45" y="67.82" width="6.97" height="5.07" fill="#6a2fb8"/>
<rect x="382.42" y="67.82" width="6.97" height="5.07" fill="#f8f240"/>
<rect x="284.80" y="72.89" width="6.97" height="5.10" fill="#5ab354"/>
<rect x="291.77" y="72.89" width="6.97" height="5.10" fill="#5ab354"/>
<rect x="298.75" y="72.89" width="6.97" height="5.10" fill="#5ab354"/>
<rect x="305.72" y="72.89" width="6.97" height="5.10" fill="#5ab354"/>
<rect x="312.69" y="72.89" width="6.97" height="5.10" fill="#5ab354"/>
<rect x="319.67" y="72.89" width="6.97" height="5.10" fill="#5ab354"/>
<rect x="326.64" y="72.89" width="6.97" height="5.10" fill="#5ab354"/>
<rect x="333.61" y="72.89" width="6.97" height="5.10" fill="#5ab354"/>
<rect x="340.58" y="72.89" width="6.97" height="5.10" fill="#5ab354"/>
<rect x="347.56" y="72.89" width="6.97" height="5.10" fill="#5ab354"/>
<rect x="354.53" y="72.89" width="6.97" height="5.10" fill="#5ab354"/>
<rect x="361.50" y="72.89" width="6.97" height="5.10" fill="#5ab354"/>
<rect x="368.48" y="72.89" width="6.97" height="5.10" fill="#6a2fb8"/>
<rect x="375.45" y="72.89" width="6.97" height="5.10" fill="#6a2fb8"/>
<rect x="382.42" y="72.89" width="6.97" height="5.10" fill="#5ab354"/>
<rect x="284.80" y="77.99" width="6.97" height="5.13" fill="#5ab354"/>
<rect x="291.77" y="77.99" width="6.97" height="5.13" fill="#5ab354"/>
<rect x="298.75" y="77.99" width="6.97" height="5.13" fill="#5ab354"/>
<rect x="305.72" y="77.99" width="6.97" height="5.13" fill="#5ab354"/>
<rect x="312.69" y="77.99" width="6.97" height="5.13" fill="#5ab354"/>
<rect x="319.67" y="77.99" width="6.97" height="5.13" fill="#edbd32"/>
<rect x="326.64" y="77.99" width="6.97" height="5.13" fill="#edbd32"/>
<rect x="333.61" y="77.99" width="6.97" height="5.13" fill="#edbd32"/>
<rect x="340.58" y="77.99" width="6.97" height="5.13" fill="#edbd32"/>
<rect x="347.56" y="77.99" width="6.97" height="5.13" fill="#5ab354"/>
<rect x="354.53" y="77.99" width="6.97" height="5.13" fill="#5ab354"/>
<rect x="361.50" y="77.99" width="6.97" height="5.13" fill="#5ab354"/>
<rect x="368.48" y="77.99" width="6.97" height="5.13" fill="#6a2fb8"/>
<rect x="375.45" y="77.99" width="6.97" height="5.13" fill="#6a2fb8"/>
<rect x="382.42" y="77.99" width="6.97" height="5.13" fill="#edbd32"/>
<rect x="284.80" y="83.12" width="6.97" height="5.16" fill="#4470c8"/>
<rect x="291.77" y="83.12" width="6.97" height="5.16" fill="#4470c8"/>
<rect x="298.75" y="83.12" width="6.97" height="5.16" fill="#4470c8"/>
<rect x="305.72" y="83.12" width="6.97" height="5.16" fill="#edbd32"/>
<rect x="312.69" y="83.12" width="6.97" height="5.16" fill="#edbd32"/>
<rect x="319.67" y="83.12" width="6.97" height="5.16" fill="#4470c8"/>
<rect x="326.64" y="83.12" width="6.97" height="5.16" fill="#4470c8"/>
<rect x="333.61" y="83.12" width="6.97" height="5.16" fill="#4470c8"/>
<rect x="340.58" y="83.12" width="6.97" height="5.16" fill="#4470c8"/>
<rect x="347.56" y="83.12" width="6.97" height="5.16" fill="#f8f240"/>
<rect x="354.53" y="83.12" width="6.97" height="5.16" fill="#edbd32"/>
<rect x="361.50" y="83.12" width="6.97" height="5.16" fill="#6a2fb8"/>
<rect x="368.48" y="83.12" width="6.97" height="5.16" fill="#6a2fb8"/>
<rect x="375.45" y="83.12" width="6.97" height="5.16" fill="#6a2fb8"/>
<rect x="382.42" y="83.12" width="6.97" height="5.16" fill="#4470c8"/>
<rect x="284.80" y="88.28" width="6.97" height="5.19" fill="#5ab354"/>
<rect x="291.77" y="88.28" width="6.97" height="5.19" fill="#5ab354"/>
<rect x="298.75" y="88.28" width="6.97" height="5.19" fill="#edbd32"/>
<rect x="305.72" y="88.28" width="6.97" height="5.19" fill="#4470c8"/>
<rect x="312.69" y="88.28" width="6.97" height="5.19" fill="#4470c8"/>
<rect x="319.67" y="88.28" width="6.97" height="5.19" fill="#edbd32"/>
<rect x="326.64" y="88.28" width="6.97" height="5.19" fill="#edbd32"/>
<rect x="333.61" y="88.28" width="6.97" height="5.19" fill="#edbd32"/>
<rect x="340.58" y="88.28" width="6.97" height="5.19" fill="#edbd32"/>
<rect x="347.56" y="88.28" width="6.97" height="5.19" fill="#6a2fb8"/>
<rect x="354.53" y="88.28" width="6.97" height="5.19" fill="#4470c8"/>
<rect x="361.50" y="88.28" width="6.97" height="5.19" fill="#5ab354"/>
<rect x="368.48" y="88.28" width="6.97" height="5.19" fill="#6a2fb8"/>
<rect x="375.45" y="88.28" width="6.97" height="5.19" fill="#6a2fb8"/>
<rect x="382.42" y="88.28" width="6.97" height="5.19" fill="#edbd32"/>
<rect x="284.80" y="93.47" width="6.97" height="5.19" fill="#edbd32"/>
<rect x="291.77" y="93.47" width="6.97" height="5.19" fill="#edbd32"/>
<rect x="298.75" y="93.47" width="6.97" height="5.19" fill="#edbd32"/>
<rect x="305.72" y="93.47" width="6.97" height="5.19" fill="#5ab354"/>
<rect x="312.69" y="93.47" width="6.97" height="5.19" fill="#5ab354"/>
<rect x="319.67" y="93.47" width="6.97" height="5.19" fill="#edbd32"/>
<rect x="326.64" y="93.47" width="6.97" height="5.19" fill="#edbd32"/>
<rect x="333.61" y="93.47" width="6.97" height="5.19" fill="#edbd32"/>
<rect x="340.58" y="93.47" width="6.97" height="5.19" fill="#edbd32"/>
<rect x="347.56" y="93.47" width="6.97" height="5.19" fill="#5ab354"/>
<rect x="354.53" y="93.47" width="6.97" height="5.19" fill="#4470c8"/>
<rect x="361.50" y="93.47" width="6.97" height="5.19" fill="#edbd32"/>
<rect x="368.48" y="93.47" width="6.97" height="5.19" fill="#6a2fb8"/>
<rect x="375.45" y="93.47" width="6.97" height="5.19" fill="#6a2fb8"/>
<rect x="382.42" y="93.47" width="6.97" height="5.19" fill="#edbd32"/>
<rect x="284.80" y="98.66" width="6.97" height="5.16" fill="#4470c8"/>
<rect x="291.77" y="98.66" width="6.97" height="5.16" fill="#4470c8"/>
<rect x="298.75" y="98.66" width="6.97" height="5.16" fill="#4470c8"/>
<rect x="305.72" y="98.66" width="6.97" height="5.16" fill="#edbd32"/>
<rect x="312.69" y="98.66" width="6.97" height="5.16" fill="#edbd32"/>
<rect x="319.67" y="98.66" width="6.97" height="5.16" fill="#4470c8"/>
<rect x="326.64" y="98.66" width="6.97" height="5.16" fill="#4470c8"/>
<rect x="333.61" y="98.66" width="6.97" height="5.16" fill="#4470c8"/>
<rect x="340.58" y="98.66" width="6.97" height="5.16" fill="#4470c8"/>
<rect x="347.56" y="98.66" width="6.97" height="5.16" fill="#edbd32"/>
<rect x="354.53" y="98.66" width="6.97" height="5.16" fill="#5ab354"/>
<rect x="361.50" y="98.66" width="6.97" height="5.16" fill="#4470c8"/>
<rect x="368.48" y="98.66" width="6.97" height="5.16" fill="#6a2fb8"/>
<rect x="375.45" y="98.66" width="6.97" height="5.16" fill="#6a2fb8"/>
<rect x="382.42" y="98.66" width="6.97" height="5.16" fill="#4470c8"/>
<rect x="284.80" y="103.82" width="6.97" height="5.11" fill="#edbd32"/>
<rect x="291.77" y="103.82" width="6.97" height="5.11" fill="#edbd32"/>
<rect x="298.75" y="103.82" width="6.97" height="5.11" fill="#edbd32"/>
<rect x="305.72" y="103.82" width="6.97" height="5.11" fill="#4470c8"/>
<rect x="312.69" y="103.82" width="6.97" height="5.11" fill="#4470c8"/>
<rect x="319.67" y="103.82" width="6.97" height="5.11" fill="#edbd32"/>
<rect x="326.64" y="103.82" width="6.97" height="5.11" fill="#edbd32"/>
<rect x="333.61" y="103.82" width="6.97" height="5.11" fill="#edbd32"/>
<rect x="340.58" y="103.82" width="6.97" height="5.11" fill="#edbd32"/>
<rect x="347.56" y="103.82" width="6.97" height="5.11" fill="#4470c8"/>
<rect x="354.53" y="103.82" width="6.97" height="5.11" fill="#4470c8"/>
<rect x="361.50" y="103.82" width="6.97" height="5.11" fill="#edbd32"/>
<rect x="368.48" y="103.82" width="6.97" height="5.11" fill="#6a2fb8"/>
<rect x="375.45" y="103.82" width="6.97" height="5.11" fill="#6a2fb8"/>
<rect x="382.42" y="103.82" width="6.97" height="5.11" fill="#f8f240"/>
<rect x="284.80" y="108.93" width="6.97" height="5.08" fill="#5ab354"/>
<rect x="291.77" y="108.93" width="6.97" height="5.08" fill="#5ab354"/>
<rect x="298.75" y="108.93" width="6.97" height="5.08" fill="#5ab354"/>
<rect x="305.72" y="108.93" width="6.97" height="5.08" fill="#edbd32"/>
<rect x="312.69" y="108.93" width="6.97" height="5.08" fill="#edbd32"/>
<rect x="319.67" y="108.93" width="6.97" height="5.08" fill="#5ab354"/>
<rect x="326.64" y="108.93" width="6.97" height="5.08" fill="#5ab354"/>
<rect x="333.61" y="108.93" width="6.97" height="5.08" fill="#5ab354"/>
<rect x="340.58" y="108.93" width="6.97" height="5.08" fill="#5ab354"/>
<rect x="347.56" y="108.93" width="6.97" height="5.08" fill="#edbd32"/>
<rect x="354.53" y="108.93" width="6.97" height="5.08" fill="#5ab354"/>
<rect x="361.50" y="108.93" width="6.97" height="5.08" fill="#5ab354"/>
<rect x="368.48" y="108.93" width="6.97" height="5.08" fill="#6a2fb8"/>
<rect x="375.45" y="108.93" width="6.97" height="5.08" fill="#6a2fb8"/>
<rect x="382.42" y="108.93" width="6.97" height="5.08" fill="#edbd32"/>
<rect x="284.80" y="114.02" width="6.97" height="5.08" fill="#5ab354"/>
<rect x="291.77" y="114.02" width="6.97" height="5.08" fill="#5ab354"/>
<rect x="298.75" y="114.02" width="6.97" height="5.08" fill="#5ab354"/>
<rect x="305.72" y="114.02" width="6.97" height="5.08" fill="#5ab354"/>
<rect x="312.69" y="114.02" width="6.97" height="5.08" fill="#5ab354"/>
<rect x="319.67" y="114.02" width="6.97" height="5.08" fill="#5ab354"/>
<rect x="326.64" y="114.02" width="6.97" height="5.08" fill="#5ab354"/>
<rect x="333.61" y="114.02" width="6.97" height="5.08" fill="#5ab354"/>
<rect x="340.58" y="114.02" width="6.97" height="5.08" fill="#5ab354"/>
<rect x="347.56" y="114.02" width="6.97" height="5.08" fill="#5ab354"/>
<rect x="354.53" y="114.02" width="6.97" height="5.08" fill="#5ab354"/>
<rect x="361.50" y="114.02" width="6.97" height="5.08" fill="#5ab354"/>
<rect x="368.48" y="114.02" width="6.97" height="5.08" fill="#6a2fb8"/>
<rect x="375.45" y="114.02" width="6.97" height="5.08" fill="#6a2fb8"/>
<rect x="382.42" y="114.02" width="6.97" height="5.08" fill="#5ab354"/>
<rect x="284.80" y="119.09" width="6.97" height="5.08" fill="#5ab354"/>
<rect x="291.77" y="119.09" width="6.97" height="5.08" fill="#5ab354"/>
<rect x="298.75" y="119.09" width="6.97" height="5.08" fill="#edbd32"/>
<rect x="305.72" y="119.09" width="6.97" height="5.08" fill="#5ab354"/>
<rect x="312.69" y="119.09" width="6.97" height="5.08" fill="#5ab354"/>
<rect x="319.67" y="119.09" width="6.97" height="5.08" fill="#edbd32"/>
<rect x="326.64" y="119.09" width="6.97" height="5.08" fill="#edbd32"/>
<rect x="333.61" y="119.09" width="6.97" height="5.08" fill="#edbd32"/>
<rect x="340.58" y="119.09" width="6.97" height="5.08" fill="#edbd32"/>
<rect x="347.56" y="119.09" width="6.97" height="5.08" fill="#5ab354"/>
<rect x="354.53" y="119.09" width="6.97" height="5.08" fill="#5ab354"/>
<rect x="361.50" y="119.09" width="6.97" height="5.08" fill="#5ab354"/>
<rect x="368.48" y="119.09" width="6.97" height="5.08" fill="#6a2fb8"/>
<rect x="375.45" y="119.09" width="6.97" height="5.08" fill="#6a2fb8"/>
<rect x="382.42" y="119.09" width="6.97" height="5.08" fill="#edbd32"/>
<rect x="284.80" y="124.17" width="6.97" height="5.08" fill="#5ab354"/>
<rect x="291.77" y="124.17" width="6.97" height="5.08" fill="#5ab354"/>
<rect x="298.75" y="124.17" width="6.97" height="5.08" fill="#5ab354"/>
<rect x="305.72" y="124.17" width="6.97" height="5.08" fill="#5ab354"/>
<rect x="312.69" y="124.17" width="6.97" height="5.08" fill="#5ab354"/>
<rect x="319.67" y="124.17" width="6.97" height="5.08" fill="#edbd32"/>
<rect x="326.64" y="124.17" width="6.97" height="5.08" fill="#edbd32"/>
<rect x="333.61" y="124.17" width="6.97" height="5.08" fill="#edbd32"/>
<rect x="340.58" y="124.17" width="6.97" height="5.08" fill="#edbd32"/>
<rect x="347.56" y="124.17" width="6.97" height="5.08" fill="#5ab354"/>
<rect x="354.53" y="124.17" width="6.97" height="5.08" fill="#5ab354"/>
<rect x="361.50" y="124.17" width="6.97" height="5.08" fill="#5ab354"/>
<rect x="368.48" y="124.17" width="6.97" height="5.08" fill="#6a2fb8"/>
<rect x="375.45" y="124.17" width="6.97" height="5.08" fill="#6a2fb8"/>
<rect x="382.42" y="124.17" width="6.97" height="5.08" fill="#edbd32"/>
<rect x="284.80" y="129.26" width="6.97" height="5.08" fill="#4470c8"/>
<rect x="291.77" y="129.26" width="6.97" height="5.08" fill="#6a2fb8"/>
<rect x="298.75" y="129.26" width="6.97" height="5.08" fill="#4470c8"/>
<rect x="305.72" y="129.26" width="6.97" height="5.08" fill="#5ab354"/>
<rect x="312.69" y="129.26" width="6.97" height="5.08" fill="#5ab354"/>
<rect x="319.67" y="129.26" width="6.97" height="5.08" fill="#4470c8"/>
<rect x="326.64" y="129.26" width="6.97" height="5.08" fill="#4470c8"/>
<rect x="333.61" y="129.26" width="6.97" height="5.08" fill="#4470c8"/>
<rect x="340.58" y="129.26" width="6.97" height="5.08" fill="#4470c8"/>
<rect x="347.56" y="129.26" width="6.97" height="5.08" fill="#5ab354"/>
<rect x="354.53" y="129.26" width="6.97" height="5.08" fill="#5ab354"/>
<rect x="361.50" y="129.26" width="6.97" height="5.08" fill="#6a2fb8"/>
<rect x="368.48" y="129.26" width="6.97" height="5.08" fill="#6a2fb8"/>
<rect x="375.45" y="129.26" width="6.97" height="5.08" fill="#6a2fb8"/>
<rect x="382.42" y="129.26" width="6.97" height="5.08" fill="#4470c8"/>
<rect x="284.80" y="134.34" width="6.97" height="5.06" fill="#6a2fb8"/>
<rect x="291.77" y="134.34" width="6.97" height="5.06" fill="#6a2fb8"/>
<rect x="298.75" y="134.34" width="6.97" height="5.06" fill="#6a2fb8"/>
<rect x="305.72" y="134.34" width="6.97" height="5.06" fill="#6a2fb8"/>
<rect x="312.69" y="134.34" width="6.97" height="5.06" fill="#6a2fb8"/>
<rect x="319.67" y="134.34" width="6.97" height="5.06" fill="#5ab354"/>
<rect x="326.64" y="134.34" width="6.97" height="5.06" fill="#5ab354"/>
<rect x="333.61" y="134.34" width="6.97" height="5.06" fill="#5ab354"/>
<rect x="340.58" y="134.34" width="6.97" height="5.06" fill="#5ab354"/>
<rect x="347.56" y="134.34" width="6.97" height="5.06" fill="#6a2fb8"/>
<rect x="354.53" y="134.34" width="6.97" height="5.06" fill="#6a2fb8"/>
<rect x="361.50" y="134.34" width="6.97" height="5.06" fill="#4470c8"/>
<rect x="368.48" y="134.34" width="6.97" height="5.06" fill="#6a2fb8"/>
<rect x="375.45" y="134.34" width="6.97" height="5.06" fill="#6a2fb8"/>
<rect x="382.42" y="134.34" width="6.97" height="5.06" fill="#5ab354"/>
<text x="288.29" y="10.12" font-size="3.04" fill="#222" text-anchor="middle" font-weight="bold">Sk</text>
<rect x="288.29" y="12.12" width="1.40" height="12.05" fill="#55463a" opacity="0.72"/>
<text x="290.07" y="38.53" font-size="3.0" fill="#2e2e2e" font-weight="bold" text-anchor="middle" textLength="7.75" lengthAdjust="spacingAndGlyphs" transform="rotate(-90 290.07 38.53)">sp01</text>
<text x="295.26" y="10.12" font-size="3.04" fill="#222" text-anchor="middle" font-weight="bold">Sk</text>
<rect x="295.26" y="12.12" width="1.40" height="12.05" fill="#55463a" opacity="0.72"/>
<text x="297.04" y="38.53" font-size="3.0" fill="#2e2e2e" font-weight="bold" text-anchor="middle" textLength="7.75" lengthAdjust="spacingAndGlyphs" transform="rotate(-90 297.04 38.53)">sp01</text>
<text x="302.23" y="10.12" font-size="3.04" fill="#222" text-anchor="middle" font-weight="bold">Sk</text>
<rect x="302.23" y="12.12" width="1.40" height="12.05" fill="#55463a" opacity="0.72"/>
<text x="304.01" y="38.53" font-size="3.0" fill="#2e2e2e" font-weight="bold" text-anchor="middle" textLength="7.75" lengthAdjust="spacingAndGlyphs" transform="rotate(-90 304.01 38.53)">sp01</text>
<text x="309.21" y="10.12" font-size="3.04" fill="#222" text-anchor="middle" font-weight="bold">Sk</text>
<rect x="309.21" y="12.12" width="1.40" height="12.05" fill="#55463a" opacity="0.72"/>
<text x="310.99" y="38.53" font-size="3.0" fill="#2e2e2e" font-weight="bold" text-anchor="middle" textLength="7.75" lengthAdjust="spacingAndGlyphs" transform="rotate(-90 310.99 38.53)">sp01</text>
<text x="316.18" y="10.12" font-size="3.04" fill="#222" text-anchor="middle" font-weight="bold">Sk</text>
<rect x="316.18" y="12.12" width="1.40" height="12.05" fill="#55463a" opacity="0.72"/>
<text x="317.96" y="38.53" font-size="3.0" fill="#2e2e2e" font-weight="bold" text-anchor="middle" textLength="7.75" lengthAdjust="spacingAndGlyphs" transform="rotate(-90 317.96 38.53)">sp01</text>
<text x="323.15" y="10.12" font-size="3.04" fill="#222" text-anchor="middle" font-weight="bold">Sk</text>
<rect x="323.15" y="12.12" width="1.40" height="12.05" fill="#55463a" opacity="0.72"/>
<text x="324.93" y="38.53" font-size="3.0" fill="#2e2e2e" font-weight="bold" text-anchor="middle" textLength="7.75" lengthAdjust="spacingAndGlyphs" transform="rotate(-90 324.93 38.53)">sp01</text>
<text x="330.12" y="10.12" font-size="3.04" fill="#222" text-anchor="middle" font-weight="bold">Sk</text>
<rect x="330.12" y="12.12" width="1.40" height="12.05" fill="#55463a" opacity="0.72"/>
<text x="331.90" y="38.53" font-size="3.0" fill="#2e2e2e" font-weight="bold" text-anchor="middle" textLength="7.75" lengthAdjust="spacingAndGlyphs" transform="rotate(-90 331.90 38.53)">sp01</text>
<text x="337.10" y="10.12" font-size="3.04" fill="#222" text-anchor="middle" font-weight="bold">Sk</text>
<rect x="337.10" y="12.12" width="1.40" height="12.05" fill="#55463a" opacity="0.72"/>
<text x="338.88" y="38.53" font-size="3.0" fill="#2e2e2e" font-weight="bold" text-anchor="middle" textLength="7.75" lengthAdjust="spacingAndGlyphs" transform="rotate(-90 338.88 38.53)">sp01</text>
<text x="344.07" y="10.12" font-size="3.04" fill="#222" text-anchor="middle" font-weight="bold">Sk</text>
<rect x="344.07" y="12.12" width="1.40" height="12.05" fill="#55463a" opacity="0.72"/>
<text x="345.85" y="38.53" font-size="3.0" fill="#2e2e2e" font-weight="bold" text-anchor="middle" textLength="7.75" lengthAdjust="spacingAndGlyphs" transform="rotate(-90 345.85 38.53)">sp01</text>
<text x="351.04" y="10.12" font-size="3.04" fill="#222" text-anchor="middle" font-weight="bold">Sk</text>
<rect x="351.04" y="12.12" width="1.40" height="12.05" fill="#55463a" opacity="0.72"/>
<text x="352.82" y="37.48" font-size="3.0" fill="#2e2e2e" font-weight="bold" text-anchor="middle" textLength="9.86" lengthAdjust="spacingAndGlyphs" transform="rotate(-90 352.82 37.48)">sp01</text>
<text x="358.02" y="10.12" font-size="3.04" fill="#222" text-anchor="middle" font-weight="bold">Sk</text>
<rect x="358.02" y="12.12" width="1.40" height="12.05" fill="#55463a" opacity="0.72"/>
<text x="359.80" y="38.53" font-size="3.0" fill="#2e2e2e" font-weight="bold" text-anchor="middle" textLength="7.75" lengthAdjust="spacingAndGlyphs" transform="rotate(-90 359.80 38.53)">sp01</text>
<text x="364.99" y="10.12" font-size="3.04" fill="#222" text-anchor="middle" font-weight="bold">Sk</text>
<rect x="364.99" y="12.12" width="1.40" height="12.05" fill="#55463a" opacity="0.72"/>
<text x="366.77" y="37.48" font-size="3.0" fill="#2e2e2e" font-weight="bold" text-anchor="middle" textLength="9.86" lengthAdjust="spacingAndGlyphs" transform="rotate(-90 366.77 37.48)">sp01</text>
<text x="371.96" y="10.12" font-size="3.04" fill="#222" text-anchor="middle" font-weight="bold">Sk</text>
<rect x="371.96" y="12.12" width="1.40" height="12.05" fill="#55463a" opacity="0.72"/>
<text x="373.74" y="38.53" font-size="3.0" fill="#2e2e2e" font-weight="bold" text-anchor="middle" textLength="7.75" lengthAdjust="spacingAndGlyphs" transform="rotate(-90 373.74 38.53)">sp01</text>
<text x="378.94" y="10.12" font-size="3.04" fill="#222" text-anchor="middle" font-weight="bold">Sk</text>
<rect x="378.94" y="12.12" width="1.40" height="12.05" fill="#55463a" opacity="0.72"/>
<text x="380.72" y="38.53" font-size="3.0" fill="#2e2e2e" font-weight="bold" text-anchor="middle" textLength="7.75" lengthAdjust="spacingAndGlyphs" transform="rotate(-90 380.72 38.53)">sp01</text>
<text x="385.91" y="10.12" font-size="3.04" fill="#222" text-anchor="middle" font-weight="bold">Sk</text>
<rect x="385.91" y="12.12" width="1.40" height="12.05" fill="#55463a" opacity="0.72"/>
<text x="387.69" y="38.53" font-size="3.0" fill="#2e2e2e" font-weight="bold" text-anchor="middle" textLength="7.75" lengthAdjust="spacingAndGlyphs" transform="rotate(-90 387.69 38.53)">sp01</text>
<text x="275.50" y="10.04" font-size="2.60" fill="#333" text-anchor="middle" font-weight="normal" textLength="13.95" lengthAdjust="spacingAndGlyphs">HLA-C allele</text>
<text x="283.37" y="21.20" font-size="2.7" fill="#222" font-weight="bold" text-anchor="middle" textLength="6.80" lengthAdjust="spacingAndGlyphs" transform="rotate(-90 283.37 21.20)">ppt ID</text>
<text x="283.37" y="35.75" font-size="2.7" fill="#222" font-weight="bold" text-anchor="middle" textLength="9.90" lengthAdjust="spacingAndGlyphs" transform="rotate(-90 283.37 35.75)">sample type</text>
<text x="288.29" y="46.63" font-size="2.69" fill="#c9b8e8" text-anchor="middle" font-weight="normal">sl</text>
<text x="295.26" y="46.63" font-size="2.69" fill="#c9b8e8" text-anchor="middle" font-weight="normal">sl</text>
<text x="302.23" y="46.63" font-size="2.69" fill="#c9b8e8" text-anchor="middle" font-weight="normal">sl</text>
<text x="309.21" y="46.63" font-size="2.69" fill="#c9b8e8" text-anchor="middle" font-weight="normal">sl</text>
<text x="316.18" y="46.63" font-size="2.69" fill="#c9b8e8" text-anchor="middle" font-weight="normal">sl</text>
<text x="323.15" y="46.63" font-size="2.69" fill="#c9b8e8" text-anchor="middle" font-weight="normal">sl</text>
<text x="330.12" y="46.63" font-size="2.69" fill="#c9b8e8" text-anchor="middle" font-weight="normal">sl</text>
<text x="337.10" y="46.63" font-size="2.69" fill="#c9b8e8" text-anchor="middle" font-weight="normal">sl</text>
<text x="344.07" y="46.63" font-size="2.69" fill="#c9b8e8" text-anchor="middle" font-weight="normal">sl</text>
<text x="351.04" y="46.63" font-size="2.69" fill="#c9b8e8" text-anchor="middle" font-weight="normal">sl</text>
<text x="358.02" y="46.63" font-size="2.69" fill="#c9b8e8" text-anchor="middle" font-weight="normal">sl</text>
<text x="364.99" y="46.63" font-size="2.69" fill="#c9b8e8" text-anchor="middle" font-weight="normal">sl</text>
<text x="371.96" y="46.63" font-size="2.69" fill="#c9b8e8" text-anchor="middle" font-weight="normal">sl</text>
<text x="378.94" y="46.63" font-size="2.69" fill="#c9b8e8" text-anchor="middle" font-weight="normal">sl</text>
<text x="385.91" y="46.63" font-size="2.69" fill="#c9b8e8" text-anchor="middle" font-weight="normal">sl</text>
<rect x="371.06" y="59.30" width="1.80" height="1.99" fill="#d9ccf2" opacity="0.75"/>
<rect x="371.06" y="64.29" width="1.80" height="2.01" fill="#d9ccf2" opacity="0.75"/>
<rect x="371.06" y="69.34" width="1.80" height="2.03" fill="#d9ccf2" opacity="0.75"/>
<rect x="371.06" y="74.42" width="1.80" height="2.04" fill="#d9ccf2" opacity="0.75"/>
<rect x="371.06" y="79.53" width="1.80" height="2.05" fill="#d9ccf2" opacity="0.75"/>
<rect x="371.06" y="89.84" width="1.80" height="2.08" fill="#d9ccf2" opacity="0.75"/>
<rect x="371.06" y="95.03" width="1.80" height="2.08" fill="#d9ccf2" opacity="0.75"/>
<rect x="371.06" y="100.21" width="1.80" height="2.06" fill="#d9ccf2" opacity="0.75"/>
<rect x="371.06" y="105.35" width="1.80" height="2.04" fill="#d9ccf2" opacity="0.75"/>
<rect x="371.06" y="115.54" width="1.80" height="2.03" fill="#d9ccf2" opacity="0.75"/>
<rect x="371.06" y="120.62" width="1.80" height="2.03" fill="#d9ccf2" opacity="0.75"/>
<rect x="371.06" y="125.70" width="1.80" height="2.03" fill="#d9ccf2" opacity="0.75"/>
<rect x="371.06" y="130.78" width="1.80" height="2.03" fill="#d9ccf2" opacity="0.75"/>
<rect x="378.04" y="105.35" width="1.80" height="2.04" fill="#d9ccf2" opacity="0.75"/>
<rect x="350.14" y="89.84" width="1.80" height="2.08" fill="#d9ccf2" opacity="0.75"/>
<rect x="287.39" y="135.86" width="1.80" height="2.02" fill="#d9ccf2" opacity="0.75"/>
<rect x="294.36" y="135.86" width="1.80" height="2.02" fill="#d9ccf2" opacity="0.75"/>
<rect x="301.33" y="135.86" width="1.80" height="2.02" fill="#d9ccf2" opacity="0.75"/>
<rect x="308.31" y="135.86" width="1.80" height="2.02" fill="#d9ccf2" opacity="0.75"/>
<rect x="315.28" y="135.86" width="1.80" height="2.02" fill="#d9ccf2" opacity="0.75"/>
<rect x="350.14" y="135.86" width="1.80" height="2.02" fill="#d9ccf2" opacity="0.75"/>
<rect x="357.12" y="135.86" width="1.80" height="2.02" fill="#d9ccf2" opacity="0.75"/>
<text x="267.60" y="47.12" font-size="4.16" fill="#3a3a3a" text-anchor="start" font-weight="normal" textLength="9.93" lengthAdjust="spacingAndGlyphs">HLA-E</text>
<text x="267.60" y="52.01" font-size="4.16" fill="#3a3a3a" text-anchor="start" font-weight="normal" textLength="9.93" lengthAdjust="spacingAndGlyphs">HLA-F</text>
<text x="267.60" y="56.92" font-size="4.18" fill="#3a3a3a" text-anchor="start" font-weight="normal" textLength="9.93" lengthAdjust="spacingAndGlyphs">HLA-G</text>
<text x="267.60" y="61.89" font-size="4.23" fill="#3a3a3a" text-anchor="start" font-weight="normal" textLength="13.90" lengthAdjust="spacingAndGlyphs">Cw*0102</text>
<text x="267.60" y="66.91" font-size="4.28" fill="#3a3a3a" text-anchor="start" font-weight="normal" textLength="13.90" lengthAdjust="spacingAndGlyphs">Cw*0202</text>
<text x="267.60" y="71.98" font-size="4.31" fill="#3a3a3a" text-anchor="start" font-weight="normal" textLength="13.90" lengthAdjust="spacingAndGlyphs">Cw*0303</text>
<text x="267.60" y="77.08" font-size="4.34" fill="#3a3a3a" text-anchor="start" font-weight="normal" textLength="13.90" lengthAdjust="spacingAndGlyphs">Cw*0304</text>
<text x="267.60" y="82.20" font-size="4.36" fill="#3a3a3a" text-anchor="start" font-weight="normal" textLength="13.90" lengthAdjust="spacingAndGlyphs">Cw*0401</text>
<text x="267.60" y="87.35" font-size="4.39" fill="#3a3a3a" text-anchor="start" font-weight="normal" textLength="13.90" lengthAdjust="spacingAndGlyphs">Cw*0501</text>
<text x="267.60" y="92.54" font-size="4.41" fill="#3a3a3a" text-anchor="start" font-weight="normal" textLength="13.90" lengthAdjust="spacingAndGlyphs">Cw*0602</text>
<text x="267.60" y="97.73" font-size="4.41" fill="#3a3a3a" text-anchor="start" font-weight="normal" textLength="13.90" lengthAdjust="spacingAndGlyphs">Cw*0701</text>
<text x="267.60" y="102.89" font-size="4.38" fill="#3a3a3a" text-anchor="start" font-weight="normal" textLength="13.90" lengthAdjust="spacingAndGlyphs">Cw*0702</text>
<text x="267.60" y="108.01" font-size="4.34" fill="#3a3a3a" text-anchor="start" font-weight="normal" textLength="13.90" lengthAdjust="spacingAndGlyphs">Cw*0801</text>
<text x="267.60" y="113.10" font-size="4.32" fill="#3a3a3a" text-anchor="start" font-weight="normal" textLength="13.90" lengthAdjust="spacingAndGlyphs">Cw*1203</text>
<text x="267.60" y="118.18" font-size="4.32" fill="#3a3a3a" text-anchor="start" font-weight="normal" textLength="13.90" lengthAdjust="spacingAndGlyphs">Cw*1402</text>
<text x="267.60" y="123.26" font-size="4.32" fill="#3a3a3a" text-anchor="start" font-weight="normal" textLength="13.90" lengthAdjust="spacingAndGlyphs">Cw*1502</text>
<text x="267.60" y="128.34" font-size="4.32" fill="#3a3a3a" text-anchor="start" font-weight="normal" textLength="13.90" lengthAdjust="spacingAndGlyphs">Cw*1601</text>
<text x="267.60" y="133.42" font-size="4.32" fill="#3a3a3a" text-anchor="start" font-weight="normal" textLength="13.90" lengthAdjust="spacingAndGlyphs">Cw*1701</text>
<text x="267.60" y="138.49" font-size="4.30" fill="#3a3a3a" text-anchor="start" font-weight="normal" textLength="13.90" lengthAdjust="spacingAndGlyphs">Cw*1802</text>
<text x="267.60" y="143.49" font-size="4.24" fill="#3a3a3a" text-anchor="start" font-weight="normal" textLength="13.90" lengthAdjust="spacingAndGlyphs">Total (16)</text>
<text x="288.29" y="143.39" font-size="3.10" fill="#666" text-anchor="middle" font-weight="normal">16</text>
<text x="295.26" y="143.39" font-size="3.10" fill="#666" text-anchor="middle" font-weight="normal">16</text>
<text x="302.23" y="143.39" font-size="3.10" fill="#666" text-anchor="middle" font-weight="normal">16</text>
<text x="309.21" y="143.39" font-size="3.10" fill="#666" text-anchor="middle" font-weight="normal">16</text>
<text x="316.18" y="143.39" font-size="3.10" fill="#666" text-anchor="middle" font-weight="normal">16</text>
<text x="323.15" y="143.39" font-size="3.10" fill="#666" text-anchor="middle" font-weight="normal">16</text>
<text x="330.12" y="143.39" font-size="3.10" fill="#666" text-anchor="middle" font-weight="normal">16</text>
<text x="337.10" y="143.39" font-size="3.10" fill="#666" text-anchor="middle" font-weight="normal">16</text>
<text x="344.07" y="143.39" font-size="3.10" fill="#666" text-anchor="middle" font-weight="normal">16</text>
<text x="351.04" y="143.39" font-size="3.10" fill="#666" text-anchor="middle" font-weight="normal">16</text>
<text x="358.02" y="143.39" font-size="3.10" fill="#666" text-anchor="middle" font-weight="normal">16</text>
<text x="364.99" y="143.39" font-size="3.10" fill="#666" text-anchor="middle" font-weight="normal">16</text>
<text x="371.96" y="143.39" font-size="3.10" fill="#666" text-anchor="middle" font-weight="normal">16</text>
<text x="378.94" y="143.39" font-size="3.10" fill="#666" text-anchor="middle" font-weight="normal">16</text>
<text x="385.91" y="143.39" font-size="3.10" fill="#666" text-anchor="middle" font-weight="normal">16</text>
<line x1="266.20" y1="43.11" x2="284.80" y2="43.11" stroke="#b4b4b4" stroke-width="0.7"/>
<line x1="284.80" y1="43.11" x2="389.39" y2="43.11" stroke="#262626" stroke-width="0.7"/>
<line x1="266.20" y1="48.00" x2="284.80" y2="48.00" stroke="#b4b4b4" stroke-width="0.7"/>
<line x1="284.80" y1="48.00" x2="389.39" y2="48.00" stroke="#262626" stroke-width="0.7"/>
<line x1="266.20" y1="52.89" x2="284.80" y2="52.89" stroke="#b4b4b4" stroke-width="0.7"/>
<line x1="284.80" y1="52.89" x2="389.39" y2="52.89" stroke="#8c8c8c" stroke-width="0.7"/>
<line x1="266.20" y1="57.81" x2="284.80" y2="57.81" stroke="#b4b4b4" stroke-width="0.7"/>
<line x1="284.80" y1="57.81" x2="389.39" y2="57.81" stroke="#262626" stroke-width="0.7"/>
<line x1="266.20" y1="62.78" x2="284.80" y2="62.78" stroke="#b4b4b4" stroke-width="0.7"/>
<line x1="284.80" y1="62.78" x2="389.39" y2="62.78" stroke="#262626" stroke-width="0.7"/>
<line x1="266.20" y1="67.82" x2="284.80" y2="67.82" stroke="#b4b4b4" stroke-width="0.7"/>
<line x1="284.80" y1="67.82" x2="389.39" y2="67.82" stroke="#262626" stroke-width="0.7"/>
<line x1="266.20" y1="72.89" x2="284.80" y2="72.89" stroke="#b4b4b4" stroke-width="0.7"/>
<line x1="284.80" y1="72.89" x2="389.39" y2="72.89" stroke="#262626" stroke-width="0.7"/>
<line x1="266.20" y1="77.99" x2="284.80" y2="77.99" stroke="#b4b4b4" stroke-width="0.7"/>
<line x1="284.80" y1="77.99" x2="389.39" y2="77.99" stroke="#262626" stroke-width="0.7"/>
<line x1="266.20" y1="83.12" x2="284.80" y2="83.12" stroke="#b4b4b4" stroke-width="0.7"/>
<line x1="284.80" y1="83.12" x2="389.39" y2="83.12" stroke="#262626" stroke-width="0.7"/>
<line x1="266.20" y1="88.28" x2="284.80" y2="88.28" stroke="#b4b4b4" stroke-width="0.7"/>
<line x1="284.80" y1="88.28" x2="389.39" y2="88.28" stroke="#262626" stroke-width="0.7"/>
<line x1="266.20" y1="93.47" x2="284.80" y2="93.47" stroke="#b4b4b4" stroke-width="0.7"/>
<line x1="284.80" y1="93.47" x2="389.39" y2="93.47" stroke="#262626" stroke-width="0.7"/>
<line x1="266.20" y1="98.66" x2="284.80" y2="98.66" stroke="#b4b4b4" stroke-width="0.7"/>
<line x1="284.80" y1="98.66" x2="389.39" y2="98.66" stroke="#262626" stroke-width="0.7"/>
<line x1="266.20" y1="103.82" x2="284.80" y2="103.82" stroke="#b4b4b4" stroke-width="0.7"/>
<line x1="284.80" y1="103.82" x2="389.39" y2="103.82" stroke="#262626" stroke-width="0.7"/>
<line x1="266.20" y1="108.93" x2="284.80" y2="108.93" stroke="#b4b4b4" stroke-width="0.7"/>
<line x1="284.80" y1="108.93" x2="389.39" y2="108.93" stroke="#262626" stroke-width="0.7"/>
<line x1="266.20" y1="114.02" x2="284.80" y2="114.02" stroke="#b4b4b4" stroke-width="0.7"/>
<line x1="284.80" y1="114.02" x2="389.39" y2="114.02" stroke="#262626" stroke-width="0.7"/>
<line x1="266.20" y1="119.09" x2="284.80" y2="119.09" stroke="#b4b4b4" stroke-width="0.7"/>
<line x1="284.80" y1="119.09" x2="389.39" y2="119.09" stroke="#262626" stroke-width="0.7"/>
<line x1="266.20" y1="124.17" x2="284.80" y2="124.17" stroke="#b4b4b4" stroke-width="0.7"/>
<line x1="284.80" y1="124.17" x2="389.39" y2="124.17" stroke="#262626" stroke-width="0.7"/>
<line x1="266.20" y1="129.26" x2="284.80" y2="129.26" stroke="#b4b4b4" stroke-width="0.7"/>
<line x1="284.80" y1="129.26" x2="389.39" y2="129.26" stroke="#262626" stroke-width="0.7"/>
<line x1="266.20" y1="134.34" x2="284.80" y2="134.34" stroke="#b4b4b4" stroke-width="0.7"/>
<line x1="284.80" y1="134.34" x2="389.39" y2="134.34" stroke="#262626" stroke-width="0.7"/>
<line x1="266.20" y1="139.40" x2="284.80" y2="139.40" stroke="#b4b4b4" stroke-width="0.7"/>
<line x1="284.80" y1="139.40" x2="389.39" y2="139.40" stroke="#262626" stroke-width="0.7"/>
<line x1="266.20" y1="144.39" x2="284.80" y2="144.39" stroke="#b4b4b4" stroke-width="0.7"/>
<line x1="284.80" y1="144.39" x2="389.39" y2="144.39" stroke="#8c8c8c" stroke-width="0.7"/>
<line x1="266.20" y1="7.00" x2="389.39" y2="7.00" stroke="#9a9a9a" stroke-width="0.7"/>
<line x1="266.20" y1="10.80" x2="389.39" y2="10.80" stroke="#9a9a9a" stroke-width="0.7"/>
<line x1="266.20" y1="25.50" x2="389.39" y2="25.50" stroke="#9a9a9a" stroke-width="0.7"/>
<line x1="266.20" y1="7.00" x2="266.20" y2="144.39" stroke="#b4b4b4" stroke-width="0.7"/>
<line x1="284.80" y1="7.00" x2="284.80" y2="43.11" stroke="#ababab" stroke-width="0.7"/>
<line x1="284.80" y1="43.11" x2="284.80" y2="144.39" stroke="#262626" stroke-width="0.7"/>
<line x1="291.77" y1="7.00" x2="291.77" y2="43.11" stroke="#ababab" stroke-width="0.7"/>
<line x1="291.77" y1="43.11" x2="291.77" y2="144.39" stroke="#262626" stroke-width="0.7"/>
<line x1="298.75" y1="7.00" x2="298.75" y2="43.11" stroke="#ababab" stroke-width="0.7"/>
<line x1="298.75" y1="43.11" x2="298.75" y2="144.39" stroke="#262626" stroke-width="0.7"/>
<line x1="305.72" y1="7.00" x2="305.72" y2="43.11" stroke="#ababab" stroke-width="0.7"/>
<line x1="305.72" y1="43.11" x2="305.72" y2="144.39" stroke="#262626" stroke-width="0.7"/>
<line x1="312.69" y1="7.00" x2="312.69" y2="43.11" stroke="#ababab" stroke-width="0.7"/>
<line x1="312.69" y1="43.11" x2="312.69" y2="144.39" stroke="#262626" stroke-width="0.7"/>
<line x1="319.67" y1="7.00" x2="319.67" y2="43.11" stroke="#ababab" stroke-width="0.7"/>
<line x1="319.67" y1="43.11" x2="319.67" y2="144.39" stroke="#262626" stroke-width="0.7"/>
<line x1="326.64" y1="7.00" x2="326.64" y2="43.11" stroke="#ababab" stroke-width="0.7"/>
<line x1="326.64" y1="43.11" x2="326.64" y2="144.39" stroke="#262626" stroke-width="0.7"/>
<line x1="333.61" y1="7.00" x2="333.61" y2="43.11" stroke="#ababab" stroke-width="0.7"/>
<line x1="333.61" y1="43.11" x2="333.61" y2="144.39" stroke="#262626" stroke-width="0.7"/>
<line x1="340.58" y1="7.00" x2="340.58" y2="43.11" stroke="#ababab" stroke-width="0.7"/>
<line x1="340.58" y1="43.11" x2="340.58" y2="144.39" stroke="#262626" stroke-width="0.7"/>
<line x1="347.56" y1="7.00" x2="347.56" y2="43.11" stroke="#ababab" stroke-width="0.7"/>
<line x1="347.56" y1="43.11" x2="347.56" y2="144.39" stroke="#262626" stroke-width="0.7"/>
<line x1="354.53" y1="7.00" x2="354.53" y2="43.11" stroke="#ababab" stroke-width="0.7"/>
<line x1="354.53" y1="43.11" x2="354.53" y2="144.39" stroke="#262626" stroke-width="0.7"/>
<line x1="361.50" y1="7.00" x2="361.50" y2="43.11" stroke="#ababab" stroke-width="0.7"/>
<line x1="361.50" y1="43.11" x2="361.50" y2="144.39" stroke="#262626" stroke-width="0.7"/>
<line x1="368.48" y1="7.00" x2="368.48" y2="43.11" stroke="#ababab" stroke-width="0.7"/>
<line x1="368.48" y1="43.11" x2="368.48" y2="144.39" stroke="#262626" stroke-width="0.7"/>
<line x1="375.45" y1="7.00" x2="375.45" y2="43.11" stroke="#ababab" stroke-width="0.7"/>
<line x1="375.45" y1="43.11" x2="375.45" y2="144.39" stroke="#262626" stroke-width="0.7"/>
<line x1="382.42" y1="7.00" x2="382.42" y2="43.11" stroke="#ababab" stroke-width="0.7"/>
<line x1="382.42" y1="43.11" x2="382.42" y2="144.39" stroke="#262626" stroke-width="0.7"/>
<line x1="389.39" y1="7.00" x2="389.39" y2="43.11" stroke="#ababab" stroke-width="0.7"/>
<line x1="389.39" y1="43.11" x2="389.39" y2="144.39" stroke="#262626" stroke-width="0.7"/>
<rect x="410.08" y="18.00" width="4.60" height="13.00" fill="#dfe5ee"/>
<rect x="415.64" y="18.00" width="4.60" height="13.00" fill="#efdcc6"/>
<rect x="421.20" y="18.00" width="4.60" height="13.00" fill="#dfe5ee"/>
<rect x="426.76" y="18.00" width="4.60" height="13.00" fill="#efdcc6"/>
<rect x="432.32" y="18.00" width="4.60" height="13.00" fill="#efdcc6"/>
<rect x="409.60" y="48.30" width="5.56" height="4.03" fill="#6a2fb8"/>
<rect x="415.16" y="48.30" width="5.56" height="4.03" fill="#6a2fb8"/>
<rect x="420.72" y="48.30" width="5.56" height="4.03" fill="#6a2fb8"/>
<rect x="426.28" y="48.30" width="5.56" height="4.03" fill="#6a2fb8"/>
<rect x="431.84" y="48.30" width="5.56" height="4.03" fill="#6a2fb8"/>
<rect x="409.60" y="52.32" width="5.56" height="3.99" fill="#6a2fb8"/>
<rect x="415.16" y="52.32" width="5.56" height="3.99" fill="#6a2fb8"/>
<rect x="420.72" y="52.32" width="5.56" height="3.99" fill="#6a2fb8"/>
<rect x="426.28" y="52.32" width="5.56" height="3.99" fill="#5ab354"/>
<rect x="431.84" y="52.32" width="5.56" height="3.99" fill="#4470c8"/>
<rect x="409.60" y="56.31" width="5.56" height="3.94" fill="#4470c8"/>
<rect x="415.16" y="56.31" width="5.56" height="3.94" fill="#f8f240"/>
<rect x="420.72" y="56.31" width="5.56" height="3.94" fill="#5ab354"/>
<rect x="426.28" y="56.31" width="5.56" height="3.94" fill="#6a2fb8"/>
<rect x="431.84" y="56.31" width="5.56" height="3.94" fill="#6a2fb8"/>
<rect x="409.60" y="60.25" width="5.56" height="3.90" fill="#5ab354"/>
<rect x="420.72" y="60.25" width="5.56" height="3.90" fill="#edbd32"/>
<rect x="426.28" y="60.25" width="5.56" height="3.90" fill="#f8f240"/>
<rect x="431.84" y="60.25" width="5.56" height="3.90" fill="#f8f240"/>
<rect x="409.60" y="64.15" width="5.56" height="3.86" fill="#f8f240"/>
<rect x="409.60" y="68.01" width="5.56" height="3.83" fill="#edbd32"/>
<rect x="415.16" y="68.01" width="5.56" height="3.83" fill="#5ab354"/>
<rect x="409.60" y="71.83" width="5.56" height="3.81" fill="#edbd32"/>
<rect x="415.16" y="71.83" width="5.56" height="3.81" fill="#5ab354"/>
<rect x="420.72" y="71.83" width="5.56" height="3.81" fill="#f8f240"/>
<rect x="409.60" y="75.64" width="5.56" height="3.79" fill="#f8f240"/>
<rect x="415.16" y="75.64" width="5.56" height="3.79" fill="#4470c8"/>
<rect x="420.72" y="75.64" width="5.56" height="3.79" fill="#f8f240"/>
<rect x="426.28" y="75.64" width="5.56" height="3.79" fill="#f8f240"/>
<rect x="431.84" y="75.64" width="5.56" height="3.79" fill="#f8f240"/>
<rect x="409.60" y="79.43" width="5.56" height="3.79" fill="#6a2fb8"/>
<rect x="415.16" y="79.43" width="5.56" height="3.79" fill="#6a2fb8"/>
<rect x="420.72" y="79.43" width="5.56" height="3.79" fill="#4470c8"/>
<rect x="426.28" y="79.43" width="5.56" height="3.79" fill="#5ab354"/>
<rect x="431.84" y="79.43" width="5.56" height="3.79" fill="#5ab354"/>
<rect x="409.60" y="83.22" width="5.56" height="3.79" fill="#f8f240"/>
<rect x="415.16" y="83.22" width="5.56" height="3.79" fill="#edbd32"/>
<rect x="420.72" y="83.22" width="5.56" height="3.79" fill="#f8f240"/>
<rect x="409.60" y="87.00" width="5.56" height="3.79" fill="#f8f240"/>
<rect x="415.16" y="87.00" width="5.56" height="3.79" fill="#4470c8"/>
<rect x="409.60" y="90.79" width="5.56" height="3.79" fill="#5ab354"/>
<rect x="415.16" y="90.79" width="5.56" height="3.79" fill="#6a2fb8"/>
<rect x="420.72" y="90.79" width="5.56" height="3.79" fill="#5ab354"/>
<rect x="426.28" y="90.79" width="5.56" height="3.79" fill="#edbd32"/>
<rect x="431.84" y="90.79" width="5.56" height="3.79" fill="#edbd32"/>
<rect x="409.60" y="94.59" width="5.56" height="3.80" fill="#5ab354"/>
<rect x="415.16" y="94.59" width="5.56" height="3.80" fill="#6a2fb8"/>
<rect x="420.72" y="94.59" width="5.56" height="3.80" fill="#edbd32"/>
<rect x="426.28" y="94.59" width="5.56" height="3.80" fill="#edbd32"/>
<rect x="431.84" y="94.59" width="5.56" height="3.80" fill="#edbd32"/>
<rect x="409.60" y="98.38" width="5.56" height="3.80" fill="#edbd32"/>
<rect x="415.16" y="98.38" width="5.56" height="3.80" fill="#f8f240"/>
<rect x="420.72" y="98.38" width="5.56" height="3.80" fill="#f8f240"/>
<rect x="409.60" y="102.19" width="5.56" height="3.80" fill="#5ab354"/>
<rect x="415.16" y="102.19" width="5.56" height="3.80" fill="#edbd32"/>
<rect x="420.72" y="102.19" width="5.56" height="3.80" fill="#edbd32"/>
<rect x="426.28" y="102.19" width="5.56" height="3.80" fill="#5ab354"/>
<rect x="431.84" y="102.19" width="5.56" height="3.80" fill="#5ab354"/>
<rect x="409.60" y="105.99" width="5.56" height="3.81" fill="#5ab354"/>
<rect x="415.16" y="105.99" width="5.56" height="3.81" fill="#5ab354"/>
<rect x="420.72" y="105.99" width="5.56" height="3.81" fill="#5ab354"/>
<rect x="426.28" y="105.99" width="5.56" height="3.81" fill="#edbd32"/>
<rect x="431.84" y="105.99" width="5.56" height="3.81" fill="#edbd32"/>
<rect x="409.60" y="109.80" width="5.56" height="3.81" fill="#5ab354"/>
<rect x="415.16" y="109.80" width="5.56" height="3.81" fill="#4470c8"/>
<rect x="420.72" y="109.80" width="5.56" height="3.81" fill="#edbd32"/>
<rect x="426.28" y="109.80" width="5.56" height="3.81" fill="#f8f240"/>
<rect x="431.84" y="109.80" width="5.56" height="3.81" fill="#f8f240"/>
<rect x="409.60" y="113.61" width="5.56" height="3.83" fill="#5ab354"/>
<rect x="415.16" y="113.61" width="5.56" height="3.83" fill="#5ab354"/>
<rect x="420.72" y="113.61" width="5.56" height="3.83" fill="#edbd32"/>
<rect x="426.28" y="113.61" width="5.56" height="3.83" fill="#edbd32"/>
<rect x="431.84" y="113.61" width="5.56" height="3.83" fill="#edbd32"/>
<rect x="409.60" y="117.44" width="5.56" height="3.84" fill="#5ab354"/>
<rect x="415.16" y="117.44" width="5.56" height="3.84" fill="#4470c8"/>
<rect x="420.72" y="117.44" width="5.56" height="3.84" fill="#5ab354"/>
<rect x="426.28" y="117.44" width="5.56" height="3.84" fill="#f8f240"/>
<rect x="431.84" y="117.44" width="5.56" height="3.84" fill="#f8f240"/>
<rect x="409.60" y="121.28" width="5.56" height="3.82" fill="#f8f240"/>
<rect x="415.16" y="121.28" width="5.56" height="3.82" fill="#5ab354"/>
<rect x="409.60" y="125.10" width="5.56" height="3.80" fill="#5ab354"/>
<rect x="415.16" y="125.10" width="5.56" height="3.80" fill="#5ab354"/>
<rect x="420.72" y="125.10" width="5.56" height="3.80" fill="#edbd32"/>
<rect x="426.28" y="125.10" width="5.56" height="3.80" fill="#edbd32"/>
<rect x="431.84" y="125.10" width="5.56" height="3.80" fill="#f8f240"/>
<rect x="409.60" y="128.90" width="5.56" height="3.78" fill="#5ab354"/>
<rect x="415.16" y="128.90" width="5.56" height="3.78" fill="#4470c8"/>
<rect x="420.72" y="128.90" width="5.56" height="3.78" fill="#edbd32"/>
<rect x="426.28" y="128.90" width="5.56" height="3.78" fill="#edbd32"/>
<rect x="431.84" y="128.90" width="5.56" height="3.78" fill="#edbd32"/>
<rect x="409.60" y="132.67" width="5.56" height="3.77" fill="#5ab354"/>
<rect x="415.16" y="132.67" width="5.56" height="3.77" fill="#4470c8"/>
<rect x="420.72" y="132.67" width="5.56" height="3.77" fill="#5ab354"/>
<rect x="426.28" y="132.67" width="5.56" height="3.77" fill="#edbd32"/>
<rect x="431.84" y="132.67" width="5.56" height="3.77" fill="#edbd32"/>
<rect x="409.60" y="136.44" width="5.56" height="3.78" fill="#4470c8"/>
<rect x="415.16" y="136.44" width="5.56" height="3.78" fill="#edbd32"/>
<rect x="420.72" y="136.44" width="5.56" height="3.78" fill="#5ab354"/>
<rect x="426.28" y="136.44" width="5.56" height="3.78" fill="#f8f240"/>
<rect x="431.84" y="136.44" width="5.56" height="3.78" fill="#f8f240"/>
<rect x="409.60" y="140.22" width="5.56" height="3.80" fill="#f8f240"/>
<rect x="415.16" y="140.22" width="5.56" height="3.80" fill="#5ab354"/>
<rect x="420.72" y="140.22" width="5.56" height="3.80" fill="#f8f240"/>
<rect x="426.28" y="140.22" width="5.56" height="3.80" fill="#edbd32"/>
<rect x="431.84" y="140.22" width="5.56" height="3.80" fill="#f8f240"/>
<rect x="409.60" y="144.03" width="5.56" height="3.82" fill="#4470c8"/>
<rect x="415.16" y="144.03" width="5.56" height="3.82" fill="#f8f240"/>
<rect x="420.72" y="144.03" width="5.56" height="3.82" fill="#5ab354"/>
<rect x="426.28" y="144.03" width="5.56" height="3.82" fill="#edbd32"/>
<rect x="431.84" y="144.03" width="5.56" height="3.82" fill="#edbd32"/>
<rect x="409.60" y="147.85" width="5.56" height="3.82" fill="#5ab354"/>
<rect x="415.16" y="147.85" width="5.56" height="3.82" fill="#f8f240"/>
<rect x="420.72" y="147.85" width="5.56" height="3.82" fill="#5ab354"/>
<rect x="426.28" y="147.85" width="5.56" height="3.82" fill="#f8f240"/>
<rect x="431.84" y="147.85" width="5.56" height="3.82" fill="#f8f240"/>
<rect x="409.60" y="151.66" width="5.56" height="3.81" fill="#5ab354"/>
<rect x="415.16" y="151.66" width="5.56" height="3.81" fill="#4470c8"/>
<rect x="420.72" y="151.66" width="5.56" height="3.81" fill="#edbd32"/>
<rect x="426.28" y="151.66" width="5.56" height="3.81" fill="#f8f240"/>
<rect x="409.60" y="155.47" width="5.56" height="3.81" fill="#edbd32"/>
<rect x="415.16" y="155.47" width="5.56" height="3.81" fill="#5ab354"/>
<rect x="420.72" y="155.47" width="5.56" height="3.81" fill="#f8f240"/>
<rect x="409.60" y="159.28" width="5.56" height="3.81" fill="#edbd32"/>
<rect x="415.16" y="159.28" width="5.56" height="3.81" fill="#5ab354"/>
<rect x="420.72" y="159.28" width="5.56" height="3.81" fill="#f8f240"/>
<rect x="426.28" y="159.28" width="5.56" height="3.81" fill="#f8f240"/>
<rect x="431.84" y="159.28" width="5.56" height="3.81" fill="#f8f240"/>
<rect x="409.60" y="163.09" width="5.56" height="3.80" fill="#5ab354"/>
<rect x="415.16" y="163.09" width="5.56" height="3.80" fill="#edbd32"/>
<rect x="420.72" y="163.09" width="5.56" height="3.80" fill="#edbd32"/>
<rect x="426.28" y="163.09" width="5.56" height="3.80" fill="#5ab354"/>
<rect x="431.84" y="163.09" width="5.56" height="3.80" fill="#f8f240"/>
<rect x="409.60" y="166.88" width="5.56" height="3.78" fill="#edbd32"/>
<rect x="415.16" y="166.88" width="5.56" height="3.78" fill="#4470c8"/>
<rect x="420.72" y="166.88" width="5.56" height="3.78" fill="#f8f240"/>
<rect x="426.28" y="166.88" width="5.56" height="3.78" fill="#f8f240"/>
<rect x="431.84" y="166.88" width="5.56" height="3.78" fill="#f8f240"/>
<rect x="409.60" y="170.67" width="5.56" height="3.76" fill="#f8f240"/>
<rect x="415.16" y="170.67" width="5.56" height="3.76" fill="#5ab354"/>
<rect x="426.28" y="170.67" width="5.56" height="3.76" fill="#edbd32"/>
<rect x="431.84" y="170.67" width="5.56" height="3.76" fill="#edbd32"/>
<rect x="409.60" y="174.43" width="5.56" height="3.75" fill="#5ab354"/>
<rect x="415.16" y="174.43" width="5.56" height="3.75" fill="#6a2fb8"/>
<rect x="420.72" y="174.43" width="5.56" height="3.75" fill="#f8f240"/>
<text x="413.32" y="11.60" font-size="2.6" fill="#333" font-weight="bold" text-anchor="middle" textLength="8.35" lengthAdjust="spacingAndGlyphs" transform="rotate(-90 413.32 11.60)">HLA-B*5701</text>
<rect x="411.08" y="18.68" width="1.40" height="11.64" fill="#55463a" opacity="0.72"/>
<text x="413.46" y="39.95" font-size="3.0" fill="#2e2e2e" font-weight="bold" text-anchor="middle" textLength="8.68" lengthAdjust="spacingAndGlyphs" transform="rotate(-90 413.46 39.95)">sp-blood</text>
<text x="418.88" y="11.60" font-size="2.6" fill="#333" font-weight="bold" text-anchor="middle" textLength="8.35" lengthAdjust="spacingAndGlyphs" transform="rotate(-90 418.88 11.60)">HLA-B*5701</text>
<rect x="416.64" y="18.68" width="1.40" height="11.64" fill="#55463a" opacity="0.72"/>
<text x="419.02" y="39.95" font-size="3.0" fill="#2e2e2e" font-weight="bold" text-anchor="middle" textLength="8.68" lengthAdjust="spacingAndGlyphs" transform="rotate(-90 419.02 39.95)">sp-blood</text>
<text x="424.44" y="11.60" font-size="2.6" fill="#333" font-weight="bold" text-anchor="middle" textLength="8.35" lengthAdjust="spacingAndGlyphs" transform="rotate(-90 424.44 11.60)">HLA-B*5701</text>
<rect x="422.20" y="18.68" width="1.40" height="11.64" fill="#55463a" opacity="0.72"/>
<text x="424.58" y="39.95" font-size="3.0" fill="#2e2e2e" font-weight="bold" text-anchor="middle" textLength="8.68" lengthAdjust="spacingAndGlyphs" transform="rotate(-90 424.58 39.95)">sp-blood</text>
<text x="430.00" y="11.60" font-size="2.6" fill="#333" font-weight="bold" text-anchor="middle" textLength="8.35" lengthAdjust="spacingAndGlyphs" transform="rotate(-90 430.00 11.60)">HLA-B*5701</text>
<rect x="427.76" y="18.68" width="1.40" height="11.64" fill="#55463a" opacity="0.72"/>
<text x="430.14" y="39.95" font-size="3.0" fill="#2e2e2e" font-weight="bold" text-anchor="middle" textLength="8.68" lengthAdjust="spacingAndGlyphs" transform="rotate(-90 430.14 39.95)">sp-blood</text>
<text x="435.56" y="11.60" font-size="2.6" fill="#333" font-weight="bold" text-anchor="middle" textLength="8.35" lengthAdjust="spacingAndGlyphs" transform="rotate(-90 435.56 11.60)">HLA-B*5701</text>
<rect x="433.32" y="18.68" width="1.40" height="11.64" fill="#55463a" opacity="0.72"/>
<text x="435.70" y="39.95" font-size="3.0" fill="#2e2e2e" font-weight="bold" text-anchor="middle" textLength="8.68" lengthAdjust="spacingAndGlyphs" transform="rotate(-90 435.70 39.95)">sp-blood</text>
<text x="399.49" y="32.85" font-size="2.2" fill="#444" text-anchor="middle" textLength="24.72" lengthAdjust="spacingAndGlyphs" transform="rotate(-90 399.49 32.85)">Total donors (n) tested</text>
<text x="412.38" y="51.19" font-size="2.21" fill="#c9b8e8" text-anchor="middle" font-weight="normal">sl</text>
<text x="417.94" y="51.19" font-size="2.21" fill="#c9b8e8" text-anchor="middle" font-weight="normal">sl</text>
<text x="423.50" y="51.19" font-size="2.21" fill="#c9b8e8" text-anchor="middle" font-weight="normal">sl</text>
<text x="429.06" y="51.19" font-size="2.21" fill="#c9b8e8" text-anchor="middle" font-weight="normal">sl</text>
<text x="434.62" y="51.19" font-size="2.21" fill="#c9b8e8" text-anchor="middle" font-weight="normal">sl</text>
<rect x="411.48" y="49.50" width="1.80" height="1.61" fill="#d9ccf2" opacity="0.75"/>
<rect x="417.04" y="49.50" width="1.80" height="1.61" fill="#d9ccf2" opacity="0.75"/>
<rect x="422.60" y="49.50" width="1.80" height="1.61" fill="#d9ccf2" opacity="0.75"/>
<text x="397.00" y="51.60" font-size="3.22" fill="#444" text-anchor="start" font-weight="normal" textLength="7.67" lengthAdjust="spacingAndGlyphs">HLA-E</text>
<text x="397.00" y="55.59" font-size="3.19" fill="#444" text-anchor="start" font-weight="normal" textLength="7.67" lengthAdjust="spacingAndGlyphs">HLA-F</text>
<text x="397.00" y="59.54" font-size="3.15" fill="#444" text-anchor="start" font-weight="normal" textLength="7.67" lengthAdjust="spacingAndGlyphs">HLA-G</text>
<text x="397.00" y="63.44" font-size="3.12" fill="#444" text-anchor="start" font-weight="normal" textLength="9.20" lengthAdjust="spacingAndGlyphs">A*0101</text>
<text x="397.00" y="67.31" font-size="3.09" fill="#444" text-anchor="start" font-weight="normal" textLength="9.20" lengthAdjust="spacingAndGlyphs">A*0201</text>
<text x="397.00" y="71.15" font-size="3.06" fill="#444" text-anchor="start" font-weight="normal" textLength="9.20" lengthAdjust="spacingAndGlyphs">A*0202</text>
<text x="397.00" y="74.96" font-size="3.04" fill="#444" text-anchor="start" font-weight="normal" textLength="9.20" lengthAdjust="spacingAndGlyphs">A*0205</text>
<text x="397.00" y="78.75" font-size="3.03" fill="#444" text-anchor="start" font-weight="normal" textLength="9.20" lengthAdjust="spacingAndGlyphs">A*0206</text>
<text x="397.00" y="82.54" font-size="3.03" fill="#444" text-anchor="start" font-weight="normal" textLength="9.20" lengthAdjust="spacingAndGlyphs">A*0211</text>
<text x="397.00" y="86.32" font-size="3.03" fill="#444" text-anchor="start" font-weight="normal" textLength="9.20" lengthAdjust="spacingAndGlyphs">A*0301</text>
<text x="397.00" y="90.11" font-size="3.03" fill="#444" text-anchor="start" font-weight="normal" textLength="9.20" lengthAdjust="spacingAndGlyphs">A*1101</text>
<text x="397.00" y="93.91" font-size="3.03" fill="#444" text-anchor="start" font-weight="normal" textLength="9.20" lengthAdjust="spacingAndGlyphs">A*2301</text>
<text x="397.00" y="97.70" font-size="3.04" fill="#444" text-anchor="start" font-weight="normal" textLength="9.20" lengthAdjust="spacingAndGlyphs">A*2402</text>
<text x="397.00" y="101.50" font-size="3.04" fill="#444" text-anchor="start" font-weight="normal" textLength="9.20" lengthAdjust="spacingAndGlyphs">A*2403</text>
<text x="397.00" y="105.30" font-size="3.04" fill="#444" text-anchor="start" font-weight="normal" textLength="9.20" lengthAdjust="spacingAndGlyphs">A*2501</text>
<text x="397.00" y="109.11" font-size="3.04" fill="#444" text-anchor="start" font-weight="normal" textLength="9.20" lengthAdjust="spacingAndGlyphs">A*2601</text>
<text x="397.00" y="112.92" font-size="3.05" fill="#444" text-anchor="start" font-weight="normal" textLength="9.20" lengthAdjust="spacingAndGlyphs">A*2902</text>
<text x="397.00" y="116.75" font-size="3.06" fill="#444" text-anchor="start" font-weight="normal" textLength="9.20" lengthAdjust="spacingAndGlyphs">A*3001</text>
<text x="397.00" y="120.59" font-size="3.07" fill="#444" text-anchor="start" font-weight="normal" textLength="9.20" lengthAdjust="spacingAndGlyphs">A*3002</text>
<text x="397.00" y="124.41" font-size="3.06" fill="#444" text-anchor="start" font-weight="normal" textLength="9.20" lengthAdjust="spacingAndGlyphs">A*3101</text>
<text x="397.00" y="128.21" font-size="3.04" fill="#444" text-anchor="start" font-weight="normal" textLength="9.20" lengthAdjust="spacingAndGlyphs">A*3201</text>
<text x="397.00" y="131.99" font-size="3.02" fill="#444" text-anchor="start" font-weight="normal" textLength="9.20" lengthAdjust="spacingAndGlyphs">A*3301</text>
<text x="397.00" y="135.76" font-size="3.02" fill="#444" text-anchor="start" font-weight="normal" textLength="9.20" lengthAdjust="spacingAndGlyphs">A*3303</text>
<text x="397.00" y="139.54" font-size="3.03" fill="#444" text-anchor="start" font-weight="normal" textLength="9.20" lengthAdjust="spacingAndGlyphs">A*3401</text>
<text x="397.00" y="143.34" font-size="3.04" fill="#444" text-anchor="start" font-weight="normal" textLength="9.20" lengthAdjust="spacingAndGlyphs">A*3601</text>
<text x="397.00" y="147.16" font-size="3.05" fill="#444" text-anchor="start" font-weight="normal" textLength="9.20" lengthAdjust="spacingAndGlyphs">A*6601</text>
<text x="397.00" y="150.97" font-size="3.05" fill="#444" text-anchor="start" font-weight="normal" textLength="9.20" lengthAdjust="spacingAndGlyphs">A*6801</text>
<text x="397.00" y="154.79" font-size="3.05" fill="#444" text-anchor="start" font-weight="normal" textLength="9.20" lengthAdjust="spacingAndGlyphs">A*6802</text>
<text x="397.00" y="158.59" font-size="3.05" fill="#444" text-anchor="start" font-weight="normal" textLength="9.20" lengthAdjust="spacingAndGlyphs">A*6901</text>
<text x="397.00" y="162.40" font-size="3.04" fill="#444" text-anchor="start" font-weight="normal" textLength="9.20" lengthAdjust="spacingAndGlyphs">A*7401</text>
<text x="397.00" y="166.20" font-size="3.04" fill="#444" text-anchor="start" font-weight="normal" textLength="9.20" lengthAdjust="spacingAndGlyphs">A*8001</text>
<text x="397.00" y="169.99" font-size="3.03" fill="#444" text-anchor="start" font-weight="normal" textLength="9.20" lengthAdjust="spacingAndGlyphs">A*2901</text>
<text x="397.00" y="173.75" font-size="3.01" fill="#444" text-anchor="start" font-weight="normal" textLength="9.20" lengthAdjust="spacingAndGlyphs">A*2608</text>
<text x="397.00" y="177.50" font-size="3.00" fill="#444" text-anchor="start" font-weight="normal" textLength="9.20" lengthAdjust="spacingAndGlyphs">A*1102</text>
<text x="397.00" y="181.24" font-size="2.99" fill="#444" text-anchor="start" font-weight="normal" textLength="9.20" lengthAdjust="spacingAndGlyphs">Total</text>
<text x="412.38" y="181.17" font-size="2.32" fill="#666" text-anchor="middle" font-weight="normal">26</text>
<text x="417.94" y="181.17" font-size="2.32" fill="#666" text-anchor="middle" font-weight="normal">26</text>
<text x="423.50" y="181.17" font-size="2.32" fill="#666" text-anchor="middle" font-weight="normal">26</text>
<text x="429.06" y="181.17" font-size="2.32" fill="#666" text-anchor="middle" font-weight="normal">26</text>
<text x="434.62" y="181.17" font-size="2.32" fill="#666" text-anchor="middle" font-weight="normal">26</text>
<line x1="396.90" y1="48.30" x2="409.60" y2="48.30" stroke="#b4b4b4" stroke-width="0.7"/>
<line x1="409.60" y1="48.30" x2="437.40" y2="48.30" stroke="#262626" stroke-width="0.7"/>
<line x1="396.90" y1="52.32" x2="409.60" y2="52.32" stroke="#b4b4b4" stroke-width="0.7"/>
<line x1="409.60" y1="52.32" x2="437.40" y2="52.32" stroke="#262626" stroke-width="0.7"/>
<line x1="396.90" y1="56.31" x2="409.60" y2="56.31" stroke="#b4b4b4" stroke-width="0.7"/>
<line x1="409.60" y1="56.31" x2="437.40" y2="56.31" stroke="#262626" stroke-width="0.7"/>
<line x1="396.90" y1="60.25" x2="409.60" y2="60.25" stroke="#b4b4b4" stroke-width="0.7"/>
<line x1="409.60" y1="60.25" x2="437.40" y2="60.25" stroke="#262626" stroke-width="0.7"/>
<line x1="396.90" y1="64.15" x2="409.60" y2="64.15" stroke="#b4b4b4" stroke-width="0.7"/>
<line x1="409.60" y1="64.15" x2="415.16" y2="64.15" stroke="#262626" stroke-width="0.7"/>
<line x1="415.16" y1="64.15" x2="420.72" y2="64.15" stroke="#8c8c8c" stroke-width="0.7"/>
<line x1="420.72" y1="64.15" x2="437.40" y2="64.15" stroke="#262626" stroke-width="0.7"/>
<line x1="396.90" y1="68.01" x2="409.60" y2="68.01" stroke="#b4b4b4" stroke-width="0.7"/>
<line x1="409.60" y1="68.01" x2="420.72" y2="68.01" stroke="#262626" stroke-width="0.7"/>
<line x1="420.72" y1="68.01" x2="437.40" y2="68.01" stroke="#8c8c8c" stroke-width="0.7"/>
<line x1="396.90" y1="71.83" x2="409.60" y2="71.83" stroke="#b4b4b4" stroke-width="0.7"/>
<line x1="409.60" y1="71.83" x2="426.28" y2="71.83" stroke="#262626" stroke-width="0.7"/>
<line x1="426.28" y1="71.83" x2="437.40" y2="71.83" stroke="#8c8c8c" stroke-width="0.7"/>
<line x1="396.90" y1="75.64" x2="409.60" y2="75.64" stroke="#b4b4b4" stroke-width="0.7"/>
<line x1="409.60" y1="75.64" x2="437.40" y2="75.64" stroke="#262626" stroke-width="0.7"/>
<line x1="396.90" y1="79.43" x2="409.60" y2="79.43" stroke="#b4b4b4" stroke-width="0.7"/>
<line x1="409.60" y1="79.43" x2="437.40" y2="79.43" stroke="#262626" stroke-width="0.7"/>
<line x1="396.90" y1="83.22" x2="409.60" y2="83.22" stroke="#b4b4b4" stroke-width="0.7"/>
<line x1="409.60" y1="83.22" x2="437.40" y2="83.22" stroke="#262626" stroke-width="0.7"/>
<line x1="396.90" y1="87.00" x2="409.60" y2="87.00" stroke="#b4b4b4" stroke-width="0.7"/>
<line x1="409.60" y1="87.00" x2="426.28" y2="87.00" stroke="#262626" stroke-width="0.7"/>
<line x1="426.28" y1="87.00" x2="437.40" y2="87.00" stroke="#8c8c8c" stroke-width="0.7"/>
<line x1="396.90" y1="90.79" x2="409.60" y2="90.79" stroke="#b4b4b4" stroke-width="0.7"/>
<line x1="409.60" y1="90.79" x2="437.40" y2="90.79" stroke="#262626" stroke-width="0.7"/>
<line x1="396.90" y1="94.59" x2="409.60" y2="94.59" stroke="#b4b4b4" stroke-width="0.7"/>
<line x1="409.60" y1="94.59" x2="437.40" y2="94.59" stroke="#262626" stroke-width="0.7"/>
<line x1="396.90" y1="98.38" x2="409.60" y2="98.38" stroke="#b4b4b4" stroke-width="0.7"/>
<line x1="409.60" y1="98.38" x2="437.40" y2="98.38" stroke="#262626" stroke-width="0.7"/>
<line x1="396.90" y1="102.19" x2="409.60" y2="102.19" stroke="#b4b4b4" stroke-width="0.7"/>
<line x1="409.60" y1="102.19" x2="437.40" y2="102.19" stroke="#262626" stroke-width="0.7"/>
<line x1="396.90" y1="105.99" x2="409.60" y2="105.99" stroke="#b4b4b4" stroke-width="0.7"/>
<line x1="409.60" y1="105.99" x2="437.40" y2="105.99" stroke="#262626" stroke-width="0.7"/>
<line x1="396.90" y1="109.80" x2="409.60" y2="109.80" stroke="#b4b4b4" stroke-width="0.7"/>
<line x1="409.60" y1="109.80" x2="437.40" y2="109.80" stroke="#262626" stroke-width="0.7"/>
<line x1="396.90" y1="113.61" x2="409.60" y2="113.61" stroke="#b4b4b4" stroke-width="0.7"/>
<line x1="409.60" y1="113.61" x2="437.40" y2="113.61" stroke="#262626" stroke-width="0.7"/>
<line x1="396.90" y1="117.44" x2="409.60" y2="117.44" stroke="#b4b4b4" stroke-width="0.7"/>
<line x1="409.60" y1="117.44" x2="437.40" y2="117.44" stroke="#262626" stroke-width="0.7"/>
<line x1="396.90" y1="121.28" x2="409.60" y2="121.28" stroke="#b4b4b4" stroke-width="0.7"/>
<line x1="409.60" y1="121.28" x2="437.40" y2="121.28" stroke="#262626" stroke-width="0.7"/>
<line x1="396.90" y1="125.10" x2="409.60" y2="125.10" stroke="#b4b4b4" stroke-width="0.7"/>
<line x1="409.60" y1="125.10" x2="437.40" y2="125.10" stroke="#262626" stroke-width="0.7"/>
<line x1="396.90" y1="128.90" x2="409.60" y2="128.90" stroke="#b4b4b4" stroke-width="0.7"/>
<line x1="409.60" y1="128.90" x2="437.40" y2="128.90" stroke="#262626" stroke-width="0.7"/>
<line x1="396.90" y1="132.67" x2="409.60" y2="132.67" stroke="#b4b4b4" stroke-width="0.7"/>
<line x1="409.60" y1="132.67" x2="437.40" y2="132.67" stroke="#262626" stroke-width="0.7"/>
<line x1="396.90" y1="136.44" x2="409.60" y2="136.44" stroke="#b4b4b4" stroke-width="0.7"/>
<line x1="409.60" y1="136.44" x2="437.40" y2="136.44" stroke="#262626" stroke-width="0.7"/>
<line x1="396.90" y1="140.22" x2="409.60" y2="140.22" stroke="#b4b4b4" stroke-width="0.7"/>
<line x1="409.60" y1="140.22" x2="437.40" y2="140.22" stroke="#262626" stroke-width="0.7"/>
<line x1="396.90" y1="144.03" x2="409.60" y2="144.03" stroke="#b4b4b4" stroke-width="0.7"/>
<line x1="409.60" y1="144.03" x2="437.40" y2="144.03" stroke="#262626" stroke-width="0.7"/>
<line x1="396.90" y1="147.85" x2="409.60" y2="147.85" stroke="#b4b4b4" stroke-width="0.7"/>
<line x1="409.60" y1="147.85" x2="437.40" y2="147.85" stroke="#262626" stroke-width="0.7"/>
<line x1="396.90" y1="151.66" x2="409.60" y2="151.66" stroke="#b4b4b4" stroke-width="0.7"/>
<line x1="409.60" y1="151.66" x2="437.40" y2="151.66" stroke="#262626" stroke-width="0.7"/>
<line x1="396.90" y1="155.47" x2="409.60" y2="155.47" stroke="#b4b4b4" stroke-width="0.7"/>
<line x1="409.60" y1="155.47" x2="431.84" y2="155.47" stroke="#262626" stroke-width="0.7"/>
<line x1="431.84" y1="155.47" x2="437.40" y2="155.47" stroke="#8c8c8c" stroke-width="0.7"/>
<line x1="396.90" y1="159.28" x2="409.60" y2="159.28" stroke="#b4b4b4" stroke-width="0.7"/>
<line x1="409.60" y1="159.28" x2="437.40" y2="159.28" stroke="#262626" stroke-width="0.7"/>
<line x1="396.90" y1="163.09" x2="409.60" y2="163.09" stroke="#b4b4b4" stroke-width="0.7"/>
<line x1="409.60" y1="163.09" x2="437.40" y2="163.09" stroke="#262626" stroke-width="0.7"/>
<line x1="396.90" y1="166.88" x2="409.60" y2="166.88" stroke="#b4b4b4" stroke-width="0.7"/>
<line x1="409.60" y1="166.88" x2="437.40" y2="166.88" stroke="#262626" stroke-width="0.7"/>
<line x1="396.90" y1="170.67" x2="409.60" y2="170.67" stroke="#b4b4b4" stroke-width="0.7"/>
<line x1="409.60" y1="170.67" x2="437.40" y2="170.67" stroke="#262626" stroke-width="0.7"/>
<line x1="396.90" y1="174.43" x2="409.60" y2="174.43" stroke="#b4b4b4" stroke-width="0.7"/>
<line x1="409.60" y1="174.43" x2="437.40" y2="174.43" stroke="#262626" stroke-width="0.7"/>
<line x1="396.90" y1="178.17" x2="409.60" y2="178.17" stroke="#b4b4b4" stroke-width="0.7"/>
<line x1="409.60" y1="178.17" x2="426.28" y2="178.17" stroke="#262626" stroke-width="0.7"/>
<line x1="426.28" y1="178.17" x2="437.40" y2="178.17" stroke="#8c8c8c" stroke-width="0.7"/>
<line x1="396.90" y1="181.92" x2="409.60" y2="181.92" stroke="#b4b4b4" stroke-width="0.7"/>
<line x1="409.60" y1="181.92" x2="437.40" y2="181.92" stroke="#8c8c8c" stroke-width="0.7"/>
<line x1="396.90" y1="5.80" x2="437.40" y2="5.80" stroke="#9a9a9a" stroke-width="0.7"/>
<line x1="396.90" y1="17.40" x2="437.40" y2="17.40" stroke="#9a9a9a" stroke-width="0.7"/>
<line x1="396.90" y1="31.60" x2="437.40" y2="31.60" stroke="#9a9a9a" stroke-width="0.7"/>
<line x1="396.90" y1="5.80" x2="396.90" y2="48.30" stroke="#ababab" stroke-width="0.7"/>
<line x1="409.60" y1="5.80" x2="409.60" y2="48.30" stroke="#ababab" stroke-width="0.7"/>
<line x1="409.60" y1="48.30" x2="409.60" y2="181.92" stroke="#262626" stroke-width="0.7"/>
<line x1="415.16" y1="5.80" x2="415.16" y2="48.30" stroke="#ababab" stroke-width="0.7"/>
<line x1="415.16" y1="48.30" x2="415.16" y2="181.92" stroke="#262626" stroke-width="0.7"/>
<line x1="420.72" y1="5.80" x2="420.72" y2="48.30" stroke="#ababab" stroke-width="0.7"/>
<line x1="420.72" y1="48.30" x2="420.72" y2="181.92" stroke="#262626" stroke-width="0.7"/>
<line x1="426.28" y1="5.80" x2="426.28" y2="48.30" stroke="#ababab" stroke-width="0.7"/>
<line x1="426.28" y1="48.30" x2="426.28" y2="181.92" stroke="#262626" stroke-width="0.7"/>
<line x1="431.84" y1="5.80" x2="431.84" y2="48.30" stroke="#ababab" stroke-width="0.7"/>
<line x1="431.84" y1="48.30" x2="431.84" y2="181.92" stroke="#262626" stroke-width="0.7"/>
<line x1="437.40" y1="5.80" x2="437.40" y2="48.30" stroke="#ababab" stroke-width="0.7"/>
<line x1="437.40" y1="48.30" x2="437.40" y2="181.92" stroke="#262626" stroke-width="0.7"/>
<rect x="451.09" y="18.00" width="4.60" height="13.00" fill="#dfe5ee"/>
<rect x="456.67" y="18.00" width="4.60" height="13.00" fill="#efdcc6"/>
<rect x="462.25" y="18.00" width="4.60" height="13.00" fill="#dfe5ee"/>
<rect x="467.83" y="18.00" width="4.60" height="13.00" fill="#efdcc6"/>
<rect x="473.41" y="18.00" width="4.60" height="13.00" fill="#efdcc6"/>
<rect x="450.60" y="48.30" width="5.58" height="4.03" fill="#edbd32"/>
<rect x="456.18" y="48.30" width="5.58" height="4.03" fill="#6a2fb8"/>
<rect x="461.76" y="48.30" width="5.58" height="4.03" fill="#f8f240"/>
<rect x="467.34" y="48.30" width="5.58" height="4.03" fill="#f8f240"/>
<rect x="472.92" y="48.30" width="5.58" height="4.03" fill="#f8f240"/>
<rect x="450.60" y="52.32" width="5.58" height="3.99" fill="#5ab354"/>
<rect x="456.18" y="52.32" width="5.58" height="3.99" fill="#5ab354"/>
<rect x="461.76" y="52.32" width="5.58" height="3.99" fill="#f8f240"/>
<rect x="467.34" y="52.32" width="5.58" height="3.99" fill="#5ab354"/>
<rect x="472.92" y="52.32" width="5.58" height="3.99" fill="#5ab354"/>
<rect x="450.60" y="56.31" width="5.58" height="3.94" fill="#4470c8"/>
<rect x="456.18" y="56.31" width="5.58" height="3.94" fill="#6a2fb8"/>
<rect x="461.76" y="56.31" width="5.58" height="3.94" fill="#5ab354"/>
<rect x="467.34" y="56.31" width="5.58" height="3.94" fill="#5ab354"/>
<rect x="472.92" y="56.31" width="5.58" height="3.94" fill="#5ab354"/>
<rect x="450.60" y="60.25" width="5.58" height="3.90" fill="#5ab354"/>
<rect x="456.18" y="60.25" width="5.58" height="3.90" fill="#6a2fb8"/>
<rect x="461.76" y="60.25" width="5.58" height="3.90" fill="#f8f240"/>
<rect x="467.34" y="60.25" width="5.58" height="3.90" fill="#5ab354"/>
<rect x="472.92" y="60.25" width="5.58" height="3.90" fill="#5ab354"/>
<rect x="450.60" y="64.15" width="5.58" height="3.86" fill="#6a2fb8"/>
<rect x="456.18" y="64.15" width="5.58" height="3.86" fill="#6a2fb8"/>
<rect x="461.76" y="64.15" width="5.58" height="3.86" fill="#4470c8"/>
<rect x="467.34" y="64.15" width="5.58" height="3.86" fill="#edbd32"/>
<rect x="472.92" y="64.15" width="5.58" height="3.86" fill="#f8f240"/>
<rect x="450.60" y="68.01" width="5.58" height="3.83" fill="#5ab354"/>
<rect x="456.18" y="68.01" width="5.58" height="3.83" fill="#5ab354"/>
<rect x="461.76" y="68.01" width="5.58" height="3.83" fill="#5ab354"/>
<rect x="450.60" y="71.83" width="5.58" height="3.81" fill="#edbd32"/>
<rect x="456.18" y="71.83" width="5.58" height="3.81" fill="#5ab354"/>
<rect x="467.34" y="71.83" width="5.58" height="3.81" fill="#5ab354"/>
<rect x="472.92" y="71.83" width="5.58" height="3.81" fill="#edbd32"/>
<rect x="450.60" y="75.64" width="5.58" height="3.79" fill="#4470c8"/>
<rect x="456.18" y="75.64" width="5.58" height="3.79" fill="#6a2fb8"/>
<rect x="461.76" y="75.64" width="5.58" height="3.79" fill="#5ab354"/>
<rect x="467.34" y="75.64" width="5.58" height="3.79" fill="#edbd32"/>
<rect x="472.92" y="75.64" width="5.58" height="3.79" fill="#edbd32"/>
<rect x="450.60" y="79.43" width="5.58" height="3.79" fill="#5ab354"/>
<rect x="456.18" y="79.43" width="5.58" height="3.79" fill="#6a2fb8"/>
<rect x="461.76" y="79.43" width="5.58" height="3.79" fill="#edbd32"/>
<rect x="467.34" y="79.43" width="5.58" height="3.79" fill="#edbd32"/>
<rect x="472.92" y="79.43" width="5.58" height="3.79" fill="#edbd32"/>
<rect x="450.60" y="83.22" width="5.58" height="3.79" fill="#5ab354"/>
<rect x="456.18" y="83.22" width="5.58" height="3.79" fill="#4470c8"/>
<rect x="461.76" y="83.22" width="5.58" height="3.79" fill="#f8f240"/>
<rect x="450.60" y="87.00" width="5.58" height="3.79" fill="#4470c8"/>
<rect x="456.18" y="87.00" width="5.58" height="3.79" fill="#6a2fb8"/>
<rect x="461.76" y="87.00" width="5.58" height="3.79" fill="#4470c8"/>
<rect x="467.34" y="87.00" width="5.58" height="3.79" fill="#4470c8"/>
<rect x="472.92" y="87.00" width="5.58" height="3.79" fill="#4470c8"/>
<rect x="450.60" y="90.79" width="5.58" height="3.79" fill="#edbd32"/>
<rect x="456.18" y="90.79" width="5.58" height="3.79" fill="#5ab354"/>
<rect x="461.76" y="90.79" width="5.58" height="3.79" fill="#f8f240"/>
<rect x="467.34" y="90.79" width="5.58" height="3.79" fill="#5ab354"/>
<rect x="472.92" y="90.79" width="5.58" height="3.79" fill="#5ab354"/>
<rect x="450.60" y="94.59" width="5.58" height="3.80" fill="#4470c8"/>
<rect x="456.18" y="94.59" width="5.58" height="3.80" fill="#edbd32"/>
<rect x="461.76" y="94.59" width="5.58" height="3.80" fill="#5ab354"/>
<rect x="467.34" y="94.59" width="5.58" height="3.80" fill="#edbd32"/>
<rect x="472.92" y="94.59" width="5.58" height="3.80" fill="#edbd32"/>
<rect x="450.60" y="98.38" width="5.58" height="3.80" fill="#4470c8"/>
<rect x="456.18" y="98.38" width="5.58" height="3.80" fill="#6a2fb8"/>
<rect x="461.76" y="98.38" width="5.58" height="3.80" fill="#5ab354"/>
<rect x="467.34" y="98.38" width="5.58" height="3.80" fill="#5ab354"/>
<rect x="472.92" y="98.38" width="5.58" height="3.80" fill="#edbd32"/>
<rect x="450.60" y="102.19" width="5.58" height="3.80" fill="#4470c8"/>
<rect x="456.18" y="102.19" width="5.58" height="3.80" fill="#6a2fb8"/>
<rect x="461.76" y="102.19" width="5.58" height="3.80" fill="#5ab354"/>
<rect x="450.60" y="105.99" width="5.58" height="3.81" fill="#5ab354"/>
<rect x="456.18" y="105.99" width="5.58" height="3.81" fill="#4470c8"/>
<rect x="461.76" y="105.99" width="5.58" height="3.81" fill="#edbd32"/>
<rect x="467.34" y="105.99" width="5.58" height="3.81" fill="#f8f240"/>
<rect x="450.60" y="109.80" width="5.58" height="3.81" fill="#5ab354"/>
<rect x="456.18" y="109.80" width="5.58" height="3.81" fill="#5ab354"/>
<rect x="461.76" y="109.80" width="5.58" height="3.81" fill="#5ab354"/>
<rect x="467.34" y="109.80" width="5.58" height="3.81" fill="#5ab354"/>
<rect x="472.92" y="109.80" width="5.58" height="3.81" fill="#5ab354"/>
<rect x="450.60" y="113.61" width="5.58" height="3.83" fill="#6a2fb8"/>
<rect x="456.18" y="113.61" width="5.58" height="3.83" fill="#6a2fb8"/>
<rect x="461.76" y="113.61" width="5.58" height="3.83" fill="#4470c8"/>
<rect x="467.34" y="113.61" width="5.58" height="3.83" fill="#5ab354"/>
<rect x="472.92" y="113.61" width="5.58" height="3.83" fill="#5ab354"/>
<rect x="450.60" y="117.44" width="5.58" height="3.84" fill="#4470c8"/>
<rect x="456.18" y="117.44" width="5.58" height="3.84" fill="#6a2fb8"/>
<rect x="461.76" y="117.44" width="5.58" height="3.84" fill="#5ab354"/>
<rect x="467.34" y="117.44" width="5.58" height="3.84" fill="#f8f240"/>
<rect x="472.92" y="117.44" width="5.58" height="3.84" fill="#edbd32"/>
<rect x="450.60" y="121.28" width="5.58" height="3.82" fill="#5ab354"/>
<rect x="456.18" y="121.28" width="5.58" height="3.82" fill="#6a2fb8"/>
<rect x="461.76" y="121.28" width="5.58" height="3.82" fill="#edbd32"/>
<rect x="450.60" y="125.10" width="5.58" height="3.80" fill="#4470c8"/>
<rect x="456.18" y="125.10" width="5.58" height="3.80" fill="#6a2fb8"/>
<rect x="461.76" y="125.10" width="5.58" height="3.80" fill="#4470c8"/>
<rect x="467.34" y="125.10" width="5.58" height="3.80" fill="#5ab354"/>
<rect x="472.92" y="125.10" width="5.58" height="3.80" fill="#5ab354"/>
<rect x="450.60" y="128.90" width="5.58" height="3.78" fill="#4470c8"/>
<rect x="456.18" y="128.90" width="5.58" height="3.78" fill="#6a2fb8"/>
<rect x="461.76" y="128.90" width="5.58" height="3.78" fill="#5ab354"/>
<rect x="467.34" y="128.90" width="5.58" height="3.78" fill="#edbd32"/>
<rect x="472.92" y="128.90" width="5.58" height="3.78" fill="#edbd32"/>
<rect x="450.60" y="132.67" width="5.58" height="3.77" fill="#4470c8"/>
<rect x="456.18" y="132.67" width="5.58" height="3.77" fill="#5ab354"/>
<rect x="461.76" y="132.67" width="5.58" height="3.77" fill="#5ab354"/>
<rect x="467.34" y="132.67" width="5.58" height="3.77" fill="#5ab354"/>
<rect x="472.92" y="132.67" width="5.58" height="3.77" fill="#5ab354"/>
<rect x="450.60" y="136.44" width="5.58" height="3.78" fill="#6a2fb8"/>
<rect x="456.18" y="136.44" width="5.58" height="3.78" fill="#5ab354"/>
<rect x="461.76" y="136.44" width="5.58" height="3.78" fill="#6a2fb8"/>
<rect x="467.34" y="136.44" width="5.58" height="3.78" fill="#edbd32"/>
<rect x="472.92" y="136.44" width="5.58" height="3.78" fill="#f8f240"/>
<rect x="450.60" y="140.22" width="5.58" height="3.80" fill="#4470c8"/>
<rect x="456.18" y="140.22" width="5.58" height="3.80" fill="#6a2fb8"/>
<rect x="461.76" y="140.22" width="5.58" height="3.80" fill="#4470c8"/>
<rect x="450.60" y="144.03" width="5.58" height="3.82" fill="#f8f240"/>
<rect x="456.18" y="144.03" width="5.58" height="3.82" fill="#4470c8"/>
<rect x="467.34" y="144.03" width="5.58" height="3.82" fill="#5ab354"/>
<rect x="472.92" y="144.03" width="5.58" height="3.82" fill="#5ab354"/>
<rect x="450.60" y="147.85" width="5.58" height="3.82" fill="#4470c8"/>
<rect x="456.18" y="147.85" width="5.58" height="3.82" fill="#4470c8"/>
<rect x="461.76" y="147.85" width="5.58" height="3.82" fill="#5ab354"/>
<rect x="467.34" y="147.85" width="5.58" height="3.82" fill="#5ab354"/>
<rect x="472.92" y="147.85" width="5.58" height="3.82" fill="#5ab354"/>
<rect x="450.60" y="151.66" width="5.58" height="3.81" fill="#4470c8"/>
<rect x="456.18" y="151.66" width="5.58" height="3.81" fill="#f8f240"/>
<rect x="461.76" y="151.66" width="5.58" height="3.81" fill="#4470c8"/>
<rect x="467.34" y="151.66" width="5.58" height="3.81" fill="#f8f240"/>
<rect x="472.92" y="151.66" width="5.58" height="3.81" fill="#f8f240"/>
<rect x="450.60" y="155.47" width="5.58" height="3.81" fill="#4470c8"/>
<rect x="456.18" y="155.47" width="5.58" height="3.81" fill="#6a2fb8"/>
<rect x="461.76" y="155.47" width="5.58" height="3.81" fill="#4470c8"/>
<rect x="467.34" y="155.47" width="5.58" height="3.81" fill="#5ab354"/>
<rect x="472.92" y="155.47" width="5.58" height="3.81" fill="#5ab354"/>
<rect x="450.60" y="159.28" width="5.58" height="3.81" fill="#4470c8"/>
<rect x="456.18" y="159.28" width="5.58" height="3.81" fill="#6a2fb8"/>
<rect x="461.76" y="159.28" width="5.58" height="3.81" fill="#5ab354"/>
<rect x="467.34" y="159.28" width="5.58" height="3.81" fill="#edbd32"/>
<rect x="472.92" y="159.28" width="5.58" height="3.81" fill="#edbd32"/>
<rect x="450.60" y="163.09" width="5.58" height="3.80" fill="#4470c8"/>
<rect x="456.18" y="163.09" width="5.58" height="3.80" fill="#6a2fb8"/>
<rect x="461.76" y="163.09" width="5.58" height="3.80" fill="#5ab354"/>
<rect x="467.34" y="163.09" width="5.58" height="3.80" fill="#edbd32"/>
<rect x="472.92" y="163.09" width="5.58" height="3.80" fill="#edbd32"/>
<rect x="450.60" y="166.88" width="5.58" height="3.78" fill="#5ab354"/>
<rect x="461.76" y="166.88" width="5.58" height="3.78" fill="#5ab354"/>
<rect x="467.34" y="166.88" width="5.58" height="3.78" fill="#f8f240"/>
<rect x="472.92" y="166.88" width="5.58" height="3.78" fill="#f8f240"/>
<rect x="450.60" y="170.67" width="5.58" height="3.76" fill="#f8f240"/>
<rect x="456.18" y="170.67" width="5.58" height="3.76" fill="#5ab354"/>
<rect x="467.34" y="170.67" width="5.58" height="3.76" fill="#5ab354"/>
<rect x="472.92" y="170.67" width="5.58" height="3.76" fill="#5ab354"/>
<rect x="450.60" y="174.43" width="5.58" height="3.75" fill="#4470c8"/>
<rect x="456.18" y="174.43" width="5.58" height="3.75" fill="#edbd32"/>
<rect x="461.76" y="174.43" width="5.58" height="3.75" fill="#5ab354"/>
<rect x="467.34" y="174.43" width="5.58" height="3.75" fill="#edbd32"/>
<rect x="472.92" y="174.43" width="5.58" height="3.75" fill="#edbd32"/>
<rect x="450.60" y="178.17" width="5.58" height="3.74" fill="#4470c8"/>
<rect x="456.18" y="178.17" width="5.58" height="3.74" fill="#f8f240"/>
<rect x="461.76" y="178.17" width="5.58" height="3.74" fill="#5ab354"/>
<rect x="467.34" y="178.17" width="5.58" height="3.74" fill="#edbd32"/>
<rect x="472.92" y="178.17" width="5.58" height="3.74" fill="#edbd32"/>
<rect x="450.60" y="181.92" width="5.58" height="3.76" fill="#5ab354"/>
<rect x="456.18" y="181.92" width="5.58" height="3.76" fill="#4470c8"/>
<rect x="461.76" y="181.92" width="5.58" height="3.76" fill="#5ab354"/>
<rect x="467.34" y="181.92" width="5.58" height="3.76" fill="#4470c8"/>
<rect x="472.92" y="181.92" width="5.58" height="3.76" fill="#4470c8"/>
<rect x="450.60" y="185.68" width="5.58" height="3.81" fill="#4470c8"/>
<rect x="456.18" y="185.68" width="5.58" height="3.81" fill="#5ab354"/>
<rect x="461.76" y="185.68" width="5.58" height="3.81" fill="#4470c8"/>
<rect x="467.34" y="185.68" width="5.58" height="3.81" fill="#5ab354"/>
<rect x="472.92" y="185.68" width="5.58" height="3.81" fill="#edbd32"/>
<rect x="450.60" y="189.49" width="5.58" height="3.85" fill="#4470c8"/>
<rect x="456.18" y="189.49" width="5.58" height="3.85" fill="#5ab354"/>
<rect x="461.76" y="189.49" width="5.58" height="3.85" fill="#5ab354"/>
<rect x="467.34" y="189.49" width="5.58" height="3.85" fill="#edbd32"/>
<rect x="472.92" y="189.49" width="5.58" height="3.85" fill="#edbd32"/>
<rect x="450.60" y="193.34" width="5.58" height="3.82" fill="#5ab354"/>
<rect x="456.18" y="193.34" width="5.58" height="3.82" fill="#5ab354"/>
<rect x="461.76" y="193.34" width="5.58" height="3.82" fill="#f8f240"/>
<rect x="467.34" y="193.34" width="5.58" height="3.82" fill="#f8f240"/>
<rect x="472.92" y="193.34" width="5.58" height="3.82" fill="#f8f240"/>
<rect x="450.60" y="197.16" width="5.58" height="3.80" fill="#f8f240"/>
<rect x="456.18" y="197.16" width="5.58" height="3.80" fill="#5ab354"/>
<rect x="461.76" y="197.16" width="5.58" height="3.80" fill="#f8f240"/>
<rect x="467.34" y="197.16" width="5.58" height="3.80" fill="#edbd32"/>
<rect x="472.92" y="197.16" width="5.58" height="3.80" fill="#edbd32"/>
<rect x="450.60" y="200.96" width="5.58" height="3.80" fill="#f8f240"/>
<rect x="456.18" y="200.96" width="5.58" height="3.80" fill="#5ab354"/>
<rect x="467.34" y="200.96" width="5.58" height="3.80" fill="#5ab354"/>
<rect x="472.92" y="200.96" width="5.58" height="3.80" fill="#5ab354"/>
<rect x="450.60" y="204.76" width="5.58" height="3.83" fill="#edbd32"/>
<rect x="456.18" y="204.76" width="5.58" height="3.83" fill="#6a2fb8"/>
<rect x="461.76" y="204.76" width="5.58" height="3.83" fill="#f8f240"/>
<rect x="467.34" y="204.76" width="5.58" height="3.83" fill="#4470c8"/>
<rect x="472.92" y="204.76" width="5.58" height="3.83" fill="#4470c8"/>
<rect x="450.60" y="208.59" width="5.58" height="3.88" fill="#6a2fb8"/>
<rect x="456.18" y="208.59" width="5.58" height="3.88" fill="#5ab354"/>
<rect x="461.76" y="208.59" width="5.58" height="3.88" fill="#4470c8"/>
<rect x="467.34" y="208.59" width="5.58" height="3.88" fill="#5ab354"/>
<rect x="472.92" y="208.59" width="5.58" height="3.88" fill="#5ab354"/>
<rect x="450.60" y="212.47" width="5.58" height="3.84" fill="#4470c8"/>
<rect x="456.18" y="212.47" width="5.58" height="3.84" fill="#4470c8"/>
<rect x="461.76" y="212.47" width="5.58" height="3.84" fill="#5ab354"/>
<rect x="450.60" y="216.31" width="5.58" height="3.75" fill="#f8f240"/>
<rect x="456.18" y="216.31" width="5.58" height="3.75" fill="#5ab354"/>
<rect x="467.34" y="216.31" width="5.58" height="3.75" fill="#edbd32"/>
<rect x="472.92" y="216.31" width="5.58" height="3.75" fill="#edbd32"/>
<rect x="450.60" y="220.06" width="5.58" height="3.70" fill="#5ab354"/>
<rect x="456.18" y="220.06" width="5.58" height="3.70" fill="#5ab354"/>
<rect x="461.76" y="220.06" width="5.58" height="3.70" fill="#5ab354"/>
<rect x="467.34" y="220.06" width="5.58" height="3.70" fill="#edbd32"/>
<rect x="472.92" y="220.06" width="5.58" height="3.70" fill="#edbd32"/>
<rect x="450.60" y="223.76" width="5.58" height="3.68" fill="#4470c8"/>
<rect x="456.18" y="223.76" width="5.58" height="3.68" fill="#6a2fb8"/>
<rect x="461.76" y="223.76" width="5.58" height="3.68" fill="#5ab354"/>
<rect x="467.34" y="223.76" width="5.58" height="3.68" fill="#f8f240"/>
<rect x="472.92" y="223.76" width="5.58" height="3.68" fill="#f8f240"/>
<rect x="450.60" y="227.44" width="5.58" height="3.67" fill="#edbd32"/>
<rect x="456.18" y="227.44" width="5.58" height="3.67" fill="#6a2fb8"/>
<rect x="461.76" y="227.44" width="5.58" height="3.67" fill="#f8f240"/>
<rect x="467.34" y="227.44" width="5.58" height="3.67" fill="#5ab354"/>
<rect x="472.92" y="227.44" width="5.58" height="3.67" fill="#5ab354"/>
<rect x="450.60" y="231.11" width="5.58" height="3.66" fill="#5ab354"/>
<rect x="456.18" y="231.11" width="5.58" height="3.66" fill="#6a2fb8"/>
<rect x="461.76" y="231.11" width="5.58" height="3.66" fill="#5ab354"/>
<rect x="467.34" y="231.11" width="5.58" height="3.66" fill="#5ab354"/>
<rect x="472.92" y="231.11" width="5.58" height="3.66" fill="#5ab354"/>
<text x="454.33" y="11.60" font-size="2.6" fill="#333" font-weight="bold" text-anchor="middle" textLength="8.35" lengthAdjust="spacingAndGlyphs" transform="rotate(-90 454.33 11.60)">HLA-B*5701</text>
<rect x="452.09" y="18.68" width="1.40" height="11.64" fill="#55463a" opacity="0.72"/>
<text x="454.47" y="39.95" font-size="3.0" fill="#2e2e2e" font-weight="bold" text-anchor="middle" textLength="8.68" lengthAdjust="spacingAndGlyphs" transform="rotate(-90 454.47 39.95)">sp-blood</text>
<text x="459.91" y="11.60" font-size="2.6" fill="#333" font-weight="bold" text-anchor="middle" textLength="8.35" lengthAdjust="spacingAndGlyphs" transform="rotate(-90 459.91 11.60)">HLA-B*5701</text>
<rect x="457.67" y="18.68" width="1.40" height="11.64" fill="#55463a" opacity="0.72"/>
<text x="460.05" y="39.95" font-size="3.0" fill="#2e2e2e" font-weight="bold" text-anchor="middle" textLength="8.68" lengthAdjust="spacingAndGlyphs" transform="rotate(-90 460.05 39.95)">sp-blood</text>
<text x="465.49" y="11.60" font-size="2.6" fill="#333" font-weight="bold" text-anchor="middle" textLength="8.35" lengthAdjust="spacingAndGlyphs" transform="rotate(-90 465.49 11.60)">HLA-B*5701</text>
<rect x="463.25" y="18.68" width="1.40" height="11.64" fill="#55463a" opacity="0.72"/>
<text x="465.63" y="39.95" font-size="3.0" fill="#2e2e2e" font-weight="bold" text-anchor="middle" textLength="8.68" lengthAdjust="spacingAndGlyphs" transform="rotate(-90 465.63 39.95)">sp-blood</text>
<text x="471.07" y="11.60" font-size="2.6" fill="#333" font-weight="bold" text-anchor="middle" textLength="8.35" lengthAdjust="spacingAndGlyphs" transform="rotate(-90 471.07 11.60)">HLA-B*5701</text>
<rect x="468.83" y="18.68" width="1.40" height="11.64" fill="#55463a" opacity="0.72"/>
<text x="471.21" y="39.95" font-size="3.0" fill="#2e2e2e" font-weight="bold" text-anchor="middle" textLength="8.68" lengthAdjust="spacingAndGlyphs" transform="rotate(-90 471.21 39.95)">sp-blood</text>
<text x="476.65" y="11.60" font-size="2.6" fill="#333" font-weight="bold" text-anchor="middle" textLength="8.35" lengthAdjust="spacingAndGlyphs" transform="rotate(-90 476.65 11.60)">HLA-B*5701</text>
<rect x="474.41" y="18.68" width="1.40" height="11.64" fill="#55463a" opacity="0.72"/>
<text x="476.79" y="39.95" font-size="3.0" fill="#2e2e2e" font-weight="bold" text-anchor="middle" textLength="8.68" lengthAdjust="spacingAndGlyphs" transform="rotate(-90 476.79 39.95)">sp-blood</text>
<rect x="458.07" y="49.50" width="1.80" height="1.61" fill="#d9ccf2" opacity="0.75"/>
<rect x="458.07" y="57.49" width="1.80" height="1.58" fill="#d9ccf2" opacity="0.75"/>
<rect x="458.07" y="61.42" width="1.80" height="1.56" fill="#d9ccf2" opacity="0.75"/>
<rect x="458.07" y="65.30" width="1.80" height="1.54" fill="#d9ccf2" opacity="0.75"/>
<rect x="458.07" y="76.78" width="1.80" height="1.52" fill="#d9ccf2" opacity="0.75"/>
<rect x="458.07" y="80.57" width="1.80" height="1.51" fill="#d9ccf2" opacity="0.75"/>
<rect x="458.07" y="88.14" width="1.80" height="1.52" fill="#d9ccf2" opacity="0.75"/>
<rect x="458.07" y="99.52" width="1.80" height="1.52" fill="#d9ccf2" opacity="0.75"/>
<rect x="458.07" y="103.33" width="1.80" height="1.52" fill="#d9ccf2" opacity="0.75"/>
<rect x="458.07" y="114.76" width="1.80" height="1.53" fill="#d9ccf2" opacity="0.75"/>
<rect x="458.07" y="118.59" width="1.80" height="1.53" fill="#d9ccf2" opacity="0.75"/>
<rect x="458.07" y="122.42" width="1.80" height="1.53" fill="#d9ccf2" opacity="0.75"/>
<rect x="458.07" y="126.24" width="1.80" height="1.52" fill="#d9ccf2" opacity="0.75"/>
<rect x="458.07" y="130.03" width="1.80" height="1.51" fill="#d9ccf2" opacity="0.75"/>
<rect x="458.07" y="141.37" width="1.80" height="1.52" fill="#d9ccf2" opacity="0.75"/>
<rect x="458.07" y="156.61" width="1.80" height="1.52" fill="#d9ccf2" opacity="0.75"/>
<rect x="458.07" y="160.42" width="1.80" height="1.52" fill="#d9ccf2" opacity="0.75"/>
<rect x="458.07" y="164.23" width="1.80" height="1.52" fill="#d9ccf2" opacity="0.75"/>
<rect x="458.07" y="205.91" width="1.80" height="1.53" fill="#d9ccf2" opacity="0.75"/>
<rect x="458.07" y="224.86" width="1.80" height="1.47" fill="#d9ccf2" opacity="0.75"/>
<rect x="458.07" y="228.54" width="1.80" height="1.47" fill="#d9ccf2" opacity="0.75"/>
<rect x="458.07" y="232.21" width="1.80" height="1.46" fill="#d9ccf2" opacity="0.75"/>
<text x="437.90" y="51.60" font-size="3.22" fill="#444" text-anchor="start" font-weight="normal" textLength="9.50" lengthAdjust="spacingAndGlyphs">B*0801</text>
<text x="437.90" y="55.59" font-size="3.19" fill="#444" text-anchor="start" font-weight="normal" textLength="9.50" lengthAdjust="spacingAndGlyphs">B*1301</text>
<text x="437.90" y="59.54" font-size="3.15" fill="#444" text-anchor="start" font-weight="normal" textLength="9.50" lengthAdjust="spacingAndGlyphs">B*1302</text>
<text x="437.90" y="63.44" font-size="3.12" fill="#444" text-anchor="start" font-weight="normal" textLength="9.50" lengthAdjust="spacingAndGlyphs">B*1401</text>
<text x="437.90" y="67.31" font-size="3.09" fill="#444" text-anchor="start" font-weight="normal" textLength="9.50" lengthAdjust="spacingAndGlyphs">B*1402</text>
<text x="437.90" y="71.15" font-size="3.06" fill="#444" text-anchor="start" font-weight="normal" textLength="9.50" lengthAdjust="spacingAndGlyphs">B*1501</text>
<text x="437.90" y="74.96" font-size="3.04" fill="#444" text-anchor="start" font-weight="normal" textLength="9.50" lengthAdjust="spacingAndGlyphs">B*1502</text>
<text x="437.90" y="78.75" font-size="3.03" fill="#444" text-anchor="start" font-weight="normal" textLength="9.50" lengthAdjust="spacingAndGlyphs">B*1503</text>
<text x="437.90" y="82.54" font-size="3.03" fill="#444" text-anchor="start" font-weight="normal" textLength="9.50" lengthAdjust="spacingAndGlyphs">B*1510</text>
<text x="437.90" y="86.32" font-size="3.03" fill="#444" text-anchor="start" font-weight="normal" textLength="9.50" lengthAdjust="spacingAndGlyphs">B*1512</text>
<text x="437.90" y="90.11" font-size="3.03" fill="#444" text-anchor="start" font-weight="normal" textLength="9.50" lengthAdjust="spacingAndGlyphs">B*1513</text>
<text x="437.90" y="93.91" font-size="3.03" fill="#444" text-anchor="start" font-weight="normal" textLength="9.50" lengthAdjust="spacingAndGlyphs">B*1516</text>
<text x="437.90" y="97.70" font-size="3.04" fill="#444" text-anchor="start" font-weight="normal" textLength="9.50" lengthAdjust="spacingAndGlyphs">B*1517</text>
<text x="437.90" y="101.50" font-size="3.04" fill="#444" text-anchor="start" font-weight="normal" textLength="9.50" lengthAdjust="spacingAndGlyphs">B*1518</text>
<text x="437.90" y="105.30" font-size="3.04" fill="#444" text-anchor="start" font-weight="normal" textLength="9.50" lengthAdjust="spacingAndGlyphs">B*1801</text>
<text x="437.90" y="109.11" font-size="3.04" fill="#444" text-anchor="start" font-weight="normal" textLength="9.50" lengthAdjust="spacingAndGlyphs">B*2702</text>
<text x="437.90" y="112.92" font-size="3.05" fill="#444" text-anchor="start" font-weight="normal" textLength="9.50" lengthAdjust="spacingAndGlyphs">B*2705</text>
<text x="437.90" y="116.75" font-size="3.06" fill="#444" text-anchor="start" font-weight="normal" textLength="9.50" lengthAdjust="spacingAndGlyphs">B*3501</text>
<text x="437.90" y="120.59" font-size="3.07" fill="#444" text-anchor="start" font-weight="normal" textLength="9.50" lengthAdjust="spacingAndGlyphs">B*3502</text>
<text x="437.90" y="124.41" font-size="3.06" fill="#444" text-anchor="start" font-weight="normal" textLength="9.50" lengthAdjust="spacingAndGlyphs">B*3503</text>
<text x="437.90" y="128.21" font-size="3.04" fill="#444" text-anchor="start" font-weight="normal" textLength="9.50" lengthAdjust="spacingAndGlyphs">B*3508</text>
<text x="437.90" y="131.99" font-size="3.02" fill="#444" text-anchor="start" font-weight="normal" textLength="9.50" lengthAdjust="spacingAndGlyphs">B*3701</text>
<text x="437.90" y="135.76" font-size="3.02" fill="#444" text-anchor="start" font-weight="normal" textLength="9.50" lengthAdjust="spacingAndGlyphs">B*3801</text>
<text x="437.90" y="139.54" font-size="3.03" fill="#444" text-anchor="start" font-weight="normal" textLength="9.50" lengthAdjust="spacingAndGlyphs">B*3901</text>
<text x="437.90" y="143.34" font-size="3.04" fill="#444" text-anchor="start" font-weight="normal" textLength="9.50" lengthAdjust="spacingAndGlyphs">B*4001</text>
<text x="437.90" y="147.16" font-size="3.05" fill="#444" text-anchor="start" font-weight="normal" textLength="9.50" lengthAdjust="spacingAndGlyphs">B*4002</text>
<text x="437.90" y="150.97" font-size="3.05" fill="#444" text-anchor="start" font-weight="normal" textLength="9.50" lengthAdjust="spacingAndGlyphs">B*4101</text>
<text x="437.90" y="154.79" font-size="3.05" fill="#444" text-anchor="start" font-weight="normal" textLength="9.50" lengthAdjust="spacingAndGlyphs">B*4201</text>
<text x="437.90" y="158.59" font-size="3.05" fill="#444" text-anchor="start" font-weight="normal" textLength="9.50" lengthAdjust="spacingAndGlyphs">B*4402</text>
<text x="437.90" y="162.40" font-size="3.04" fill="#444" text-anchor="start" font-weight="normal" textLength="9.50" lengthAdjust="spacingAndGlyphs">B*4403</text>
<text x="437.90" y="166.20" font-size="3.04" fill="#444" text-anchor="start" font-weight="normal" textLength="9.50" lengthAdjust="spacingAndGlyphs">B*4501</text>
<text x="437.90" y="169.99" font-size="3.03" fill="#444" text-anchor="start" font-weight="normal" textLength="9.50" lengthAdjust="spacingAndGlyphs">B*4601</text>
<text x="437.90" y="173.75" font-size="3.01" fill="#444" text-anchor="start" font-weight="normal" textLength="9.50" lengthAdjust="spacingAndGlyphs">B*4701</text>
<text x="437.90" y="177.50" font-size="3.00" fill="#444" text-anchor="start" font-weight="normal" textLength="9.50" lengthAdjust="spacingAndGlyphs">B*4801</text>
<text x="437.90" y="181.24" font-size="2.99" fill="#444" text-anchor="start" font-weight="normal" textLength="9.50" lengthAdjust="spacingAndGlyphs">B*4901</text>
<text x="437.90" y="185.00" font-size="3.01" fill="#444" text-anchor="start" font-weight="normal" textLength="9.50" lengthAdjust="spacingAndGlyphs">B*5001</text>
<text x="437.90" y="188.81" font-size="3.05" fill="#444" text-anchor="start" font-weight="normal" textLength="9.50" lengthAdjust="spacingAndGlyphs">B*5101</text>
<text x="437.90" y="192.65" font-size="3.08" fill="#444" text-anchor="start" font-weight="normal" textLength="9.50" lengthAdjust="spacingAndGlyphs">B*5201</text>
<text x="437.90" y="196.47" font-size="3.06" fill="#444" text-anchor="start" font-weight="normal" textLength="9.50" lengthAdjust="spacingAndGlyphs">B*5301</text>
<text x="437.90" y="200.27" font-size="3.04" fill="#444" text-anchor="start" font-weight="normal" textLength="9.50" lengthAdjust="spacingAndGlyphs">B*5401</text>
<text x="437.90" y="204.08" font-size="3.04" fill="#444" text-anchor="start" font-weight="normal" textLength="9.50" lengthAdjust="spacingAndGlyphs">B*5501</text>
<text x="437.90" y="207.90" font-size="3.06" fill="#444" text-anchor="start" font-weight="normal" textLength="9.50" lengthAdjust="spacingAndGlyphs">B*5601</text>
<text x="437.90" y="211.77" font-size="3.10" fill="#444" text-anchor="start" font-weight="normal" textLength="9.50" lengthAdjust="spacingAndGlyphs">B*5701</text>
<text x="437.90" y="215.62" font-size="3.07" fill="#444" text-anchor="start" font-weight="normal" textLength="9.50" lengthAdjust="spacingAndGlyphs">B*5703</text>
<text x="437.90" y="219.38" font-size="3.00" fill="#444" text-anchor="start" font-weight="normal" textLength="9.50" lengthAdjust="spacingAndGlyphs">B*5801</text>
<text x="437.90" y="223.09" font-size="2.96" fill="#444" text-anchor="start" font-weight="normal" textLength="9.50" lengthAdjust="spacingAndGlyphs">B*6701</text>
<text x="437.90" y="226.78" font-size="2.95" fill="#444" text-anchor="start" font-weight="normal" textLength="9.50" lengthAdjust="spacingAndGlyphs">B*7301</text>
<text x="437.90" y="230.45" font-size="2.94" fill="#444" text-anchor="start" font-weight="normal" textLength="9.50" lengthAdjust="spacingAndGlyphs">B*7801</text>
<text x="437.90" y="234.11" font-size="2.93" fill="#444" text-anchor="start" font-weight="normal" textLength="9.50" lengthAdjust="spacingAndGlyphs">B*8101</text>
<text x="437.90" y="237.75" font-size="2.91" fill="#444" text-anchor="start" font-weight="normal" textLength="9.50" lengthAdjust="spacingAndGlyphs">Total</text>
<text x="453.39" y="237.68" font-size="2.26" fill="#666" text-anchor="middle" font-weight="normal">26</text>
<text x="458.97" y="237.68" font-size="2.26" fill="#666" text-anchor="middle" font-weight="normal">26</text>
<text x="464.55" y="237.68" font-size="2.26" fill="#666" text-anchor="middle" font-weight="normal">26</text>
<text x="470.13" y="237.68" font-size="2.26" fill="#666" text-anchor="middle" font-weight="normal">26</text>
<text x="475.71" y="237.68" font-size="2.26" fill="#666" text-anchor="middle" font-weight="normal">26</text>
<line x1="437.40" y1="48.30" x2="450.60" y2="48.30" stroke="#b4b4b4" stroke-width="0.7"/>
<line x1="450.60" y1="48.30" x2="478.50" y2="48.30" stroke="#262626" stroke-width="0.7"/>
<line x1="437.40" y1="52.32" x2="450.60" y2="52.32" stroke="#b4b4b4" stroke-width="0.7"/>
<line x1="450.60" y1="52.32" x2="478.50" y2="52.32" stroke="#262626" stroke-width="0.7"/>
<line x1="437.40" y1="56.31" x2="450.60" y2="56.31" stroke="#b4b4b4" stroke-width="0.7"/>
<line x1="450.60" y1="56.31" x2="478.50" y2="56.31" stroke="#262626" stroke-width="0.7"/>
<line x1="437.40" y1="60.25" x2="450.60" y2="60.25" stroke="#b4b4b4" stroke-width="0.7"/>
<line x1="450.60" y1="60.25" x2="478.50" y2="60.25" stroke="#262626" stroke-width="0.7"/>
<line x1="437.40" y1="64.15" x2="450.60" y2="64.15" stroke="#b4b4b4" stroke-width="0.7"/>
<line x1="450.60" y1="64.15" x2="478.50" y2="64.15" stroke="#262626" stroke-width="0.7"/>
<line x1="437.40" y1="68.01" x2="450.60" y2="68.01" stroke="#b4b4b4" stroke-width="0.7"/>
<line x1="450.60" y1="68.01" x2="478.50" y2="68.01" stroke="#262626" stroke-width="0.7"/>
<line x1="437.40" y1="71.83" x2="450.60" y2="71.83" stroke="#b4b4b4" stroke-width="0.7"/>
<line x1="450.60" y1="71.83" x2="478.50" y2="71.83" stroke="#262626" stroke-width="0.7"/>
<line x1="437.40" y1="75.64" x2="450.60" y2="75.64" stroke="#b4b4b4" stroke-width="0.7"/>
<line x1="450.60" y1="75.64" x2="478.50" y2="75.64" stroke="#262626" stroke-width="0.7"/>
<line x1="437.40" y1="79.43" x2="450.60" y2="79.43" stroke="#b4b4b4" stroke-width="0.7"/>
<line x1="450.60" y1="79.43" x2="478.50" y2="79.43" stroke="#262626" stroke-width="0.7"/>
<line x1="437.40" y1="83.22" x2="450.60" y2="83.22" stroke="#b4b4b4" stroke-width="0.7"/>
<line x1="450.60" y1="83.22" x2="478.50" y2="83.22" stroke="#262626" stroke-width="0.7"/>
<line x1="437.40" y1="87.00" x2="450.60" y2="87.00" stroke="#b4b4b4" stroke-width="0.7"/>
<line x1="450.60" y1="87.00" x2="478.50" y2="87.00" stroke="#262626" stroke-width="0.7"/>
<line x1="437.40" y1="90.79" x2="450.60" y2="90.79" stroke="#b4b4b4" stroke-width="0.7"/>
<line x1="450.60" y1="90.79" x2="478.50" y2="90.79" stroke="#262626" stroke-width="0.7"/>
<line x1="437.40" y1="94.59" x2="450.60" y2="94.59" stroke="#b4b4b4" stroke-width="0.7"/>
<line x1="450.60" y1="94.59" x2="478.50" y2="94.59" stroke="#262626" stroke-width="0.7"/>
<line x1="437.40" y1="98.38" x2="450.60" y2="98.38" stroke="#b4b4b4" stroke-width="0.7"/>
<line x1="450.60" y1="98.38" x2="478.50" y2="98.38" stroke="#262626" stroke-width="0.7"/>
<line x1="437.40" y1="102.19" x2="450.60" y2="102.19" stroke="#b4b4b4" stroke-width="0.7"/>
<line x1="450.60" y1="102.19" x2="478.50" y2="102.19" stroke="#262626" stroke-width="0.7"/>
<line x1="437.40" y1="105.99" x2="450.60" y2="105.99" stroke="#b4b4b4" stroke-width="0.7"/>
<line x1="450.60" y1="105.99" x2="472.92" y2="105.99" stroke="#262626" stroke-width="0.7"/>
<line x1="472.92" y1="105.99" x2="478.50" y2="105.99" stroke="#8c8c8c" stroke-width="0.7"/>
<line x1="437.40" y1="109.80" x2="450.60" y2="109.80" stroke="#b4b4b4" stroke-width="0.7"/>
<line x1="450.60" y1="109.80" x2="478.50" y2="109.80" stroke="#262626" stroke-width="0.7"/>
<line x1="437.40" y1="113.61" x2="450.60" y2="113.61" stroke="#b4b4b4" stroke-width="0.7"/>
<line x1="450.60" y1="113.61" x2="478.50" y2="113.61" stroke="#262626" stroke-width="0.7"/>
<line x1="437.40" y1="117.44" x2="450.60" y2="117.44" stroke="#b4b4b4" stroke-width="0.7"/>
<line x1="450.60" y1="117.44" x2="478.50" y2="117.44" stroke="#262626" stroke-width="0.7"/>
<line x1="437.40" y1="121.28" x2="450.60" y2="121.28" stroke="#b4b4b4" stroke-width="0.7"/>
<line x1="450.60" y1="121.28" x2="478.50" y2="121.28" stroke="#262626" stroke-width="0.7"/>
<line x1="437.40" y1="125.10" x2="450.60" y2="125.10" stroke="#b4b4b4" stroke-width="0.7"/>
<line x1="450.60" y1="125.10" x2="478.50" y2="125.10" stroke="#262626" stroke-width="0.7"/>
<line x1="437.40" y1="128.90" x2="450.60" y2="128.90" stroke="#b4b4b4" stroke-width="0.7"/>
<line x1="450.60" y1="128.90" x2="478.50" y2="128.90" stroke="#262626" stroke-width="0.7"/>
<line x1="437.40" y1="132.67" x2="450.60" y2="132.67" stroke="#b4b4b4" stroke-width="0.7"/>
<line x1="450.60" y1="132.67" x2="478.50" y2="132.67" stroke="#262626" stroke-width="0.7"/>
<line x1="437.40" y1="136.44" x2="450.60" y2="136.44" stroke="#b4b4b4" stroke-width="0.7"/>
<line x1="450.60" y1="136.44" x2="478.50" y2="136.44" stroke="#262626" stroke-width="0.7"/>
<line x1="437.40" y1="140.22" x2="450.60" y2="140.22" stroke="#b4b4b4" stroke-width="0.7"/>
<line x1="450.60" y1="140.22" x2="478.50" y2="140.22" stroke="#262626" stroke-width="0.7"/>
<line x1="437.40" y1="144.03" x2="450.60" y2="144.03" stroke="#b4b4b4" stroke-width="0.7"/>
<line x1="450.60" y1="144.03" x2="478.50" y2="144.03" stroke="#262626" stroke-width="0.7"/>
<line x1="437.40" y1="147.85" x2="450.60" y2="147.85" stroke="#b4b4b4" stroke-width="0.7"/>
<line x1="450.60" y1="147.85" x2="478.50" y2="147.85" stroke="#262626" stroke-width="0.7"/>
<line x1="437.40" y1="151.66" x2="450.60" y2="151.66" stroke="#b4b4b4" stroke-width="0.7"/>
<line x1="450.60" y1="151.66" x2="478.50" y2="151.66" stroke="#262626" stroke-width="0.7"/>
<line x1="437.40" y1="155.47" x2="450.60" y2="155.47" stroke="#b4b4b4" stroke-width="0.7"/>
<line x1="450.60" y1="155.47" x2="478.50" y2="155.47" stroke="#262626" stroke-width="0.7"/>
<line x1="437.40" y1="159.28" x2="450.60" y2="159.28" stroke="#b4b4b4" stroke-width="0.7"/>
<line x1="450.60" y1="159.28" x2="478.50" y2="159.28" stroke="#262626" stroke-width="0.7"/>
<line x1="437.40" y1="163.09" x2="450.60" y2="163.09" stroke="#b4b4b4" stroke-width="0.7"/>
<line x1="450.60" y1="163.09" x2="478.50" y2="163.09" stroke="#262626" stroke-width="0.7"/>
<line x1="437.40" y1="166.88" x2="450.60" y2="166.88" stroke="#b4b4b4" stroke-width="0.7"/>
<line x1="450.60" y1="166.88" x2="478.50" y2="166.88" stroke="#262626" stroke-width="0.7"/>
<line x1="437.40" y1="170.67" x2="450.60" y2="170.67" stroke="#b4b4b4" stroke-width="0.7"/>
<line x1="450.60" y1="170.67" x2="478.50" y2="170.67" stroke="#262626" stroke-width="0.7"/>
<line x1="437.40" y1="174.43" x2="450.60" y2="174.43" stroke="#b4b4b4" stroke-width="0.7"/>
<line x1="450.60" y1="174.43" x2="478.50" y2="174.43" stroke="#262626" stroke-width="0.7"/>
<line x1="437.40" y1="178.17" x2="450.60" y2="178.17" stroke="#b4b4b4" stroke-width="0.7"/>
<line x1="450.60" y1="178.17" x2="478.50" y2="178.17" stroke="#262626" stroke-width="0.7"/>
<line x1="437.40" y1="181.92" x2="450.60" y2="181.92" stroke="#b4b4b4" stroke-width="0.7"/>
<line x1="450.60" y1="181.92" x2="478.50" y2="181.92" stroke="#262626" stroke-width="0.7"/>
<line x1="437.40" y1="185.68" x2="450.60" y2="185.68" stroke="#b4b4b4" stroke-width="0.7"/>
<line x1="450.60" y1="185.68" x2="478.50" y2="185.68" stroke="#262626" stroke-width="0.7"/>
<line x1="437.40" y1="189.49" x2="450.60" y2="189.49" stroke="#b4b4b4" stroke-width="0.7"/>
<line x1="450.60" y1="189.49" x2="478.50" y2="189.49" stroke="#262626" stroke-width="0.7"/>
<line x1="437.40" y1="193.34" x2="450.60" y2="193.34" stroke="#b4b4b4" stroke-width="0.7"/>
<line x1="450.60" y1="193.34" x2="478.50" y2="193.34" stroke="#262626" stroke-width="0.7"/>
<line x1="437.40" y1="197.16" x2="450.60" y2="197.16" stroke="#b4b4b4" stroke-width="0.7"/>
<line x1="450.60" y1="197.16" x2="478.50" y2="197.16" stroke="#262626" stroke-width="0.7"/>
<line x1="437.40" y1="200.96" x2="450.60" y2="200.96" stroke="#b4b4b4" stroke-width="0.7"/>
<line x1="450.60" y1="200.96" x2="478.50" y2="200.96" stroke="#262626" stroke-width="0.7"/>
<line x1="437.40" y1="204.76" x2="450.60" y2="204.76" stroke="#b4b4b4" stroke-width="0.7"/>
<line x1="450.60" y1="204.76" x2="478.50" y2="204.76" stroke="#262626" stroke-width="0.7"/>
<line x1="437.40" y1="208.59" x2="450.60" y2="208.59" stroke="#b4b4b4" stroke-width="0.7"/>
<line x1="450.60" y1="208.59" x2="478.50" y2="208.59" stroke="#262626" stroke-width="0.7"/>
<line x1="437.40" y1="212.47" x2="450.60" y2="212.47" stroke="#b4b4b4" stroke-width="0.7"/>
<line x1="450.60" y1="212.47" x2="478.50" y2="212.47" stroke="#262626" stroke-width="0.7"/>
<line x1="437.40" y1="216.31" x2="450.60" y2="216.31" stroke="#b4b4b4" stroke-width="0.7"/>
<line x1="450.60" y1="216.31" x2="478.50" y2="216.31" stroke="#262626" stroke-width="0.7"/>
<line x1="437.40" y1="220.06" x2="450.60" y2="220.06" stroke="#b4b4b4" stroke-width="0.7"/>
<line x1="450.60" y1="220.06" x2="478.50" y2="220.06" stroke="#262626" stroke-width="0.7"/>
<line x1="437.40" y1="223.76" x2="450.60" y2="223.76" stroke="#b4b4b4" stroke-width="0.7"/>
<line x1="450.60" y1="223.76" x2="478.50" y2="223.76" stroke="#262626" stroke-width="0.7"/>
<line x1="437.40" y1="227.44" x2="450.60" y2="227.44" stroke="#b4b4b4" stroke-width="0.7"/>
<line x1="450.60" y1="227.44" x2="478.50" y2="227.44" stroke="#262626" stroke-width="0.7"/>
<line x1="437.40" y1="231.11" x2="450.60" y2="231.11" stroke="#b4b4b4" stroke-width="0.7"/>
<line x1="450.60" y1="231.11" x2="478.50" y2="231.11" stroke="#262626" stroke-width="0.7"/>
<line x1="437.40" y1="234.77" x2="450.60" y2="234.77" stroke="#b4b4b4" stroke-width="0.7"/>
<line x1="450.60" y1="234.77" x2="478.50" y2="234.77" stroke="#262626" stroke-width="0.7"/>
<line x1="437.40" y1="238.41" x2="450.60" y2="238.41" stroke="#b4b4b4" stroke-width="0.7"/>
<line x1="450.60" y1="238.41" x2="478.50" y2="238.41" stroke="#8c8c8c" stroke-width="0.7"/>
<line x1="437.40" y1="5.80" x2="478.50" y2="5.80" stroke="#9a9a9a" stroke-width="0.7"/>
<line x1="437.40" y1="17.40" x2="478.50" y2="17.40" stroke="#9a9a9a" stroke-width="0.7"/>
<line x1="437.40" y1="31.60" x2="478.50" y2="31.60" stroke="#9a9a9a" stroke-width="0.7"/>
<line x1="437.40" y1="5.80" x2="437.40" y2="238.41" stroke="#b4b4b4" stroke-width="0.7"/>
<line x1="450.60" y1="5.80" x2="450.60" y2="48.30" stroke="#ababab" stroke-width="0.7"/>
<line x1="450.60" y1="48.30" x2="450.60" y2="238.41" stroke="#262626" stroke-width="0.7"/>
<line x1="456.18" y1="5.80" x2="456.18" y2="48.30" stroke="#ababab" stroke-width="0.7"/>
<line x1="456.18" y1="48.30" x2="456.18" y2="238.41" stroke="#262626" stroke-width="0.7"/>
<line x1="461.76" y1="5.80" x2="461.76" y2="48.30" stroke="#ababab" stroke-width="0.7"/>
<line x1="461.76" y1="48.30" x2="461.76" y2="238.41" stroke="#262626" stroke-width="0.7"/>
<line x1="467.34" y1="5.80" x2="467.34" y2="48.30" stroke="#ababab" stroke-width="0.7"/>
<line x1="467.34" y1="48.30" x2="467.34" y2="238.41" stroke="#262626" stroke-width="0.7"/>
<line x1="472.92" y1="5.80" x2="472.92" y2="48.30" stroke="#ababab" stroke-width="0.7"/>
<line x1="472.92" y1="48.30" x2="472.92" y2="238.41" stroke="#262626" stroke-width="0.7"/>
<line x1="478.50" y1="5.80" x2="478.50" y2="48.30" stroke="#ababab" stroke-width="0.7"/>
<line x1="478.50" y1="48.30" x2="478.50" y2="238.41" stroke="#262626" stroke-width="0.7"/>
<rect x="492.59" y="18.00" width="4.60" height="13.00" fill="#dfe5ee"/>
<rect x="498.17" y="18.00" width="4.60" height="13.00" fill="#efdcc6"/>
<rect x="503.75" y="18.00" width="4.60" height="13.00" fill="#dfe5ee"/>
<rect x="509.33" y="18.00" width="4.60" height="13.00" fill="#efdcc6"/>
<rect x="514.91" y="18.00" width="4.60" height="13.00" fill="#efdcc6"/>
<rect x="492.10" y="48.30" width="5.58" height="4.03" fill="#4470c8"/>
<rect x="497.68" y="48.30" width="5.58" height="4.03" fill="#6a2fb8"/>
<rect x="503.26" y="48.30" width="5.58" height="4.03" fill="#5ab354"/>
<rect x="508.84" y="48.30" width="5.58" height="4.03" fill="#5ab354"/>
<rect x="514.42" y="48.30" width="5.58" height="4.03" fill="#5ab354"/>
<rect x="492.10" y="52.32" width="5.58" height="3.99" fill="#6a2fb8"/>
<rect x="497.68" y="52.32" width="5.58" height="3.99" fill="#6a2fb8"/>
<rect x="503.26" y="52.32" width="5.58" height="3.99" fill="#4470c8"/>
<rect x="508.84" y="52.32" width="5.58" height="3.99" fill="#5ab354"/>
<rect x="514.42" y="52.32" width="5.58" height="3.99" fill="#5ab354"/>
<rect x="492.10" y="56.31" width="5.58" height="3.94" fill="#4470c8"/>
<rect x="497.68" y="56.31" width="5.58" height="3.94" fill="#f8f240"/>
<rect x="503.26" y="56.31" width="5.58" height="3.94" fill="#5ab354"/>
<rect x="508.84" y="56.31" width="5.58" height="3.94" fill="#5ab354"/>
<rect x="514.42" y="56.31" width="5.58" height="3.94" fill="#edbd32"/>
<rect x="492.10" y="60.25" width="5.58" height="3.90" fill="#4470c8"/>
<rect x="497.68" y="60.25" width="5.58" height="3.90" fill="#4470c8"/>
<rect x="503.26" y="60.25" width="5.58" height="3.90" fill="#5ab354"/>
<rect x="508.84" y="60.25" width="5.58" height="3.90" fill="#5ab354"/>
<rect x="514.42" y="60.25" width="5.58" height="3.90" fill="#5ab354"/>
<rect x="492.10" y="64.15" width="5.58" height="3.86" fill="#4470c8"/>
<rect x="497.68" y="64.15" width="5.58" height="3.86" fill="#edbd32"/>
<rect x="503.26" y="64.15" width="5.58" height="3.86" fill="#5ab354"/>
<rect x="508.84" y="64.15" width="5.58" height="3.86" fill="#5ab354"/>
<rect x="514.42" y="64.15" width="5.58" height="3.86" fill="#5ab354"/>
<rect x="492.10" y="68.01" width="5.58" height="3.83" fill="#5ab354"/>
<rect x="497.68" y="68.01" width="5.58" height="3.83" fill="#6a2fb8"/>
<rect x="503.26" y="68.01" width="5.58" height="3.83" fill="#edbd32"/>
<rect x="508.84" y="68.01" width="5.58" height="3.83" fill="#4470c8"/>
<rect x="514.42" y="68.01" width="5.58" height="3.83" fill="#4470c8"/>
<rect x="492.10" y="71.83" width="5.58" height="3.81" fill="#6a2fb8"/>
<rect x="497.68" y="71.83" width="5.58" height="3.81" fill="#4470c8"/>
<rect x="503.26" y="71.83" width="5.58" height="3.81" fill="#6a2fb8"/>
<rect x="508.84" y="71.83" width="5.58" height="3.81" fill="#5ab354"/>
<rect x="514.42" y="71.83" width="5.58" height="3.81" fill="#5ab354"/>
<rect x="492.10" y="75.64" width="5.58" height="3.79" fill="#6a2fb8"/>
<rect x="497.68" y="75.64" width="5.58" height="3.79" fill="#5ab354"/>
<rect x="503.26" y="75.64" width="5.58" height="3.79" fill="#4470c8"/>
<rect x="508.84" y="75.64" width="5.58" height="3.79" fill="#4470c8"/>
<rect x="514.42" y="75.64" width="5.58" height="3.79" fill="#4470c8"/>
<rect x="492.10" y="79.43" width="5.58" height="3.79" fill="#6a2fb8"/>
<rect x="497.68" y="79.43" width="5.58" height="3.79" fill="#6a2fb8"/>
<rect x="503.26" y="79.43" width="5.58" height="3.79" fill="#4470c8"/>
<rect x="508.84" y="79.43" width="5.58" height="3.79" fill="#4470c8"/>
<rect x="514.42" y="79.43" width="5.58" height="3.79" fill="#4470c8"/>
<rect x="492.10" y="83.22" width="5.58" height="3.79" fill="#6a2fb8"/>
<rect x="497.68" y="83.22" width="5.58" height="3.79" fill="#6a2fb8"/>
<rect x="503.26" y="83.22" width="5.58" height="3.79" fill="#6a2fb8"/>
<rect x="508.84" y="83.22" width="5.58" height="3.79" fill="#edbd32"/>
<rect x="514.42" y="83.22" width="5.58" height="3.79" fill="#edbd32"/>
<rect x="492.10" y="87.00" width="5.58" height="3.79" fill="#4470c8"/>
<rect x="497.68" y="87.00" width="5.58" height="3.79" fill="#4470c8"/>
<rect x="503.26" y="87.00" width="5.58" height="3.79" fill="#5ab354"/>
<rect x="508.84" y="87.00" width="5.58" height="3.79" fill="#5ab354"/>
<rect x="514.42" y="87.00" width="5.58" height="3.79" fill="#5ab354"/>
<rect x="492.10" y="90.79" width="5.58" height="3.79" fill="#4470c8"/>
<rect x="497.68" y="90.79" width="5.58" height="3.79" fill="#6a2fb8"/>
<rect x="503.26" y="90.79" width="5.58" height="3.79" fill="#5ab354"/>
<rect x="508.84" y="90.79" width="5.58" height="3.79" fill="#5ab354"/>
<rect x="514.42" y="90.79" width="5.58" height="3.79" fill="#5ab354"/>
<rect x="492.10" y="94.59" width="5.58" height="3.80" fill="#4470c8"/>
<rect x="497.68" y="94.59" width="5.58" height="3.80" fill="#6a2fb8"/>
<rect x="503.26" y="94.59" width="5.58" height="3.80" fill="#5ab354"/>
<rect x="508.84" y="94.59" width="5.58" height="3.80" fill="#5ab354"/>
<rect x="514.42" y="94.59" width="5.58" height="3.80" fill="#5ab354"/>
<rect x="492.10" y="98.38" width="5.58" height="3.80" fill="#4470c8"/>
<rect x="497.68" y="98.38" width="5.58" height="3.80" fill="#6a2fb8"/>
<rect x="503.26" y="98.38" width="5.58" height="3.80" fill="#5ab354"/>
<rect x="508.84" y="98.38" width="5.58" height="3.80" fill="#4470c8"/>
<rect x="514.42" y="98.38" width="5.58" height="3.80" fill="#4470c8"/>
<rect x="492.10" y="102.19" width="5.58" height="3.80" fill="#6a2fb8"/>
<rect x="497.68" y="102.19" width="5.58" height="3.80" fill="#4470c8"/>
<rect x="503.26" y="102.19" width="5.58" height="3.80" fill="#4470c8"/>
<rect x="508.84" y="102.19" width="5.58" height="3.80" fill="#4470c8"/>
<rect x="514.42" y="102.19" width="5.58" height="3.80" fill="#4470c8"/>
<rect x="492.10" y="105.99" width="5.58" height="3.81" fill="#6a2fb8"/>
<rect x="497.68" y="105.99" width="5.58" height="3.81" fill="#6a2fb8"/>
<rect x="503.26" y="105.99" width="5.58" height="3.81" fill="#6a2fb8"/>
<rect x="508.84" y="105.99" width="5.58" height="3.81" fill="#5ab354"/>
<rect x="514.42" y="105.99" width="5.58" height="3.81" fill="#5ab354"/>
<text x="495.83" y="11.60" font-size="2.6" fill="#333" font-weight="bold" text-anchor="middle" textLength="8.35" lengthAdjust="spacingAndGlyphs" transform="rotate(-90 495.83 11.60)">HLA-B*5701</text>
<rect x="493.59" y="18.68" width="1.40" height="11.64" fill="#55463a" opacity="0.72"/>
<text x="495.97" y="39.95" font-size="3.0" fill="#2e2e2e" font-weight="bold" text-anchor="middle" textLength="8.68" lengthAdjust="spacingAndGlyphs" transform="rotate(-90 495.97 39.95)">sp-blood</text>
<text x="501.41" y="11.60" font-size="2.6" fill="#333" font-weight="bold" text-anchor="middle" textLength="8.35" lengthAdjust="spacingAndGlyphs" transform="rotate(-90 501.41 11.60)">HLA-B*5701</text>
<rect x="499.17" y="18.68" width="1.40" height="11.64" fill="#55463a" opacity="0.72"/>
<text x="501.55" y="39.95" font-size="3.0" fill="#2e2e2e" font-weight="bold" text-anchor="middle" textLength="8.68" lengthAdjust="spacingAndGlyphs" transform="rotate(-90 501.55 39.95)">sp-blood</text>
<text x="506.99" y="11.60" font-size="2.6" fill="#333" font-weight="bold" text-anchor="middle" textLength="8.35" lengthAdjust="spacingAndGlyphs" transform="rotate(-90 506.99 11.60)">HLA-B*5701</text>
<rect x="504.75" y="18.68" width="1.40" height="11.64" fill="#55463a" opacity="0.72"/>
<text x="507.13" y="39.95" font-size="3.0" fill="#2e2e2e" font-weight="bold" text-anchor="middle" textLength="8.68" lengthAdjust="spacingAndGlyphs" transform="rotate(-90 507.13 39.95)">sp-blood</text>
<text x="512.57" y="11.60" font-size="2.6" fill="#333" font-weight="bold" text-anchor="middle" textLength="8.35" lengthAdjust="spacingAndGlyphs" transform="rotate(-90 512.57 11.60)">HLA-B*5701</text>
<rect x="510.33" y="18.68" width="1.40" height="11.64" fill="#55463a" opacity="0.72"/>
<text x="512.71" y="39.95" font-size="3.0" fill="#2e2e2e" font-weight="bold" text-anchor="middle" textLength="8.68" lengthAdjust="spacingAndGlyphs" transform="rotate(-90 512.71 39.95)">sp-blood</text>
<text x="518.15" y="11.60" font-size="2.6" fill="#333" font-weight="bold" text-anchor="middle" textLength="8.35" lengthAdjust="spacingAndGlyphs" transform="rotate(-90 518.15 11.60)">HLA-B*5701</text>
<rect x="515.91" y="18.68" width="1.40" height="11.64" fill="#55463a" opacity="0.72"/>
<text x="518.29" y="39.95" font-size="3.0" fill="#2e2e2e" font-weight="bold" text-anchor="middle" textLength="8.68" lengthAdjust="spacingAndGlyphs" transform="rotate(-90 518.29 39.95)">sp-blood</text>
<rect x="499.57" y="49.50" width="1.80" height="1.61" fill="#d9ccf2" opacity="0.75"/>
<rect x="499.57" y="53.52" width="1.80" height="1.59" fill="#d9ccf2" opacity="0.75"/>
<rect x="499.57" y="69.15" width="1.80" height="1.53" fill="#d9ccf2" opacity="0.75"/>
<rect x="499.57" y="80.57" width="1.80" height="1.51" fill="#d9ccf2" opacity="0.75"/>
<rect x="499.57" y="84.35" width="1.80" height="1.51" fill="#d9ccf2" opacity="0.75"/>
<rect x="499.57" y="91.93" width="1.80" height="1.52" fill="#d9ccf2" opacity="0.75"/>
<rect x="499.57" y="95.73" width="1.80" height="1.52" fill="#d9ccf2" opacity="0.75"/>
<rect x="499.57" y="99.52" width="1.80" height="1.52" fill="#d9ccf2" opacity="0.75"/>
<rect x="499.57" y="107.13" width="1.80" height="1.52" fill="#d9ccf2" opacity="0.75"/>
<text x="479.00" y="51.60" font-size="3.22" fill="#444" text-anchor="start" font-weight="normal" textLength="10.00" lengthAdjust="spacingAndGlyphs">Cw*0102</text>
<text x="479.00" y="55.59" font-size="3.19" fill="#444" text-anchor="start" font-weight="normal" textLength="10.00" lengthAdjust="spacingAndGlyphs">Cw*0202</text>
<text x="479.00" y="59.54" font-size="3.15" fill="#444" text-anchor="start" font-weight="normal" textLength="10.00" lengthAdjust="spacingAndGlyphs">Cw*0303</text>
<text x="479.00" y="63.44" font-size="3.12" fill="#444" text-anchor="start" font-weight="normal" textLength="10.00" lengthAdjust="spacingAndGlyphs">Cw*0304</text>
<text x="479.00" y="67.31" font-size="3.09" fill="#444" text-anchor="start" font-weight="normal" textLength="10.00" lengthAdjust="spacingAndGlyphs">Cw*0401</text>
<text x="479.00" y="71.15" font-size="3.06" fill="#444" text-anchor="start" font-weight="normal" textLength="10.00" lengthAdjust="spacingAndGlyphs">Cw*0501</text>
<text x="479.00" y="74.96" font-size="3.04" fill="#444" text-anchor="start" font-weight="normal" textLength="10.00" lengthAdjust="spacingAndGlyphs">Cw*0602</text>
<text x="479.00" y="78.75" font-size="3.03" fill="#444" text-anchor="start" font-weight="normal" textLength="10.00" lengthAdjust="spacingAndGlyphs">Cw*0701</text>
<text x="479.00" y="82.54" font-size="3.03" fill="#444" text-anchor="start" font-weight="normal" textLength="10.00" lengthAdjust="spacingAndGlyphs">Cw*0702</text>
<text x="479.00" y="86.32" font-size="3.03" fill="#444" text-anchor="start" font-weight="normal" textLength="10.00" lengthAdjust="spacingAndGlyphs">Cw*0801</text>
<text x="479.00" y="90.11" font-size="3.03" fill="#444" text-anchor="start" font-weight="normal" textLength="10.00" lengthAdjust="spacingAndGlyphs">Cw*1203</text>
<text x="479.00" y="93.91" font-size="3.03" fill="#444" text-anchor="start" font-weight="normal" textLength="10.00" lengthAdjust="spacingAndGlyphs">Cw*1402</text>
<text x="479.00" y="97.70" font-size="3.04" fill="#444" text-anchor="start" font-weight="normal" textLength="10.00" lengthAdjust="spacingAndGlyphs">Cw*1502</text>
<text x="479.00" y="101.50" font-size="3.04" fill="#444" text-anchor="start" font-weight="normal" textLength="10.00" lengthAdjust="spacingAndGlyphs">Cw*1601</text>
<text x="479.00" y="105.30" font-size="3.04" fill="#444" text-anchor="start" font-weight="normal" textLength="10.00" lengthAdjust="spacingAndGlyphs">Cw*1701</text>
<text x="479.00" y="109.11" font-size="3.04" fill="#444" text-anchor="start" font-weight="normal" textLength="10.00" lengthAdjust="spacingAndGlyphs">Cw*1802</text>
<text x="479.00" y="112.92" font-size="3.05" fill="#444" text-anchor="start" font-weight="normal" textLength="10.00" lengthAdjust="spacingAndGlyphs">Total</text>
<text x="494.89" y="112.85" font-size="2.36" fill="#666" text-anchor="middle" font-weight="normal">26</text>
<text x="500.47" y="112.85" font-size="2.36" fill="#666" text-anchor="middle" font-weight="normal">26</text>
<text x="506.05" y="112.85" font-size="2.36" fill="#666" text-anchor="middle" font-weight="normal">26</text>
<text x="511.63" y="112.85" font-size="2.36" fill="#666" text-anchor="middle" font-weight="normal">26</text>
<text x="517.21" y="112.85" font-size="2.36" fill="#666" text-anchor="middle" font-weight="normal">26</text>
<line x1="478.50" y1="48.30" x2="492.10" y2="48.30" stroke="#b4b4b4" stroke-width="0.7"/>
<line x1="492.10" y1="48.30" x2="520.00" y2="48.30" stroke="#262626" stroke-width="0.7"/>
<line x1="478.50" y1="52.32" x2="492.10" y2="52.32" stroke="#b4b4b4" stroke-width="0.7"/>
<line x1="492.10" y1="52.32" x2="520.00" y2="52.32" stroke="#262626" stroke-width="0.7"/>
<line x1="478.50" y1="56.31" x2="492.10" y2="56.31" stroke="#b4b4b4" stroke-width="0.7"/>
<line x1="492.10" y1="56.31" x2="520.00" y2="56.31" stroke="#262626" stroke-width="0.7"/>
<line x1="478.50" y1="60.25" x2="492.10" y2="60.25" stroke="#b4b4b4" stroke-width="0.7"/>
<line x1="492.10" y1="60.25" x2="520.00" y2="60.25" stroke="#262626" stroke-width="0.7"/>
<line x1="478.50" y1="64.15" x2="492.10" y2="64.15" stroke="#b4b4b4" stroke-width="0.7"/>
<line x1="492.10" y1="64.15" x2="520.00" y2="64.15" stroke="#262626" stroke-width="0.7"/>
<line x1="478.50" y1="68.01" x2="492.10" y2="68.01" stroke="#b4b4b4" stroke-width="0.7"/>
<line x1="492.10" y1="68.01" x2="520.00" y2="68.01" stroke="#262626" stroke-width="0.7"/>
<line x1="478.50" y1="71.83" x2="492.10" y2="71.83" stroke="#b4b4b4" stroke-width="0.7"/>
<line x1="492.10" y1="71.83" x2="520.00" y2="71.83" stroke="#262626" stroke-width="0.7"/>
<line x1="478.50" y1="75.64" x2="492.10" y2="75.64" stroke="#b4b4b4" stroke-width="0.7"/>
<line x1="492.10" y1="75.64" x2="520.00" y2="75.64" stroke="#262626" stroke-width="0.7"/>
<line x1="478.50" y1="79.43" x2="492.10" y2="79.43" stroke="#b4b4b4" stroke-width="0.7"/>
<line x1="492.10" y1="79.43" x2="520.00" y2="79.43" stroke="#262626" stroke-width="0.7"/>
<line x1="478.50" y1="83.22" x2="492.10" y2="83.22" stroke="#b4b4b4" stroke-width="0.7"/>
<line x1="492.10" y1="83.22" x2="520.00" y2="83.22" stroke="#262626" stroke-width="0.7"/>
<line x1="478.50" y1="87.00" x2="492.10" y2="87.00" stroke="#b4b4b4" stroke-width="0.7"/>
<line x1="492.10" y1="87.00" x2="520.00" y2="87.00" stroke="#262626" stroke-width="0.7"/>
<line x1="478.50" y1="90.79" x2="492.10" y2="90.79" stroke="#b4b4b4" stroke-width="0.7"/>
<line x1="492.10" y1="90.79" x2="520.00" y2="90.79" stroke="#262626" stroke-width="0.7"/>
<line x1="478.50" y1="94.59" x2="492.10" y2="94.59" stroke="#b4b4b4" stroke-width="0.7"/>
<line x1="492.10" y1="94.59" x2="520.00" y2="94.59" stroke="#262626" stroke-width="0.7"/>
<line x1="478.50" y1="98.38" x2="492.10" y2="98.38" stroke="#b4b4b4" stroke-width="0.7"/>
<line x1="492.10" y1="98.38" x2="520.00" y2="98.38" stroke="#262626" stroke-width="0.7"/>
<line x1="478.50" y1="102.19" x2="492.10" y2="102.19" stroke="#b4b4b4" stroke-width="0.7"/>
<line x1="492.10" y1="102.19" x2="520.00" y2="102.19" stroke="#262626" stroke-width="0.7"/>
<line x1="478.50" y1="105.99" x2="492.10" y2="105.99" stroke="#b4b4b4" stroke-width="0.7"/>
<line x1="492.10" y1="105.99" x2="520.00" y2="105.99" stroke="#262626" stroke-width="0.7"/>
<line x1="478.50" y1="109.80" x2="492.10" y2="109.80" stroke="#b4b4b4" stroke-width="0.7"/>
<line x1="492.10" y1="109.80" x2="520.00" y2="109.80" stroke="#262626" stroke-width="0.7"/>
<line x1="478.50" y1="113.61" x2="492.10" y2="113.61" stroke="#b4b4b4" stroke-width="0.7"/>
<line x1="492.10" y1="113.61" x2="520.00" y2="113.61" stroke="#8c8c8c" stroke-width="0.7"/>
<line x1="478.50" y1="5.80" x2="520.00" y2="5.80" stroke="#9a9a9a" stroke-width="0.7"/>
<line x1="478.50" y1="17.40" x2="520.00" y2="17.40" stroke="#9a9a9a" stroke-width="0.7"/>
<line x1="478.50" y1="31.60" x2="520.00" y2="31.60" stroke="#9a9a9a" stroke-width="0.7"/>
<line x1="478.50" y1="5.80" x2="478.50" y2="113.61" stroke="#b4b4b4" stroke-width="0.7"/>
<line x1="492.10" y1="5.80" x2="492.10" y2="48.30" stroke="#ababab" stroke-width="0.7"/>
<line x1="492.10" y1="48.30" x2="492.10" y2="113.61" stroke="#262626" stroke-width="0.7"/>
<line x1="497.68" y1="5.80" x2="497.68" y2="48.30" stroke="#ababab" stroke-width="0.7"/>
<line x1="497.68" y1="48.30" x2="497.68" y2="113.61" stroke="#262626" stroke-width="0.7"/>
<line x1="503.26" y1="5.80" x2="503.26" y2="48.30" stroke="#ababab" stroke-width="0.7"/>
<line x1="503.26" y1="48.30" x2="503.26" y2="113.61" stroke="#262626" stroke-width="0.7"/>
<line x1="508.84" y1="5.80" x2="508.84" y2="48.30" stroke="#ababab" stroke-width="0.7"/>
<line x1="508.84" y1="48.30" x2="508.84" y2="113.61" stroke="#262626" stroke-width="0.7"/>
<line x1="514.42" y1="5.80" x2="514.42" y2="48.30" stroke="#ababab" stroke-width="0.7"/>
<line x1="514.42" y1="48.30" x2="514.42" y2="113.61" stroke="#262626" stroke-width="0.7"/>
<line x1="520.00" y1="5.80" x2="520.00" y2="48.30" stroke="#ababab" stroke-width="0.7"/>
<line x1="520.00" y1="48.30" x2="520.00" y2="113.61" stroke="#262626" stroke-width="0.7"/>
<line x1="0.00" y1="105.89" x2="15.70" y2="105.89" stroke="#8a8a8a" stroke-width="0.6"/>
<line x1="0.00" y1="110.57" x2="15.70" y2="110.57" stroke="#8a8a8a" stroke-width="0.6"/>
<line x1="0.00" y1="115.26" x2="15.70" y2="115.26" stroke="#8a8a8a" stroke-width="0.6"/>
<line x1="0.00" y1="119.95" x2="15.70" y2="119.95" stroke="#8a8a8a" stroke-width="0.6"/>
<line x1="0.00" y1="124.63" x2="15.70" y2="124.63" stroke="#8a8a8a" stroke-width="0.6"/>
<line x1="0.00" y1="129.30" x2="15.70" y2="129.30" stroke="#8a8a8a" stroke-width="0.6"/>
<line x1="0.00" y1="133.95" x2="15.70" y2="133.95" stroke="#8a8a8a" stroke-width="0.6"/>
<line x1="0.00" y1="138.55" x2="15.70" y2="138.55" stroke="#8a8a8a" stroke-width="0.6"/>
<line x1="0.00" y1="143.08" x2="15.70" y2="143.08" stroke="#8a8a8a" stroke-width="0.6"/>
<line x1="0.00" y1="147.54" x2="15.70" y2="147.54" stroke="#8a8a8a" stroke-width="0.6"/>
<line x1="0.00" y1="151.93" x2="15.70" y2="151.93" stroke="#8a8a8a" stroke-width="0.6"/>
<line x1="0.00" y1="156.30" x2="15.70" y2="156.30" stroke="#8a8a8a" stroke-width="0.6"/>
<line x1="0.00" y1="160.73" x2="15.70" y2="160.73" stroke="#8a8a8a" stroke-width="0.6"/>
<line x1="0.00" y1="165.24" x2="15.70" y2="165.24" stroke="#8a8a8a" stroke-width="0.6"/>
<line x1="0.00" y1="169.73" x2="15.70" y2="169.73" stroke="#8a8a8a" stroke-width="0.6"/>
<line x1="0.00" y1="174.20" x2="15.70" y2="174.20" stroke="#8a8a8a" stroke-width="0.6"/>
<line x1="0.00" y1="178.64" x2="15.70" y2="178.64" stroke="#8a8a8a" stroke-width="0.6"/>
<line x1="0.00" y1="183.13" x2="15.70" y2="183.13" stroke="#8a8a8a" stroke-width="0.6"/>
<line x1="0.00" y1="187.74" x2="15.70" y2="187.74" stroke="#8a8a8a" stroke-width="0.6"/>
<line x1="0.00" y1="192.37" x2="15.70" y2="192.37" stroke="#8a8a8a" stroke-width="0.6"/>
<line x1="0.00" y1="197.00" x2="15.70" y2="197.00" stroke="#8a8a8a" stroke-width="0.6"/>
<line x1="0.00" y1="201.61" x2="15.70" y2="201.61" stroke="#8a8a8a" stroke-width="0.6"/>
<text x="14.50" y="5.00" font-size="5.90" fill="#111" text-anchor="start" font-weight="bold" textLength="4.8" lengthAdjust="spacingAndGlyphs">A</text>
<text x="133.80" y="4.85" font-size="5.90" fill="#111" text-anchor="start" font-weight="bold" textLength="4.5" lengthAdjust="spacingAndGlyphs">B</text>
<text x="265.80" y="5.00" font-size="5.90" fill="#111" text-anchor="start" font-weight="bold" textLength="4.7" lengthAdjust="spacingAndGlyphs">C</text>
<text x="395.90" y="4.90" font-size="5.90" fill="#111" text-anchor="start" font-weight="bold" textLength="4.9" lengthAdjust="spacingAndGlyphs">D</text>
<text x="479.80" y="116.40" font-size="2.40" fill="#666" text-anchor="start" font-weight="normal" textLength="10.5" lengthAdjust="spacingAndGlyphs">Color Codes</text>
<rect x="491.30" y="117.40" width="5.60" height="4.40" fill="#ffffff" stroke="#444" stroke-width="0.55"/>
<text x="498.50" y="120.30" font-size="2.30" fill="#333" text-anchor="start" font-weight="bold" textLength="4.4" lengthAdjust="spacingAndGlyphs">none</text>
<rect x="491.30" y="125.10" width="5.60" height="4.40" fill="#f8f240" stroke="#444" stroke-width="0.55"/>
<text x="498.50" y="128.00" font-size="2.30" fill="#333" text-anchor="start" font-weight="bold" textLength="7.2" lengthAdjust="spacingAndGlyphs">1 - 10</text>
<rect x="491.30" y="132.70" width="5.60" height="4.40" fill="#edbd32" stroke="#444" stroke-width="0.55"/>
<text x="498.50" y="135.60" font-size="2.30" fill="#333" text-anchor="start" font-weight="bold" textLength="9.2" lengthAdjust="spacingAndGlyphs">11 - 20</text>
<rect x="491.30" y="140.40" width="5.60" height="4.40" fill="#5ab354" stroke="#444" stroke-width="0.55"/>
<text x="498.50" y="143.30" font-size="2.30" fill="#333" text-anchor="start" font-weight="bold" textLength="9.9" lengthAdjust="spacingAndGlyphs">21 - 40</text>
<rect x="491.30" y="148.10" width="5.60" height="4.40" fill="#4470c8" stroke="#444" stroke-width="0.55"/>
<text x="498.50" y="151.00" font-size="2.30" fill="#333" text-anchor="start" font-weight="bold" textLength="9.9" lengthAdjust="spacingAndGlyphs">41 - 60</text>
<rect x="491.30" y="155.40" width="5.60" height="4.40" fill="#5d2b9e" stroke="#444" stroke-width="0.55"/>
<text x="498.50" y="158.30" font-size="2.30" fill="#333" text-anchor="start" font-weight="bold" textLength="12.4" lengthAdjust="spacingAndGlyphs">61 - 80</text>
<rect x="491.30" y="163.00" width="5.60" height="4.40" fill="#4f2a88" stroke="#444" stroke-width="0.55"/>
<rect x="492.90" y="164.60" width="2.40" height="1.20" fill="#cfc3e6" opacity="0.7"/>
<text x="498.50" y="165.90" font-size="2.30" fill="#333" text-anchor="start" font-weight="bold" textLength="12.4" lengthAdjust="spacingAndGlyphs">81 - 90</text>
<rect x="491.30" y="170.60" width="5.60" height="4.40" fill="#452a70" stroke="#444" stroke-width="0.55"/>
<rect x="492.90" y="172.20" width="2.40" height="1.20" fill="#cfc3e6" opacity="0.7"/>
<text x="498.50" y="173.50" font-size="2.30" fill="#333" text-anchor="start" font-weight="bold" textLength="12.4" lengthAdjust="spacingAndGlyphs">91 - 100</text>
</g>
</svg>
</body></html>
